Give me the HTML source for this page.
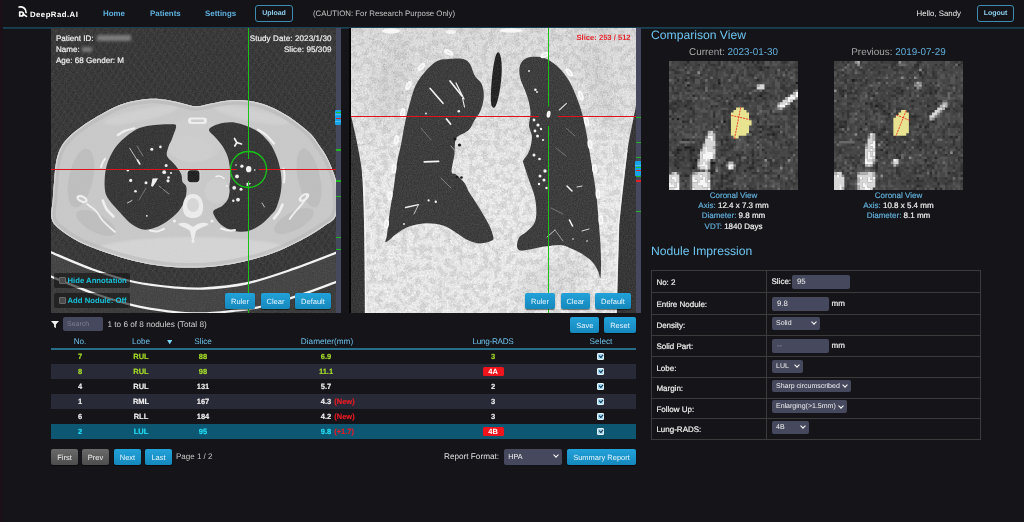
<!DOCTYPE html>
<html>
<head>
<meta charset="utf-8">
<title>DeepRad.AI</title>
<style>
*{box-sizing:border-box;margin:0;padding:0}
html,body{text-rendering:geometricPrecision;width:1024px;height:522px;overflow:hidden;background:#151419;font-family:"Liberation Sans",sans-serif;color:#e8e8e8}
.abs{position:absolute}
#nav{position:absolute;left:0;top:0;width:1024px;height:29px;border-bottom:2px solid #17394a;background:#151419}
#nav .lnk{position:absolute;top:8.5px;line-height:10px;font-size:7.9px;font-weight:bold;color:#5fb0dc;white-space:nowrap}
#nav .txt{position:absolute;top:8.5px;line-height:10px;font-size:7.85px;color:#c4c4c4;white-space:nowrap}
.obtn{position:absolute;border:1px solid #3f8db3;border-radius:3px;font-size:7px;font-weight:bold;color:#8fd0f0;text-align:center;line-height:15px;height:17px}
.leftstrip{position:absolute;left:0;top:0;width:3.3px;height:522px;background:#1c1019;z-index:5}
.view{position:absolute;top:28px;height:285px;width:285px;overflow:hidden;background:#2b2b2b}
.sbar{position:absolute;top:28px;width:5px;height:285px;background:#474a5e}
.ovl{position:absolute;font-size:8.05px;color:#f2f2f2;white-space:nowrap;line-height:11.45px;-webkit-text-stroke:.2px #f2f2f2}
.bbtn{position:absolute;height:16px;border-radius:2px;background:linear-gradient(#23a3da,#1689bd);color:#e6f6ff;font-size:7.5px;text-align:center;line-height:17px;box-shadow:0 1px 1px rgba(0,0,0,.5)}
.gbtn{position:absolute;height:16px;border-radius:2px;background:linear-gradient(#6a6a6a,#4e4e4e);color:#f0f0f0;font-size:7.5px;text-align:center;line-height:17px;box-shadow:0 1px 1px rgba(0,0,0,.5)}
.chk{position:absolute;left:54px;width:76px;height:15px;background:rgba(20,20,20,.62);border-radius:2px}
.chk i{position:absolute;left:5px;top:4px;width:7px;height:7px;background:#4b4b4b;border:1px solid #6a6a6a;border-radius:1px}
.chk span{position:absolute;left:13.5px;top:2.5px;line-height:10px;font-size:7.72px;font-weight:bold;color:#19c3dc;white-space:nowrap}
/* nodule table */
.th{position:absolute;top:337.1px;line-height:10px;font-size:8.2px;color:#6ec2ea;transform:translateX(-50%);white-space:nowrap}
.row{position:absolute;left:51px;width:585px;height:15px;font-size:7.5px;font-weight:bold;color:#f0f0f0}
.row span{position:absolute;top:3.3px;-webkit-text-stroke:.15px;transform:translateX(-50%);white-space:nowrap;line-height:10px}
.row em{font-style:normal;color:#ee1c25;position:absolute;left:100%;margin-left:3px;top:0}
.row b.badge{position:absolute;left:431.6px;top:3.4px;width:21px;height:8.4px;background:#f0141c;color:#fff;font-size:7.5px;line-height:9.5px;text-align:center;border-radius:1.5px}
.row i.cb{position:absolute;left:546.4px;top:3.9px;width:6.8px;height:6.8px;background:#9dd6f6;border:.6px solid #e8f6ff;border-radius:1px}
.row i.cb:after{content:"";position:absolute;left:.9px;top:.1px;width:3.4px;height:1.9px;border-left:1.3px solid #15324a;border-bottom:1.3px solid #15324a;transform:rotate(-48deg)}
.hpa:after{top:4.8px !important}
.g{color:#a9e02a !important}
.c{color:#24e0f8 !important}
.odd{background:#2a2b39}
.sel{background:#0f5873}
/* right panel */
.h2{position:absolute;left:651px;line-height:16px;font-size:12.15px;color:#6ec6f0;white-space:nowrap}
.cap{position:absolute;line-height:12px;font-size:9.9px;color:#a8a8a8;white-space:nowrap;transform:translateX(-50%)}
.cap b{font-weight:normal;color:#62aed8}
.info{position:absolute;font-size:8px;line-height:10.4px;-webkit-text-stroke:.2px;text-align:center;color:#f0f0f0;white-space:nowrap;transform:translateX(-50%)}
.info b{font-weight:normal;color:#62aed8}
.thumb{position:absolute;top:61px;width:129px;height:129px;background:#4a4a4a;overflow:hidden}
#imp{position:absolute;left:651px;top:270px;width:330px;height:170px;border:1px solid #3c3c3c}
#imp .hl{position:absolute;left:0;width:328px;height:1px;background:#3c3c3c}
#imp .vl{position:absolute;left:113.6px;top:0;width:1px;height:168px;background:#3c3c3c}
#imp .lb{position:absolute;left:4.4px;-webkit-text-stroke:.2px;line-height:10px;font-size:8px;color:#f0f0f0;white-space:nowrap}
.inp{position:absolute;height:14px;background:#474a5e;border-radius:2px;font-size:7.8px;color:#f2f2f2;line-height:14px;padding-left:5px}
.selx{position:absolute;height:12.6px;background:#474a5e;border-radius:2px;font-size:7px;color:#f2f2f2;line-height:13px;padding-left:4px;white-space:nowrap}
.selx:after{content:"";position:absolute;right:4px;top:3.2px;width:3px;height:3px;border-right:1.2px solid #fff;border-bottom:1.2px solid #fff;transform:rotate(45deg)}
</style>
</head>
<body>
<div id="root" style="position:absolute;left:0;top:0;width:1024px;height:522px;will-change:transform;opacity:.9999">
<div class="leftstrip"></div>
<!-- NAV -->
<div id="nav">
  <svg class="abs" style="left:18px;top:6px" width="10" height="12" viewBox="0 0 10 12"><path d="M1.1 1 C4.8 0.3 8.2 2.6 8.1 6.6" fill="none" stroke="#fff" stroke-width="1.7" stroke-linecap="round"/><path d="M1.7 6.0 H3.4 A2.0 2.0 0 0 1 3.4 10 H1.7Z" fill="none" stroke="#fff" stroke-width="1.7" stroke-linejoin="round"/><path d="M5.4 8.4 L8.5 10.4" stroke="#fff" stroke-width="1.7" stroke-linecap="round"/></svg>
  <div class="abs" style="left:30px;top:9.9px;line-height:10px;font-size:7.8px;letter-spacing:.45px;font-weight:bold;color:#fff;white-space:nowrap">DeepRad.AI</div>
  <div class="lnk" style="left:103px">Home</div>
  <div class="lnk" style="left:150px">Patients</div>
  <div class="lnk" style="left:205px">Settings</div>
  <div class="obtn" style="left:255px;top:5px;width:38px">Upload</div>
  <div class="txt" style="left:313px">(CAUTION: For Research Purpose Only)</div>
  <div class="abs" style="left:916.5px;top:8.5px;line-height:10px;font-size:7.85px;color:#f0f0f0;white-space:nowrap">Hello, Sandy</div>
  <div class="obtn" style="left:977px;top:5px;width:37px">Logout</div>
</div>

<!-- AXIAL VIEW -->
<div class="view" id="ax" style="left:51px">
<!--AXIAL-SVG-->
<svg class="abs" style="left:0;top:0" width="285" height="285" viewBox="0 0 285 285">
<defs>
<filter id="nz" x="0" y="0" width="100%" height="100%"><feTurbulence type="fractalNoise" baseFrequency="0.9" numOctaves="2" seed="3" result="n"/><feColorMatrix in="n" type="matrix" values="0 0 0 0 0.5  0 0 0 0 0.5  0 0 0 0 0.5  0.9 0.9 0.9 0 -0.95"/></filter>
<filter id="b1"><feGaussianBlur stdDeviation="0.6"/></filter>
<filter id="b2"><feGaussianBlur stdDeviation="1.2"/></filter>
<pattern id="diag" width="5" height="5" patternUnits="userSpaceOnUse" patternTransform="rotate(32)"><rect width="5" height="5" fill="#303030"/><rect width="1.3" height="5" fill="#383838"/></pattern>
<pattern id="diag2" width="7" height="7" patternUnits="userSpaceOnUse" patternTransform="rotate(-38)"><rect width="1.4" height="7" fill="#3c3c3c" opacity=".6"/></pattern>
</defs>
<rect width="285" height="285" fill="url(#diag)"/>
<rect width="285" height="285" fill="url(#diag2)"/>
<path d="M-5.0 222.0 C-4.2 222.4 -7.8 221.1 0.0 224.3 C7.8 227.6 27.8 236.6 41.7 241.5 C55.6 246.4 69.6 251.0 83.5 254.0 C97.4 257.0 113.4 258.5 125.0 259.6 C136.6 260.7 141.3 261.2 153.0 260.5 C164.7 259.8 181.1 258.4 195.0 255.5 C208.9 252.6 221.6 248.1 236.6 243.0 C251.6 237.9 276.1 228.3 285.0 224.8 C293.9 221.3 289.2 222.5 290.0 222.0 L290 290 L-5 290Z" fill="#434343" opacity=".85"/>
<path d="M-5.0 246.0 C-4.2 246.4 -7.8 245.3 0.0 248.5 C7.8 251.7 27.8 260.1 41.7 265.0 C55.6 269.9 71.0 274.6 83.5 277.7 C96.0 280.8 105.9 282.0 117.0 283.3 C128.1 284.6 139.3 285.6 150.0 285.5 C160.7 285.4 171.2 284.1 181.0 283.0 C190.8 281.9 197.1 281.7 208.7 279.0 C220.3 276.3 237.8 270.8 250.5 266.6 C263.2 262.4 278.4 256.4 285.0 254.0 C291.6 251.6 289.2 252.3 290.0 252.0 L290 290 L-5 290Z" fill="#363636" opacity=".9"/>
<path d="M-5.0 222.0 C-4.2 222.4 -7.8 221.1 0.0 224.3 C7.8 227.6 27.8 236.6 41.7 241.5 C55.6 246.4 69.6 251.0 83.5 254.0 C97.4 257.0 113.4 258.5 125.0 259.6 C136.6 260.7 141.3 261.2 153.0 260.5 C164.7 259.8 181.1 258.4 195.0 255.5 C208.9 252.6 221.6 248.1 236.6 243.0 C251.6 237.9 276.1 228.3 285.0 224.8 C293.9 221.3 289.2 222.5 290.0 222.0" fill="none" stroke="#f8f8f8" stroke-width="2.3"/>
<path d="M-5.0 246.0 C-4.2 246.4 -7.8 245.3 0.0 248.5 C7.8 251.7 27.8 260.1 41.7 265.0 C55.6 269.9 71.0 274.6 83.5 277.7 C96.0 280.8 105.9 282.0 117.0 283.3 C128.1 284.6 139.3 285.6 150.0 285.5 C160.7 285.4 171.2 284.1 181.0 283.0 C190.8 281.9 197.1 281.7 208.7 279.0 C220.3 276.3 237.8 270.8 250.5 266.6 C263.2 262.4 278.4 256.4 285.0 254.0 C291.6 251.6 289.2 252.3 290.0 252.0" fill="none" stroke="#f8f8f8" stroke-width="2.3"/>
<g filter="url(#b1)">
<path d="M145.3 78.3 C140.2 78.2 135.1 76.1 130.0 75.0 C125.0 73.9 120.0 72.5 115.0 71.8 C110.0 71.1 105.3 70.5 100.0 70.7 C94.7 70.9 88.3 71.8 83.0 72.9 C77.7 74.0 72.9 75.2 67.9 77.2 C62.9 79.2 57.5 82.2 52.9 84.7 C48.2 87.2 43.8 89.8 40.0 92.2 C36.2 94.6 33.4 96.5 30.0 99.0 C26.6 101.5 22.6 104.3 19.4 107.5 C16.1 110.7 12.8 114.2 10.5 118.3 C8.2 122.4 6.7 126.4 5.5 132.0 C4.3 137.6 3.8 145.2 3.2 151.7 C2.6 158.2 2.2 164.6 1.8 171.0 C1.4 177.4 -0.6 185.0 0.5 190.0 C1.6 195.0 3.8 197.1 8.3 201.0 C12.9 204.9 19.9 209.7 27.8 213.7 C35.7 217.7 46.4 221.6 55.7 224.8 C65.0 228.0 74.3 230.8 83.5 233.0 C92.7 235.2 101.8 236.9 111.0 238.0 C120.2 239.1 129.7 239.6 139.0 239.6 C148.3 239.6 157.7 239.1 167.0 238.0 C176.3 236.9 185.7 235.2 195.0 233.0 C204.3 230.8 213.4 228.3 222.7 224.8 C231.9 221.3 242.2 216.4 250.5 212.0 C258.8 207.6 266.9 202.6 272.7 198.4 C278.4 194.2 282.8 193.4 285.0 187.0 C287.2 180.6 286.3 166.8 286.0 160.0 C285.7 153.2 284.7 151.1 283.0 146.0 C281.3 140.9 278.5 134.2 276.0 129.4 C273.5 124.6 270.7 120.9 268.0 117.0 C265.3 113.1 263.7 110.0 260.0 106.2 C256.3 102.4 251.2 98.2 246.0 94.4 C240.8 90.6 234.7 86.6 229.0 83.6 C223.3 80.5 217.6 77.9 211.9 76.1 C206.2 74.2 200.4 73.1 194.7 72.5 C189.0 71.9 183.2 72.0 177.5 72.5 C171.8 73.0 165.7 74.5 160.3 75.5 C154.9 76.5 150.4 78.4 145.3 78.3Z" fill="#cbcbcb"/>
<clipPath id="bodyclip"><path d="M145.3 78.3 C140.2 78.2 135.1 76.1 130.0 75.0 C125.0 73.9 120.0 72.5 115.0 71.8 C110.0 71.1 105.3 70.5 100.0 70.7 C94.7 70.9 88.3 71.8 83.0 72.9 C77.7 74.0 72.9 75.2 67.9 77.2 C62.9 79.2 57.5 82.2 52.9 84.7 C48.2 87.2 43.8 89.8 40.0 92.2 C36.2 94.6 33.4 96.5 30.0 99.0 C26.6 101.5 22.6 104.3 19.4 107.5 C16.1 110.7 12.8 114.2 10.5 118.3 C8.2 122.4 6.7 126.4 5.5 132.0 C4.3 137.6 3.8 145.2 3.2 151.7 C2.6 158.2 2.2 164.6 1.8 171.0 C1.4 177.4 -0.6 185.0 0.5 190.0 C1.6 195.0 3.8 197.1 8.3 201.0 C12.9 204.9 19.9 209.7 27.8 213.7 C35.7 217.7 46.4 221.6 55.7 224.8 C65.0 228.0 74.3 230.8 83.5 233.0 C92.7 235.2 101.8 236.9 111.0 238.0 C120.2 239.1 129.7 239.6 139.0 239.6 C148.3 239.6 157.7 239.1 167.0 238.0 C176.3 236.9 185.7 235.2 195.0 233.0 C204.3 230.8 213.4 228.3 222.7 224.8 C231.9 221.3 242.2 216.4 250.5 212.0 C258.8 207.6 266.9 202.6 272.7 198.4 C278.4 194.2 282.8 193.4 285.0 187.0 C287.2 180.6 286.3 166.8 286.0 160.0 C285.7 153.2 284.7 151.1 283.0 146.0 C281.3 140.9 278.5 134.2 276.0 129.4 C273.5 124.6 270.7 120.9 268.0 117.0 C265.3 113.1 263.7 110.0 260.0 106.2 C256.3 102.4 251.2 98.2 246.0 94.4 C240.8 90.6 234.7 86.6 229.0 83.6 C223.3 80.5 217.6 77.9 211.9 76.1 C206.2 74.2 200.4 73.1 194.7 72.5 C189.0 71.9 183.2 72.0 177.5 72.5 C171.8 73.0 165.7 74.5 160.3 75.5 C154.9 76.5 150.4 78.4 145.3 78.3Z"/></clipPath>
<g clip-path="url(#bodyclip)" filter="url(#b2)"><ellipse cx="142" cy="224" rx="100" ry="15" fill="#d8d8d8" opacity=".9"/><ellipse cx="90" cy="87" rx="38" ry="6" fill="#d4d4d4" opacity=".8" transform="rotate(-12 90 87)"/><ellipse cx="200" cy="87" rx="38" ry="6" fill="#d4d4d4" opacity=".8" transform="rotate(12 200 87)"/><ellipse cx="142" cy="112" rx="30" ry="22" fill="#d0d0d0" opacity=".7"/></g>
<path d="M103.6 96.9 C109.0 96.3 117.3 96.1 120.9 96.3 C124.5 96.5 124.9 96.1 125.1 98.2 C125.2 100.3 123.1 105.0 121.8 108.7 C120.5 112.4 118.0 117.0 117.0 120.2 C116.0 123.4 115.2 125.5 116.0 127.9 C116.8 130.3 120.0 132.5 121.8 134.6 C123.6 136.7 125.1 138.2 126.6 140.3 C128.0 142.4 129.7 144.8 130.5 147.0 C131.3 149.2 130.6 151.9 131.4 153.8 C132.2 155.7 134.6 156.4 135.2 158.5 C135.8 160.6 135.7 163.3 135.2 166.2 C134.7 169.1 134.1 172.5 132.4 175.8 C130.7 179.1 128.6 182.6 125.0 186.0 C121.4 189.4 116.1 193.9 111.0 196.5 C105.9 199.1 99.5 201.8 94.4 201.7 C89.3 201.6 85.1 199.3 80.5 196.0 C75.9 192.7 70.7 186.3 66.7 182.0 C62.7 177.7 58.9 173.6 56.7 170.0 C54.6 166.4 54.2 164.7 53.8 160.5 C53.4 156.3 53.6 149.9 54.2 145.1 C54.9 140.3 55.9 136.2 57.7 131.7 C59.6 127.2 62.4 122.1 65.3 118.3 C68.2 114.5 71.1 111.7 74.9 108.7 C78.7 105.7 83.5 102.1 88.3 100.1 C93.1 98.1 98.2 97.5 103.6 96.9Z" fill="#333333"/>
<path d="M158.0 101.7 C158.5 99.4 163.4 97.2 167.8 96.0 C172.2 94.8 178.4 93.8 184.4 94.7 C190.4 95.7 198.4 98.5 204.0 101.7 C209.6 104.9 214.1 109.4 217.8 114.0 C221.5 118.6 224.0 124.1 226.0 129.4 C228.0 134.7 229.3 140.4 230.0 146.0 C230.7 151.6 230.8 157.2 230.0 162.8 C229.2 168.4 227.2 175.4 225.5 179.4 C223.8 183.4 222.6 184.1 220.0 187.0 C217.4 189.9 213.9 193.9 210.0 196.6 C206.1 199.3 201.4 202.3 196.6 203.3 C191.8 204.3 185.8 203.5 181.3 202.4 C176.8 201.3 172.9 199.2 169.8 196.6 C166.8 194.0 164.1 189.4 163.0 187.0 C161.9 184.6 161.6 183.9 163.0 182.3 C164.4 180.7 169.3 179.6 171.7 177.5 C174.1 175.4 176.4 173.0 177.5 169.8 C178.6 166.6 178.1 162.1 178.4 158.3 C178.7 154.5 179.6 151.3 179.4 146.8 C179.2 142.3 178.6 136.0 177.5 131.5 C176.4 127.0 174.8 123.6 172.7 120.0 C170.6 116.4 167.4 113.0 165.0 110.0 C162.6 107.0 157.5 104.0 158.0 101.7Z" fill="#333333"/>
</g>
<g filter="url(#b1)">
<g clip-path="url(#bodyclip)">
<path d="M145.3 78.3 C140.2 78.2 135.1 76.1 130.0 75.0 C125.0 73.9 120.0 72.5 115.0 71.8 C110.0 71.1 105.3 70.5 100.0 70.7 C94.7 70.9 88.3 71.8 83.0 72.9 C77.7 74.0 72.9 75.2 67.9 77.2 C62.9 79.2 57.5 82.2 52.9 84.7 C48.2 87.2 43.8 89.8 40.0 92.2 C36.2 94.6 33.4 96.5 30.0 99.0 C26.6 101.5 22.6 104.3 19.4 107.5 C16.1 110.7 12.8 114.2 10.5 118.3 C8.2 122.4 6.7 126.4 5.5 132.0 C4.3 137.6 3.8 145.2 3.2 151.7 C2.6 158.2 2.2 164.6 1.8 171.0 C1.4 177.4 -0.6 185.0 0.5 190.0 C1.6 195.0 3.8 197.1 8.3 201.0 C12.9 204.9 19.9 209.7 27.8 213.7 C35.7 217.7 46.4 221.6 55.7 224.8 C65.0 228.0 74.3 230.8 83.5 233.0 C92.7 235.2 101.8 236.9 111.0 238.0 C120.2 239.1 129.7 239.6 139.0 239.6 C148.3 239.6 157.7 239.1 167.0 238.0 C176.3 236.9 185.7 235.2 195.0 233.0 C204.3 230.8 213.4 228.3 222.7 224.8 C231.9 221.3 242.2 216.4 250.5 212.0 C258.8 207.6 266.9 202.6 272.7 198.4 C278.4 194.2 282.8 193.4 285.0 187.0 C287.2 180.6 286.3 166.8 286.0 160.0 C285.7 153.2 284.7 151.1 283.0 146.0 C281.3 140.9 278.5 134.2 276.0 129.4 C273.5 124.6 270.7 120.9 268.0 117.0 C265.3 113.1 263.7 110.0 260.0 106.2 C256.3 102.4 251.2 98.2 246.0 94.4 C240.8 90.6 234.7 86.6 229.0 83.6 C223.3 80.5 217.6 77.9 211.9 76.1 C206.2 74.2 200.4 73.1 194.7 72.5 C189.0 71.9 183.2 72.0 177.5 72.5 C171.8 73.0 165.7 74.5 160.3 75.5 C154.9 76.5 150.4 78.4 145.3 78.3Z" fill="none" stroke="#dadada" stroke-width="2.2" opacity=".9"/>
<path d="M145.3 78.3 C140.2 78.2 135.1 76.1 130.0 75.0 C125.0 73.9 120.0 72.5 115.0 71.8 C110.0 71.1 105.3 70.5 100.0 70.7 C94.7 70.9 88.3 71.8 83.0 72.9 C77.7 74.0 72.9 75.2 67.9 77.2 C62.9 79.2 57.5 82.2 52.9 84.7 C48.2 87.2 43.8 89.8 40.0 92.2 C36.2 94.6 33.4 96.5 30.0 99.0 C26.6 101.5 22.6 104.3 19.4 107.5 C16.1 110.7 12.8 114.2 10.5 118.3 C8.2 122.4 6.7 126.4 5.5 132.0 C4.3 137.6 3.8 145.2 3.2 151.7 C2.6 158.2 2.2 164.6 1.8 171.0 C1.4 177.4 -0.6 185.0 0.5 190.0 C1.6 195.0 3.8 197.1 8.3 201.0 C12.9 204.9 19.9 209.7 27.8 213.7 C35.7 217.7 46.4 221.6 55.7 224.8 C65.0 228.0 74.3 230.8 83.5 233.0 C92.7 235.2 101.8 236.9 111.0 238.0 C120.2 239.1 129.7 239.6 139.0 239.6 C148.3 239.6 157.7 239.1 167.0 238.0 C176.3 236.9 185.7 235.2 195.0 233.0 C204.3 230.8 213.4 228.3 222.7 224.8 C231.9 221.3 242.2 216.4 250.5 212.0 C258.8 207.6 266.9 202.6 272.7 198.4 C278.4 194.2 282.8 193.4 285.0 187.0 C287.2 180.6 286.3 166.8 286.0 160.0 C285.7 153.2 284.7 151.1 283.0 146.0 C281.3 140.9 278.5 134.2 276.0 129.4 C273.5 124.6 270.7 120.9 268.0 117.0 C265.3 113.1 263.7 110.0 260.0 106.2 C256.3 102.4 251.2 98.2 246.0 94.4 C240.8 90.6 234.7 86.6 229.0 83.6 C223.3 80.5 217.6 77.9 211.9 76.1 C206.2 74.2 200.4 73.1 194.7 72.5 C189.0 71.9 183.2 72.0 177.5 72.5 C171.8 73.0 165.7 74.5 160.3 75.5 C154.9 76.5 150.4 78.4 145.3 78.3Z" fill="none" stroke="#b6b6b6" stroke-width="9" opacity=".5"/>
<path d="M145.3 78.3 C140.2 78.2 135.1 76.1 130.0 75.0 C125.0 73.9 120.0 72.5 115.0 71.8 C110.0 71.1 105.3 70.5 100.0 70.7 C94.7 70.9 88.3 71.8 83.0 72.9 C77.7 74.0 72.9 75.2 67.9 77.2 C62.9 79.2 57.5 82.2 52.9 84.7 C48.2 87.2 43.8 89.8 40.0 92.2 C36.2 94.6 33.4 96.5 30.0 99.0 C26.6 101.5 22.6 104.3 19.4 107.5 C16.1 110.7 12.8 114.2 10.5 118.3 C8.2 122.4 6.7 126.4 5.5 132.0 C4.3 137.6 3.8 145.2 3.2 151.7 C2.6 158.2 2.2 164.6 1.8 171.0 C1.4 177.4 -0.6 185.0 0.5 190.0 C1.6 195.0 3.8 197.1 8.3 201.0 C12.9 204.9 19.9 209.7 27.8 213.7 C35.7 217.7 46.4 221.6 55.7 224.8 C65.0 228.0 74.3 230.8 83.5 233.0 C92.7 235.2 101.8 236.9 111.0 238.0 C120.2 239.1 129.7 239.6 139.0 239.6 C148.3 239.6 157.7 239.1 167.0 238.0 C176.3 236.9 185.7 235.2 195.0 233.0 C204.3 230.8 213.4 228.3 222.7 224.8 C231.9 221.3 242.2 216.4 250.5 212.0 C258.8 207.6 266.9 202.6 272.7 198.4 C278.4 194.2 282.8 193.4 285.0 187.0 C287.2 180.6 286.3 166.8 286.0 160.0 C285.7 153.2 284.7 151.1 283.0 146.0 C281.3 140.9 278.5 134.2 276.0 129.4 C273.5 124.6 270.7 120.9 268.0 117.0 C265.3 113.1 263.7 110.0 260.0 106.2 C256.3 102.4 251.2 98.2 246.0 94.4 C240.8 90.6 234.7 86.6 229.0 83.6 C223.3 80.5 217.6 77.9 211.9 76.1 C206.2 74.2 200.4 73.1 194.7 72.5 C189.0 71.9 183.2 72.0 177.5 72.5 C171.8 73.0 165.7 74.5 160.3 75.5 C154.9 76.5 150.4 78.4 145.3 78.3Z" fill="none" stroke="#dcdcdc" stroke-width="2" opacity=".9"/>
</g>
<ellipse cx="30" cy="150" rx="12" ry="30" fill="#b6b6b6" opacity=".55" transform="rotate(12 30 150)"/>
<ellipse cx="258" cy="150" rx="11" ry="30" fill="#b6b6b6" opacity=".55" transform="rotate(-12 258 150)"/>
<ellipse cx="45" cy="195" rx="22" ry="9" fill="#b6b6b6" opacity=".5" transform="rotate(28 45 195)"/>
<ellipse cx="243" cy="193" rx="22" ry="9" fill="#b6b6b6" opacity=".5" transform="rotate(-28 243 193)"/>
<ellipse cx="139.5" cy="121.5" rx="22" ry="12.5" fill="#d0d0d0" transform="rotate(8 139.5 121.5)"/>
<circle cx="166" cy="163" r="12.5" fill="#d0d0d0"/>
<path d="M165 148.5 C168 147.5 171 148.5 173 150.5" stroke="#f6f6f6" stroke-width="1.6" fill="none" stroke-linecap="round"/>
<rect x="135.3" y="140.8" width="14.4" height="14.8" rx="4.5" fill="#d6d6d6"/>
<rect x="136.6" y="142.2" width="11.8" height="12" rx="3.4" fill="#1c1c1c"/>
<rect x="137" y="89.5" width="19" height="6.5" rx="3.2" fill="#f2f2f2"/>
<rect x="140" y="91.6" width="13" height="2.3" rx="1.1" fill="#cfcfcf"/>
<path d="M142 166 C150 166 153 174 152 182 C151 188 147 190 142 190 C137 190 133 188 132 182 C131 174 134 166 142 166Z" fill="#efefef"/>
<ellipse cx="142" cy="177" rx="6" ry="7" fill="#d9d9d9"/>
<path d="M127 196 C133 193 138 196 142 199 C146 196 151 193 158 196 C154 199 148 200 145 203 L142 216 L139 203 C136 200 130 199 127 196Z" fill="#f1f1f1"/>
<circle cx="142.0" cy="213.0" r="1.5" fill="#f4f4f4"/>
<circle cx="123.5" cy="193.0" r="1.6" fill="#f4f4f4"/>
<circle cx="161.0" cy="193.0" r="1.6" fill="#f4f4f4"/>
<path d="M66.7 107.2 C67.9 106.5 71.2 104.0 74.0 102.8 C76.8 101.6 81.8 100.7 83.3 100.3" fill="none" stroke="#f4f4f4" stroke-width="2.2" stroke-linecap="round" opacity="1"/>
<path d="M50.0 139.0 C50.2 138.3 50.8 136.4 51.5 135.0 C52.2 133.6 53.6 131.5 54.0 130.8" fill="none" stroke="#f4f4f4" stroke-width="2.0" stroke-linecap="round" opacity="1"/>
<path d="M51.8 172.5 C52.4 173.9 53.7 178.3 55.5 181.0 C57.3 183.7 61.3 187.2 62.5 188.5" fill="none" stroke="#f4f4f4" stroke-width="2.6" stroke-linecap="round" opacity="1"/>
<path d="M99.0 202.5 C100.2 202.7 103.7 203.8 106.0 203.5 C108.3 203.2 111.8 201.4 113.0 201.0" fill="none" stroke="#f4f4f4" stroke-width="2.0" stroke-linecap="round" opacity="1"/>
<ellipse cx="31" cy="171" rx="6" ry="3.6" fill="#f3f3f3" transform="rotate(25 31 171)"/>
<ellipse cx="31" cy="171" rx="3.4" ry="1.5" fill="#c9c9c9" transform="rotate(25 31 171)"/>
<path d="M36.0 176.0 C37.5 177.2 42.3 180.2 45.0 183.0 C47.7 185.8 48.8 189.5 52.0 193.0 C55.2 196.5 62.0 202.2 64.0 204.0" fill="none" stroke="#f4f4f4" stroke-width="1.8" stroke-linecap="round" opacity="1"/>
<path d="M207.0 101.7 C208.3 102.6 212.3 104.7 215.0 107.0 C217.7 109.3 221.7 114.1 223.0 115.5" fill="none" stroke="#f4f4f4" stroke-width="2.2" stroke-linecap="round" opacity="1"/>
<path d="M232.5 140.5 C232.7 141.6 233.4 144.7 233.5 147.0 C233.6 149.3 233.1 153.2 233.0 154.4" fill="none" stroke="#f4f4f4" stroke-width="2.0" stroke-linecap="round" opacity="1"/>
<path d="M231.5 176.7 C230.9 177.9 229.4 181.7 228.0 184.0 C226.6 186.3 223.8 189.4 223.0 190.5" fill="none" stroke="#f4f4f4" stroke-width="2.6" stroke-linecap="round" opacity="1"/>
<path d="M170.0 200.5 C171.2 200.8 174.7 202.2 177.0 202.5 C179.3 202.8 182.8 202.1 184.0 202.0" fill="none" stroke="#f4f4f4" stroke-width="2.0" stroke-linecap="round" opacity="1"/>
<ellipse cx="253" cy="169.5" rx="6" ry="3.4" fill="#f3f3f3" transform="rotate(-35 253 169.5)"/>
<ellipse cx="253" cy="169.5" rx="3.2" ry="1.4" fill="#c9c9c9" transform="rotate(-35 253 169.5)"/>
<path d="M257.0 167.0 C256.0 168.5 253.2 173.2 251.0 176.0 C248.8 178.8 246.1 181.5 244.0 184.0 C241.9 186.5 239.5 189.8 238.6 191.0" fill="none" stroke="#f4f4f4" stroke-width="1.8" stroke-linecap="round" opacity="1"/>
<ellipse cx="173" cy="90" rx="5" ry="2.2" fill="#e9e9e9" opacity=".0"/>
</g>
<g>
<circle cx="109.4" cy="118.9" r="1.3" fill="#f4f4f4"/>
<circle cx="100.8" cy="121.2" r="1.5" fill="#f4f4f4"/>
<circle cx="76.8" cy="142.3" r="1.2" fill="#f4f4f4"/>
<circle cx="79.7" cy="152.4" r="1.6" fill="#f4f4f4"/>
<circle cx="95.0" cy="154.7" r="1.5" fill="#f4f4f4"/>
<circle cx="113.2" cy="144.2" r="1.9" fill="#f4f4f4"/>
<circle cx="115.1" cy="137.5" r="1.5" fill="#f4f4f4"/>
<circle cx="117.0" cy="152.8" r="1.6" fill="#f4f4f4"/>
<circle cx="117.5" cy="149.5" r="1.3" fill="#f4f4f4"/>
<circle cx="84.5" cy="163.3" r="1.3" fill="#f4f4f4"/>
<circle cx="95.8" cy="187.8" r="0.9" fill="#f4f4f4"/>
<circle cx="120.0" cy="145.0" r="1.0" fill="#f4f4f4"/>
<circle cx="190.9" cy="138.2" r="1.6" fill="#f4f4f4"/>
<circle cx="186.0" cy="148.4" r="1.9" fill="#f4f4f4"/>
<circle cx="203.7" cy="142.0" r="0.8" fill="#f4f4f4"/>
<circle cx="196.6" cy="156.0" r="1.2" fill="#f4f4f4"/>
<circle cx="183.2" cy="159.8" r="1.9" fill="#f4f4f4"/>
<circle cx="190.0" cy="161.2" r="1.5" fill="#f4f4f4"/>
<circle cx="187.0" cy="171.7" r="1.9" fill="#f4f4f4"/>
<circle cx="182.3" cy="172.7" r="1.2" fill="#f4f4f4"/>
<circle cx="185.0" cy="137.0" r="0.8" fill="#f4f4f4"/>
<circle cx="176.0" cy="158.0" r="1.0" fill="#f4f4f4"/>
<path d="M100 158 L101.5 150.5 L107 150.2 L105 154 L101.8 158.8Z" fill="#f4f4f4"/>
<circle cx="111.3" cy="160.5" r="1.5" fill="#151515"/>
<path d="M78.7 120.2L88.3 135.5" stroke="#d0d0d0" stroke-width="0.9" stroke-linecap="round" opacity="1"/>
<path d="M86.5 132.0L88.8 136.0" stroke="#f0f0f0" stroke-width="1.6" stroke-linecap="round" opacity="1"/>
<path d="M76.4 175.0L81.0 172.5" stroke="#d8d8d8" stroke-width="0.9" stroke-linecap="round" opacity="1"/>
<path d="M86.0 118.0L92.0 128.0" stroke="#9a9a9a" stroke-width="0.7" stroke-linecap="round" opacity="1"/>
<path d="M108.0 158.0L118.0 166.0" stroke="#a8a8a8" stroke-width="0.8" stroke-linecap="round" opacity="1"/>
<path d="M95.0 160.0L88.0 172.0" stroke="#8a8a8a" stroke-width="0.7" stroke-linecap="round" opacity="1"/>
<path d="M183.5 110.5 L185.8 114.5 L190.5 116 M185.8 114.5 L183.8 118" stroke="#f4f4f4" stroke-width="1.7" fill="none" stroke-linecap="round"/>
<path d="M211.0 175.0L213.5 179.0" stroke="#d0d0d0" stroke-width="0.9" stroke-linecap="round" opacity="1"/>
<ellipse cx="197.7" cy="141.2" rx="2.7" ry="3.1" fill="#f6f6f6"/>
<path d="M196.0 157.5L199.0 155.5" stroke="#eeeeee" stroke-width="1.2" stroke-linecap="round" opacity="1"/>
</g>
<rect width="285" height="285" filter="url(#nz)" opacity="0.15"/>
<path d="M0 141.5H186M208 141.5H285" stroke="#e0141c" stroke-width="1"/>
<path d="M197.5 0V131M197.5 153V285" stroke="#18c418" stroke-width="1"/>
<circle cx="197.5" cy="141.5" r="18" fill="none" stroke="#18c418" stroke-width="1.3"/>
</svg>
<!--/AXIAL-SVG-->
</div>
<div class="sbar" id="axsb" style="left:336px">
<i style="position:absolute;left:-1.5px;top:82.3px;width:6px;height:15px;background:#18a4e6;border-radius:1px"></i>
<i style="position:absolute;left:-1.5px;top:86px;width:6px;height:1px;background:#4fc0f4"></i>
<i style="position:absolute;left:-1.5px;top:92.5px;width:6px;height:1px;background:#4fc0f4"></i>
<i style="position:absolute;left:0;top:83.5px;width:5px;height:1.2px;background:#22c422"></i>
<i style="position:absolute;left:-.5px;top:89.7px;width:5.5px;height:1.6px;background:#e8202a"></i>
<i style="position:absolute;left:0;top:121.4px;width:5px;height:1.2px;background:#22b822"></i>
<i style="position:absolute;left:0;top:152.4px;width:5px;height:1.2px;background:#22b822"></i>
<i style="position:absolute;left:0;top:167.6px;width:5px;height:1.2px;background:#22b822"></i>
<i style="position:absolute;left:0;top:208.7px;width:5px;height:1.2px;background:#22b822"></i>
<i style="position:absolute;left:0;top:221.2px;width:5px;height:1.2px;background:#22b822"></i>
</div>

<!-- CORONAL VIEW -->
<div class="abs" style="left:349px;top:28px;width:2px;height:285px;background:#050507"></div>
<div class="view" id="co" style="left:351px;background:#dcdcdc">
<!--CORONAL-SVG-->
<svg class="abs" style="left:0;top:0" width="285" height="285" viewBox="0 0 285 285">
<defs>
<filter id="nz2" x="0" y="0" width="100%" height="100%"><feTurbulence type="fractalNoise" baseFrequency="0.55" numOctaves="2" seed="11" result="n"/><feColorMatrix in="n" type="matrix" values="0 0 0 0 0.35  0 0 0 0 0.35  0 0 0 0 0.35  1.4 1.4 1.4 0 -1.45"/></filter>
<filter id="nz3" x="0" y="0" width="100%" height="100%"><feTurbulence type="fractalNoise" baseFrequency="0.8" numOctaves="2" seed="5" result="n"/><feColorMatrix in="n" type="matrix" values="0 0 0 0 1  0 0 0 0 1  0 0 0 0 1  1.2 1.2 1.2 0 -1.3"/></filter>
<filter id="nz4" x="0" y="0" width="100%" height="100%" color-interpolation-filters="sRGB"><feTurbulence type="fractalNoise" baseFrequency="0.16" numOctaves="3" seed="8" result="n"/><feColorMatrix in="n" type="matrix" values="0 0 0 0 0.6  0 0 0 0 0.6  0 0 0 0 0.6  6 0 0 0 -2.7"/></filter>
<linearGradient id="topdark" x1="0" y1="0" x2="0" y2="1"><stop offset="0" stop-color="#bdbdbd" stop-opacity=".42"/><stop offset=".3" stop-color="#bdbdbd" stop-opacity=".22"/><stop offset=".55" stop-color="#bdbdbd" stop-opacity="0"/></linearGradient>
<filter id="c1"><feGaussianBlur stdDeviation="0.55"/></filter>
<filter id="c3"><feGaussianBlur stdDeviation="4"/></filter>
</defs>
<rect width="285" height="285" fill="#f5f5f5"/>
<g filter="url(#c3)">
<ellipse cx="40" cy="55" rx="16" ry="45" fill="#dcdcdc" opacity=".8" transform="rotate(14 40 55)"/>
<ellipse cx="250" cy="60" rx="14" ry="45" fill="#dcdcdc" opacity=".8" transform="rotate(-14 250 60)"/>
<ellipse cx="150" cy="150" rx="26" ry="45" fill="#f6f6f6" opacity=".9"/>
<ellipse cx="200" cy="255" rx="40" ry="20" fill="#dedede" opacity=".7" transform="rotate(-30 200 255)"/>
<ellipse cx="90" cy="245" rx="40" ry="30" fill="#f3f3f3" opacity=".8"/>
</g>
<rect width="285" height="285" fill="url(#topdark)"/>
<rect width="285" height="285" filter="url(#nz4)" opacity="0.33"/>
<rect width="285" height="285" filter="url(#nz2)" opacity="0.3"/>
<rect width="285" height="285" filter="url(#nz3)" opacity="0.35"/>
<g filter="url(#c1)">
<path d="M86.2 33.0 C90.0 31.0 93.4 31.3 97.7 31.0 C102.0 30.7 108.5 30.2 112.0 31.0 C115.5 31.8 117.1 33.3 119.0 36.0 C120.9 38.7 121.6 44.1 123.6 47.4 C125.5 50.7 129.2 52.4 130.7 56.0 C132.2 59.6 133.0 64.5 132.8 69.0 C132.6 73.5 130.8 79.5 129.3 83.3 C127.8 87.1 125.3 89.1 123.6 92.0 C121.9 94.9 120.7 98.4 119.0 100.6 C117.3 102.8 115.8 103.3 113.5 105.0 C111.2 106.7 106.7 107.0 105.0 110.6 C103.3 114.2 104.1 120.9 103.4 126.4 C102.7 131.9 100.3 140.3 100.6 143.7 C100.9 147.0 102.8 144.6 105.0 146.5 C107.2 148.4 111.4 152.1 113.5 155.0 C115.6 157.9 116.1 160.8 117.8 163.7 C119.5 166.6 121.4 169.0 123.6 172.4 C125.8 175.8 128.3 179.8 130.7 183.9 C133.1 188.0 136.1 192.7 138.0 196.8 C139.9 200.9 141.7 205.7 142.2 208.3 C142.7 210.9 143.0 211.4 140.8 212.6 C138.7 213.8 133.1 215.5 129.3 215.5 C125.5 215.5 121.6 214.3 117.8 212.6 C114.0 210.9 110.6 207.9 106.3 205.4 C102.0 202.9 97.3 199.3 92.0 197.6 C86.7 195.9 80.5 195.1 74.7 195.3 C69.0 195.5 62.3 197.1 57.5 198.8 C52.7 200.5 49.8 202.9 46.0 205.4 C42.2 207.9 36.7 213.8 35.0 214.0 C33.3 214.2 35.4 211.8 36.0 206.8 C36.6 201.8 37.6 192.0 38.8 183.9 C40.0 175.8 41.8 166.2 43.0 158.0 C44.2 149.8 44.8 142.2 46.0 135.0 C47.2 127.8 48.9 122.2 50.3 115.0 C51.7 107.8 53.1 98.7 54.6 92.0 C56.1 85.3 57.3 80.5 59.0 74.7 C60.7 69.0 62.0 62.8 64.6 57.5 C67.2 52.2 71.1 47.1 74.7 43.0 C78.3 38.9 82.4 35.0 86.2 33.0Z" fill="#363636"/>
<path d="M175.2 30.2 C178.1 28.8 183.1 28.5 186.7 28.7 C190.3 28.9 193.2 29.7 196.8 31.6 C200.4 33.5 204.7 36.6 208.3 40.2 C211.9 43.8 215.4 48.4 218.3 53.2 C221.2 58.0 223.3 63.5 225.5 69.0 C227.7 74.5 229.6 80.0 231.3 86.2 C233.0 92.4 234.3 99.6 235.6 106.3 C236.9 113.0 237.8 119.1 239.0 126.4 C240.2 133.7 241.7 142.8 242.8 150.0 C243.9 157.2 244.8 162.4 245.6 169.5 C246.4 176.6 247.0 184.8 247.6 192.5 C248.2 200.2 249.0 208.3 249.4 215.5 C249.8 222.7 250.0 229.8 250.0 235.6 C250.0 241.3 249.9 248.8 249.4 250.0 C248.9 251.2 248.3 245.5 247.0 242.8 C245.7 240.1 243.7 236.6 241.3 234.0 C238.9 231.4 236.0 229.2 232.7 227.0 C229.3 224.8 225.0 222.7 221.2 221.0 C217.4 219.3 214.0 217.4 209.7 217.0 C205.4 216.6 200.1 217.6 195.3 218.3 C190.5 219.0 185.3 220.3 181.0 221.0 C176.7 221.7 172.0 223.0 169.5 222.6 C167.0 222.2 166.2 220.5 166.0 218.3 C165.8 216.2 166.5 212.1 168.0 209.7 C169.5 207.3 172.8 206.2 175.2 204.0 C177.6 201.8 180.7 199.7 182.4 196.8 C184.1 193.9 185.1 191.2 185.3 186.7 C185.6 182.1 185.1 175.3 183.9 169.5 C182.7 163.7 179.9 157.8 178.0 152.0 C176.1 146.2 173.3 138.3 172.4 135.0 C171.5 131.7 171.5 134.1 172.4 132.2 C173.3 130.3 176.6 127.4 178.0 123.6 C179.4 119.8 181.0 113.5 181.0 109.2 C181.0 104.9 178.2 101.5 178.0 97.7 C177.8 93.9 179.5 90.0 179.5 86.2 C179.5 82.4 178.9 78.8 178.0 74.7 C177.1 70.6 175.3 66.1 173.8 61.8 C172.3 57.5 169.8 53.0 169.0 48.9 C168.2 44.8 168.0 40.5 169.0 37.4 C170.0 34.3 172.2 31.6 175.2 30.2Z" fill="#363636"/>
<path d="M147.6 24.3 C150.6 26.5 151.6 40 150.2 52 C148.8 65 146.2 77 143.6 79.6 C140.6 80.6 139.4 76 139.9 66 C140.4 52 142.4 34 145 27 C145.8 25 146.8 23.8 147.6 24.3Z" fill="#1d1d1d"/>
<path d="M0 88 C3 100 7.5 120 10.5 140 C12.5 160 13.6 200 13.8 285 L-2 285Z" fill="#2e2e2e"/>
<path d="M12.6 150 C14.4 190 14.8 240 14.8 285" stroke="#f6f6f6" stroke-width="1.5" fill="none" opacity=".85"/>
<path d="M286 72 C283 90 279 105 276.5 122 C273 150 270 175 268 197 L265.5 285 L290 285Z" fill="#2e2e2e"/>
<path d="M275.8 122 C272.5 150 269.5 175 267.5 197 L265 285" stroke="#f6f6f6" stroke-width="1.6" fill="none" opacity=".85"/>
</g>
<g filter="url(#c1)">
<ellipse cx="70.4" cy="38.8" rx="2.5" ry="5.0" fill="#fafafa" transform="rotate(40 70.4 38.8)"/>
<ellipse cx="70.4" cy="38.8" rx="0.8" ry="2.6" fill="#e6e6e6" transform="rotate(40 70.4 38.8)"/>
<ellipse cx="57.5" cy="57.5" rx="2.5" ry="5.0" fill="#fafafa" transform="rotate(25 57.5 57.5)"/>
<ellipse cx="57.5" cy="57.5" rx="0.8" ry="2.6" fill="#e6e6e6" transform="rotate(25 57.5 57.5)"/>
<ellipse cx="51.7" cy="84.8" rx="2.5" ry="5.0" fill="#fafafa" transform="rotate(12 51.7 84.8)"/>
<ellipse cx="51.7" cy="84.8" rx="0.8" ry="2.6" fill="#e6e6e6" transform="rotate(12 51.7 84.8)"/>
<ellipse cx="45.4" cy="112.0" rx="2.5" ry="5.0" fill="#fafafa" transform="rotate(8 45.4 112.0)"/>
<ellipse cx="45.4" cy="112.0" rx="0.8" ry="2.6" fill="#e6e6e6" transform="rotate(8 45.4 112.0)"/>
<ellipse cx="43.0" cy="140.8" rx="2.5" ry="5.0" fill="#fafafa" transform="rotate(5 43.0 140.8)"/>
<ellipse cx="43.0" cy="140.8" rx="0.8" ry="2.6" fill="#e6e6e6" transform="rotate(5 43.0 140.8)"/>
<ellipse cx="39.0" cy="168.0" rx="2.5" ry="5.0" fill="#fafafa" transform="rotate(8 39.0 168.0)"/>
<ellipse cx="39.0" cy="168.0" rx="0.8" ry="2.6" fill="#e6e6e6" transform="rotate(8 39.0 168.0)"/>
<ellipse cx="35.5" cy="196.0" rx="2.5" ry="5.0" fill="#fafafa" transform="rotate(6 35.5 196.0)"/>
<ellipse cx="35.5" cy="196.0" rx="0.8" ry="2.6" fill="#e6e6e6" transform="rotate(6 35.5 196.0)"/>
<ellipse cx="97.7" cy="24.4" rx="2.5" ry="5.0" fill="#fafafa" transform="rotate(-65 97.7 24.4)"/>
<ellipse cx="97.7" cy="24.4" rx="0.8" ry="2.6" fill="#e6e6e6" transform="rotate(-65 97.7 24.4)"/>
<ellipse cx="218.3" cy="44.5" rx="2.5" ry="5.0" fill="#fafafa" transform="rotate(-38 218.3 44.5)"/>
<ellipse cx="218.3" cy="44.5" rx="0.8" ry="2.6" fill="#e6e6e6" transform="rotate(-38 218.3 44.5)"/>
<ellipse cx="229.8" cy="67.5" rx="2.5" ry="5.0" fill="#fafafa" transform="rotate(-20 229.8 67.5)"/>
<ellipse cx="229.8" cy="67.5" rx="0.8" ry="2.6" fill="#e6e6e6" transform="rotate(-20 229.8 67.5)"/>
<ellipse cx="235.6" cy="93.4" rx="2.5" ry="5.0" fill="#fafafa" transform="rotate(-12 235.6 93.4)"/>
<ellipse cx="235.6" cy="93.4" rx="0.8" ry="2.6" fill="#e6e6e6" transform="rotate(-12 235.6 93.4)"/>
<ellipse cx="239.0" cy="116.4" rx="2.5" ry="5.0" fill="#fafafa" transform="rotate(-8 239.0 116.4)"/>
<ellipse cx="239.0" cy="116.4" rx="0.8" ry="2.6" fill="#e6e6e6" transform="rotate(-8 239.0 116.4)"/>
<ellipse cx="243.6" cy="140.8" rx="2.5" ry="5.0" fill="#fafafa" transform="rotate(-6 243.6 140.8)"/>
<ellipse cx="243.6" cy="140.8" rx="0.8" ry="2.6" fill="#e6e6e6" transform="rotate(-6 243.6 140.8)"/>
<ellipse cx="247.0" cy="166.0" rx="2.5" ry="5.0" fill="#fafafa" transform="rotate(-4 247.0 166.0)"/>
<ellipse cx="247.0" cy="166.0" rx="0.8" ry="2.6" fill="#e6e6e6" transform="rotate(-4 247.0 166.0)"/>
<ellipse cx="250.0" cy="192.0" rx="2.5" ry="5.0" fill="#fafafa" transform="rotate(-3 250.0 192.0)"/>
<ellipse cx="250.0" cy="192.0" rx="0.8" ry="2.6" fill="#e6e6e6" transform="rotate(-3 250.0 192.0)"/>
<ellipse cx="194.0" cy="27.0" rx="2.5" ry="5.0" fill="#fafafa" transform="rotate(65 194.0 27.0)"/>
<ellipse cx="194.0" cy="27.0" rx="0.8" ry="2.6" fill="#e6e6e6" transform="rotate(65 194.0 27.0)"/>
<ellipse cx="40.0" cy="3.0" rx="9.0" ry="2.4" fill="#f8f8f8" transform="rotate(0 40.0 3.0)"/>
<ellipse cx="160.0" cy="2.5" rx="12.0" ry="2.2" fill="#f8f8f8" transform="rotate(0 160.0 2.5)"/>
<ellipse cx="100.0" cy="4.0" rx="5.0" ry="2.0" fill="#f4f4f4" transform="rotate(0 100.0 4.0)"/>
</g>
<g>
<path d="M79.0 60.3L92.0 75.3" stroke="#f4f4f4" stroke-width="1.6" stroke-linecap="round"/>
<path d="M99.0 53.0L111.0 68.0" stroke="#f4f4f4" stroke-width="1.7" stroke-linecap="round"/>
<path d="M105.0 55.0L113.0 71.0" stroke="#f4f4f4" stroke-width="1.2" stroke-linecap="round"/>
<path d="M111.5 70.0L113.5 79.0" stroke="#f4f4f4" stroke-width="1.1" stroke-linecap="round"/>
<path d="M73.3 133.8L87.6 133.4" stroke="#f4f4f4" stroke-width="1.8" stroke-linecap="round"/>
<circle cx="107.8" cy="83.3" r="1.3" fill="#f4f4f4"/>
<path d="M95.5 91.0L99.5 96.0" stroke="#f4f4f4" stroke-width="1.8" stroke-linecap="round"/>
<circle cx="75.0" cy="85.5" r="0.9" fill="#f4f4f4"/>
<path d="M54.6 179.5L67.5 176.7" stroke="#f4f4f4" stroke-width="1.3" stroke-linecap="round"/>
<path d="M67.5 176.7L63.0 186.0" stroke="#cfcfcf" stroke-width="0.9" stroke-linecap="round"/>
<circle cx="77.6" cy="172.4" r="1.1" fill="#f4f4f4"/>
<circle cx="84.8" cy="173.8" r="1.2" fill="#f4f4f4"/>
<circle cx="53.0" cy="196.0" r="0.9" fill="#f4f4f4"/>
<circle cx="104.0" cy="111.0" r="1.6" fill="#111"/>
<circle cx="108.5" cy="117.0" r="1.6" fill="#111"/>
<circle cx="106.0" cy="149.0" r="1.3" fill="#111"/>
<circle cx="110.5" cy="149.5" r="1.3" fill="#111"/>
<path d="M100.0 118.0L105.0 124.0" stroke="#bdbdbd" stroke-width="0.8" stroke-linecap="round"/>
<path d="M90.0 150.0L100.0 160.0" stroke="#9a9a9a" stroke-width="0.7" stroke-linecap="round"/>
<path d="M70.0 100.0L80.0 112.0" stroke="#8a8a8a" stroke-width="0.7" stroke-linecap="round"/>
<ellipse cx="197.6" cy="86.2" rx="1.9" ry="3.6" fill="#f8f8f8" transform="rotate(10 197.6 86.2)"/>
<path d="M208.3 82.0L215.5 75.3" stroke="#dcdcdc" stroke-width="1.1" stroke-linecap="round"/>
<circle cx="184.4" cy="61.8" r="1.3" fill="#f4f4f4"/>
<circle cx="178.0" cy="43.0" r="0.9" fill="#f4f4f4"/>
<circle cx="186.0" cy="64.0" r="0.9" fill="#f4f4f4"/>
<circle cx="183.0" cy="92.0" r="1.4" fill="#f4f4f4"/>
<circle cx="187.0" cy="97.0" r="1.6" fill="#f4f4f4"/>
<circle cx="184.0" cy="103.0" r="1.4" fill="#f4f4f4"/>
<circle cx="190.0" cy="101.0" r="1.2" fill="#f4f4f4"/>
<circle cx="186.5" cy="108.0" r="1.5" fill="#f4f4f4"/>
<circle cx="192.0" cy="112.0" r="1.1" fill="#f4f4f4"/>
<circle cx="183.0" cy="127.0" r="1.5" fill="#f4f4f4"/>
<circle cx="188.5" cy="131.0" r="1.3" fill="#f4f4f4"/>
<circle cx="194.0" cy="143.0" r="1.7" fill="#f4f4f4"/>
<circle cx="189.0" cy="148.0" r="1.5" fill="#f4f4f4"/>
<circle cx="193.0" cy="152.0" r="1.5" fill="#f4f4f4"/>
<circle cx="188.0" cy="156.0" r="1.2" fill="#f4f4f4"/>
<circle cx="195.5" cy="160.0" r="1.2" fill="#f4f4f4"/>
<path d="M216.0 158.0L221.0 163.0" stroke="#f4f4f4" stroke-width="1.5" stroke-linecap="round"/>
<path d="M226.0 159.0L231.0 158.0" stroke="#d8d8d8" stroke-width="1.0" stroke-linecap="round"/>
<path d="M218.5 192.0L221.5 198.0" stroke="#f4f4f4" stroke-width="1.6" stroke-linecap="round"/>
<path d="M231.0 203.0L238.0 201.0" stroke="#d8d8d8" stroke-width="1.0" stroke-linecap="round"/>
<path d="M196.0 209.0L204.0 202.0" stroke="#c8c8c8" stroke-width="1.0" stroke-linecap="round"/>
<path d="M204.0 202.0L212.0 213.0" stroke="#b0b0b0" stroke-width="0.8" stroke-linecap="round"/>
<circle cx="222.0" cy="211.0" r="0.8" fill="#f4f4f4"/>
<circle cx="236.0" cy="213.0" r="0.8" fill="#f4f4f4"/>
<path d="M205.0 120.0L215.0 128.0" stroke="#8a8a8a" stroke-width="0.7" stroke-linecap="round"/>
<path d="M215.0 100.0L224.0 108.0" stroke="#8a8a8a" stroke-width="0.7" stroke-linecap="round"/>
<path d="M200.0 180.0L212.0 186.0" stroke="#8a8a8a" stroke-width="0.7" stroke-linecap="round"/>
</g>
<rect width="285" height="285" filter="url(#nz3)" opacity="0.10"/>
<path d="M0 88.5H188M207 88.5H285" stroke="#e0141c" stroke-width="1"/>
<path d="M197.5 0V78.5M197.5 98V285" stroke="#18c418" stroke-width="1"/>
</svg>
<!--/CORONAL-SVG-->
</div>
<div class="sbar" id="cosb" style="left:636px">
<i style="position:absolute;left:0;top:88.5px;width:5px;height:1.2px;background:#22b822"></i>
<i style="position:absolute;left:0;top:113.7px;width:5px;height:1.2px;background:#22b822"></i>
<i style="position:absolute;left:0;top:128.7px;width:5px;height:1.2px;background:#22b822"></i>
<i style="position:absolute;left:-1.5px;top:133.3px;width:6px;height:15px;background:#18a4e6;border-radius:1px"></i>
<i style="position:absolute;left:-1.5px;top:136.5px;width:6px;height:1px;background:#4fc0f4"></i>
<i style="position:absolute;left:0;top:139px;width:5px;height:1.2px;background:#22c422"></i>
<i style="position:absolute;left:-.5px;top:141.8px;width:5.5px;height:1.5px;background:#e8202a"></i>
<i style="position:absolute;left:0;top:148.2px;width:5px;height:1.2px;background:#22b822"></i>
<i style="position:absolute;left:-.5px;top:152px;width:5.5px;height:2px;background:#e8202a"></i>
<i style="position:absolute;left:0;top:182.7px;width:5px;height:1.2px;background:#22b822"></i>
</div>

<div class="abs" style="left:3.3px;top:27.2px;width:1021px;height:1.3px;background:#1a4254;z-index:3"></div>
<!-- overlays axial -->
<div class="ovl" style="left:56px;top:32.5px">Patient ID:<br>Name:<br>Age: 68 Gender: M</div>
<div class="abs" style="left:97px;top:35px;width:34px;height:5.5px;background:#8a8a8a;filter:blur(1.5px);opacity:.85"></div>
<div class="abs" style="left:82px;top:47px;width:9.5px;height:5px;background:#8a8a8a;filter:blur(1.5px);opacity:.8"></div>
<div class="ovl" style="left:231px;top:32.5px;width:100.5px;text-align:right;letter-spacing:.08px">Study Date: 2023/1/30<br>Slice: 95/309</div>
<div class="chk" style="top:273px"><i></i><span>Hide Annotation</span></div>
<div class="chk" style="top:293px"><i></i><span>Add Nodule: Off</span></div>
<div class="bbtn" style="left:225px;top:293px;width:30px">Ruler</div>
<div class="bbtn" style="left:260.7px;top:293px;width:29.6px">Clear</div>
<div class="bbtn" style="left:295px;top:293px;width:36px">Default</div>
<!-- overlays coronal -->
<div class="abs" style="left:558.6px;top:33.4px;width:72px;text-align:right;font-size:7.6px;font-weight:bold;color:#e8262c;white-space:nowrap">Slice: 253 / 512</div>
<div class="bbtn" style="left:525px;top:293px;width:30px">Ruler</div>
<div class="bbtn" style="left:560.6px;top:293px;width:29.6px">Clear</div>
<div class="bbtn" style="left:595px;top:293px;width:36px">Default</div>

<!-- TABLE TOOLBAR -->
<svg class="abs" style="left:51px;top:320.6px" width="8" height="7.2" viewBox="0 0 9 8"><path d="M0 0H9L5.5 3.8V8L3.5 6.6V3.8Z" fill="#f4f4f4"/></svg>
<div class="abs" style="left:63px;top:317px;width:40px;height:14px;background:#474a5e;border-radius:2px;font-size:7px;line-height:16px;color:#7d8096;padding-left:4px">Search</div>
<div class="abs" style="left:107.5px;top:320px;line-height:10px;font-size:8.2px;color:#d4d4d4;white-space:nowrap">1 to 6 of 8 nodules (Total 8)</div>
<div class="bbtn" style="left:570.4px;top:317px;width:29px">Save</div>
<div class="bbtn" style="left:604px;top:317px;width:32px">Reset</div>

<!-- TABLE -->
<div class="th" style="left:80px">No.</div>
<div class="th" style="left:141px">Lobe</div>
<svg class="abs" style="left:167px;top:339.6px" width="5.4" height="4.3" viewBox="0 0 6 5"><path d="M0 0H6L3 5Z" fill="#7fd6f6"/></svg>
<div class="th" style="left:203px">Slice</div>
<div class="th" style="left:327px">Diameter(mm)</div>
<div class="th" style="left:493px;letter-spacing:-.3px">Lung-RADS</div>
<div class="th" style="left:601px">Select</div>
<div class="abs" style="left:51px;top:348.3px;width:585px;height:1.5px;background:#296d88"></div>

<div class="row" style="top:349.1px"><span class="g" style="left:29px">7</span><span class="g" style="left:90px">RUL</span><span class="g" style="left:152px">88</span><span class="g" style="left:275px">6.9</span><span class="g" style="left:442px">3</span><i class="cb"></i></div>
<div class="row odd" style="top:364.1px"><span class="g" style="left:29px">8</span><span class="g" style="left:90px">RUL</span><span class="g" style="left:152px">98</span><span class="g" style="left:275px">11.1</span><b class="badge">4A</b><i class="cb"></i></div>
<div class="row" style="top:379.1px"><span style="left:29px">4</span><span style="left:90px">RUL</span><span style="left:152px">131</span><span style="left:275px">5.7</span><span style="left:442px">2</span><i class="cb"></i></div>
<div class="row odd" style="top:394.1px"><span style="left:29px">1</span><span style="left:90px">RML</span><span style="left:152px">167</span><span style="left:275px">4.3<em>(New)</em></span><span style="left:442px">3</span><i class="cb"></i></div>
<div class="row" style="top:409.1px"><span style="left:29px">6</span><span style="left:90px">RLL</span><span style="left:152px">184</span><span style="left:275px">4.2<em>(New)</em></span><span style="left:442px">3</span><i class="cb"></i></div>
<div class="row sel" style="top:424.1px"><span class="c" style="left:29px">2</span><span class="c" style="left:90px">LUL</span><span class="c" style="left:152px">95</span><span class="c" style="left:275px">9.8<em>(+1.7)</em></span><b class="badge">4B</b><i class="cb"></i></div>

<!-- PAGINATION -->
<div class="gbtn" style="left:51px;top:449px;width:27px">First</div>
<div class="gbtn" style="left:82px;top:449px;width:27px">Prev</div>
<div class="bbtn" style="left:114px;top:449px;width:27px">Next</div>
<div class="bbtn" style="left:145px;top:449px;width:27px">Last</div>
<div class="abs" style="left:176px;top:451.5px;line-height:10px;font-size:8px;color:#c8c8c8;white-space:nowrap">Page 1 / 2</div>
<div class="abs" style="left:444px;top:451.5px;line-height:10px;font-size:8.2px;color:#e0e0e0;white-space:nowrap">Report Format:</div>
<div class="selx hpa" style="left:504.3px;top:448.6px;width:57.5px;height:16px;line-height:16.6px;font-size:7.2px">HPA</div>
<div class="bbtn" style="left:567px;top:448.6px;width:69px;height:16.3px">Summary Report</div>

<!-- RIGHT PANEL -->
<div class="h2" style="top:27px">Comparison View</div>
<div class="cap" style="left:733.5px;top:46.5px">Current: <b>2023-01-30</b></div>
<div class="cap" style="left:898.5px;top:46.5px">Previous: <b>2019-07-29</b></div>
<div class="thumb" id="t1" style="left:669px">
<!--THUMB1-->
<svg class="abs" style="left:0;top:0" width="129" height="129" viewBox="0 0 129 129">
<defs><filter id="tb1" x="0" y="0" width="100%" height="100%"><feGaussianBlur stdDeviation="0.55"/></filter></defs>
<g filter="url(#tb1)">
<rect width="129" height="129" fill="#3f3f3f"/>
<path fill="#1e1e1e" d="M49.02 20.64h2.63v2.63h-2.63zM126.42 20.64h2.63v2.63h-2.63zM18.06 23.22h2.63v2.63h-2.63zM90.30 33.54h2.63v2.63h-2.63zM7.74 56.76h2.63v2.63h-2.63zM54.18 59.34h2.63v2.63h-2.63zM103.20 72.24h2.63v2.63h-2.63zM15.48 85.14h5.21v2.63h-5.21zM7.74 87.72h2.63v2.63h-2.63zM23.22 87.72h2.63v2.63h-2.63zM25.80 98.04h2.63v2.63h-2.63zM41.28 100.62h5.21v2.63h-5.21zM23.22 105.78h2.63v2.63h-2.63zM41.28 110.94h2.63v2.63h-2.63z"/>
<path fill="#2b2b2b" d="M18.06 0.00h2.63v2.63h-2.63zM69.66 0.00h2.63v2.63h-2.63zM82.56 0.00h2.63v2.63h-2.63zM87.72 0.00h2.63v2.63h-2.63zM90.30 5.16h2.63v2.63h-2.63zM98.04 5.16h2.63v2.63h-2.63zM90.30 7.74h2.63v2.63h-2.63zM7.74 18.06h2.63v2.63h-2.63zM15.48 18.06h2.63v2.63h-2.63zM49.02 18.06h2.63v2.63h-2.63zM87.72 18.06h2.63v2.63h-2.63zM23.22 33.54h2.63v2.63h-2.63zM64.50 33.54h2.63v2.63h-2.63zM79.98 36.12h2.63v2.63h-2.63zM5.16 41.28h2.63v2.63h-2.63zM59.34 41.28h2.63v2.63h-2.63zM15.48 43.86h2.63v2.63h-2.63zM20.64 46.44h2.63v2.63h-2.63zM123.84 46.44h2.63v2.63h-2.63zM43.86 54.18h2.63v2.63h-2.63zM67.08 54.18h2.63v2.63h-2.63zM2.58 56.76h2.63v2.63h-2.63zM12.90 59.34h2.63v2.63h-2.63zM87.72 59.34h2.63v2.63h-2.63zM90.30 64.50h2.63v2.63h-2.63zM100.62 64.50h2.63v2.63h-2.63zM108.36 64.50h2.63v2.63h-2.63zM90.30 69.66h2.63v2.63h-2.63zM98.04 72.24h2.63v2.63h-2.63zM12.90 77.40h2.63v2.63h-2.63zM18.06 77.40h2.63v2.63h-2.63zM56.76 77.40h2.63v2.63h-2.63zM51.60 79.98h2.63v2.63h-2.63zM20.64 85.14h2.63v2.63h-2.63zM10.32 87.72h2.63v2.63h-2.63zM20.64 87.72h2.63v2.63h-2.63zM92.88 87.72h2.63v2.63h-2.63zM7.74 90.30h2.63v2.63h-2.63zM20.64 90.30h2.63v2.63h-2.63zM5.16 92.88h2.63v2.63h-2.63zM67.08 92.88h2.63v2.63h-2.63zM82.56 92.88h2.63v2.63h-2.63zM20.64 98.04h2.63v2.63h-2.63zM56.76 98.04h2.63v2.63h-2.63zM82.56 100.62h2.63v2.63h-2.63zM5.16 103.20h2.63v2.63h-2.63zM23.22 103.20h2.63v2.63h-2.63zM41.28 103.20h2.63v2.63h-2.63zM51.60 103.20h2.63v2.63h-2.63zM7.74 105.78h2.63v2.63h-2.63zM79.98 105.78h5.21v2.63h-5.21zM41.28 108.36h5.21v2.63h-5.21zM74.82 108.36h2.63v2.63h-2.63zM59.34 110.94h2.63v2.63h-2.63zM15.48 113.52h5.21v2.63h-5.21zM51.60 113.52h2.63v2.63h-2.63zM56.76 113.52h2.63v2.63h-2.63zM108.36 113.52h2.63v2.63h-2.63zM51.60 116.10h2.63v2.63h-2.63zM61.92 118.68h2.63v2.63h-2.63zM51.60 123.84h2.63v2.63h-2.63zM56.76 126.42h2.63v2.63h-2.63z"/>
<path fill="#353535" d="M38.70 0.00h2.63v2.63h-2.63zM49.02 0.00h2.63v2.63h-2.63zM64.50 0.00h2.63v2.63h-2.63zM77.40 0.00h2.63v2.63h-2.63zM92.88 0.00h2.63v2.63h-2.63zM113.52 0.00h5.21v2.63h-5.21zM15.48 2.58h2.63v2.63h-2.63zM28.38 2.58h2.63v2.63h-2.63zM41.28 2.58h5.21v2.63h-5.21zM49.02 2.58h2.63v2.63h-2.63zM74.82 2.58h2.63v2.63h-2.63zM85.14 2.58h2.63v2.63h-2.63zM7.74 5.16h2.63v2.63h-2.63zM36.12 5.16h2.63v2.63h-2.63zM54.18 5.16h2.63v2.63h-2.63zM77.40 5.16h2.63v2.63h-2.63zM87.72 5.16h2.63v2.63h-2.63zM95.46 5.16h2.63v2.63h-2.63zM126.42 5.16h2.63v2.63h-2.63zM2.58 7.74h2.63v2.63h-2.63zM15.48 7.74h2.63v2.63h-2.63zM33.54 7.74h2.63v2.63h-2.63zM46.44 7.74h2.63v2.63h-2.63zM61.92 7.74h2.63v2.63h-2.63zM92.88 7.74h2.63v2.63h-2.63zM113.52 7.74h2.63v2.63h-2.63zM118.68 7.74h2.63v2.63h-2.63zM5.16 10.32h5.21v2.63h-5.21zM61.92 10.32h2.63v2.63h-2.63zM105.78 10.32h2.63v2.63h-2.63zM116.10 10.32h2.63v2.63h-2.63zM126.42 10.32h2.63v2.63h-2.63zM18.06 12.90h2.63v2.63h-2.63zM30.96 12.90h2.63v2.63h-2.63zM72.24 12.90h2.63v2.63h-2.63zM79.98 12.90h5.21v2.63h-5.21zM5.16 15.48h2.63v2.63h-2.63zM20.64 15.48h5.21v2.63h-5.21zM67.08 15.48h2.63v2.63h-2.63zM108.36 15.48h2.63v2.63h-2.63zM23.22 18.06h2.63v2.63h-2.63zM67.08 18.06h2.63v2.63h-2.63zM113.52 18.06h2.63v2.63h-2.63zM5.16 20.64h2.63v2.63h-2.63zM12.90 20.64h2.63v2.63h-2.63zM33.54 20.64h2.63v2.63h-2.63zM67.08 20.64h2.63v2.63h-2.63zM43.86 23.22h2.63v2.63h-2.63zM113.52 23.22h2.63v2.63h-2.63zM123.84 23.22h2.63v2.63h-2.63zM2.58 25.80h2.63v2.63h-2.63zM15.48 25.80h2.63v2.63h-2.63zM28.38 25.80h2.63v2.63h-2.63zM33.54 25.80h2.63v2.63h-2.63zM43.86 25.80h2.63v2.63h-2.63zM82.56 25.80h5.21v2.63h-5.21zM98.04 25.80h2.63v2.63h-2.63zM110.94 25.80h5.21v2.63h-5.21zM18.06 28.38h2.63v2.63h-2.63zM92.88 28.38h2.63v2.63h-2.63zM116.10 28.38h2.63v2.63h-2.63zM5.16 30.96h5.21v2.63h-5.21zM67.08 30.96h2.63v2.63h-2.63zM72.24 30.96h2.63v2.63h-2.63zM90.30 30.96h7.79v2.63h-7.79zM38.70 33.54h2.63v2.63h-2.63zM49.02 33.54h2.63v2.63h-2.63zM69.66 33.54h2.63v2.63h-2.63zM77.40 33.54h5.21v2.63h-5.21zM87.72 33.54h2.63v2.63h-2.63zM100.62 33.54h2.63v2.63h-2.63zM116.10 33.54h2.63v2.63h-2.63zM43.86 36.12h2.63v2.63h-2.63zM51.60 36.12h2.63v2.63h-2.63zM56.76 36.12h2.63v2.63h-2.63zM64.50 36.12h2.63v2.63h-2.63zM74.82 36.12h5.21v2.63h-5.21zM85.14 36.12h2.63v2.63h-2.63zM92.88 36.12h5.21v2.63h-5.21zM105.78 36.12h2.63v2.63h-2.63zM7.74 38.70h5.21v2.63h-5.21zM18.06 38.70h5.21v2.63h-5.21zM49.02 38.70h2.63v2.63h-2.63zM61.92 38.70h2.63v2.63h-2.63zM2.58 41.28h2.63v2.63h-2.63zM18.06 41.28h2.63v2.63h-2.63zM54.18 41.28h2.63v2.63h-2.63zM74.82 41.28h2.63v2.63h-2.63zM121.26 41.28h2.63v2.63h-2.63zM0.00 43.86h2.63v2.63h-2.63zM7.74 43.86h2.63v2.63h-2.63zM41.28 43.86h2.63v2.63h-2.63zM46.44 43.86h2.63v2.63h-2.63zM61.92 43.86h2.63v2.63h-2.63zM98.04 43.86h2.63v2.63h-2.63zM121.26 43.86h5.21v2.63h-5.21zM0.00 46.44h7.79v2.63h-7.79zM2.58 49.02h5.21v2.63h-5.21zM23.22 49.02h2.63v2.63h-2.63zM54.18 49.02h2.63v2.63h-2.63zM59.34 49.02h2.63v2.63h-2.63zM100.62 49.02h2.63v2.63h-2.63zM23.22 51.60h2.63v2.63h-2.63zM43.86 51.60h2.63v2.63h-2.63zM54.18 51.60h2.63v2.63h-2.63zM105.78 51.60h2.63v2.63h-2.63zM113.52 51.60h2.63v2.63h-2.63zM121.26 51.60h5.21v2.63h-5.21zM0.00 54.18h2.63v2.63h-2.63zM12.90 54.18h2.63v2.63h-2.63zM20.64 54.18h2.63v2.63h-2.63zM72.24 54.18h2.63v2.63h-2.63zM77.40 54.18h7.79v2.63h-7.79zM95.46 54.18h2.63v2.63h-2.63zM54.18 56.76h2.63v2.63h-2.63zM87.72 56.76h2.63v2.63h-2.63zM15.48 59.34h5.21v2.63h-5.21zM23.22 59.34h2.63v2.63h-2.63zM49.02 59.34h2.63v2.63h-2.63zM59.34 59.34h2.63v2.63h-2.63zM64.50 59.34h2.63v2.63h-2.63zM69.66 59.34h2.63v2.63h-2.63zM95.46 59.34h2.63v2.63h-2.63zM43.86 61.92h2.63v2.63h-2.63zM59.34 61.92h2.63v2.63h-2.63zM12.90 64.50h2.63v2.63h-2.63zM43.86 64.50h2.63v2.63h-2.63zM51.60 64.50h2.63v2.63h-2.63zM59.34 64.50h2.63v2.63h-2.63zM69.66 64.50h2.63v2.63h-2.63zM87.72 64.50h2.63v2.63h-2.63zM92.88 64.50h2.63v2.63h-2.63zM105.78 64.50h2.63v2.63h-2.63zM123.84 64.50h2.63v2.63h-2.63zM46.44 67.08h2.63v2.63h-2.63zM59.34 67.08h2.63v2.63h-2.63zM64.50 67.08h2.63v2.63h-2.63zM72.24 67.08h2.63v2.63h-2.63zM92.88 67.08h2.63v2.63h-2.63zM98.04 67.08h5.21v2.63h-5.21zM2.58 69.66h2.63v2.63h-2.63zM33.54 69.66h2.63v2.63h-2.63zM72.24 69.66h2.63v2.63h-2.63zM79.98 69.66h2.63v2.63h-2.63zM103.20 69.66h2.63v2.63h-2.63zM108.36 69.66h2.63v2.63h-2.63zM5.16 72.24h2.63v2.63h-2.63zM67.08 72.24h2.63v2.63h-2.63zM82.56 72.24h2.63v2.63h-2.63zM100.62 72.24h2.63v2.63h-2.63zM105.78 72.24h2.63v2.63h-2.63zM113.52 72.24h2.63v2.63h-2.63zM56.76 74.82h2.63v2.63h-2.63zM77.40 74.82h2.63v2.63h-2.63zM90.30 74.82h2.63v2.63h-2.63zM105.78 74.82h2.63v2.63h-2.63zM5.16 77.40h2.63v2.63h-2.63zM15.48 77.40h2.63v2.63h-2.63zM23.22 77.40h2.63v2.63h-2.63zM51.60 77.40h2.63v2.63h-2.63zM30.96 79.98h2.63v2.63h-2.63zM77.40 79.98h2.63v2.63h-2.63zM103.20 79.98h2.63v2.63h-2.63zM116.10 79.98h2.63v2.63h-2.63zM121.26 79.98h2.63v2.63h-2.63zM12.90 82.56h2.63v2.63h-2.63zM51.60 82.56h2.63v2.63h-2.63zM56.76 82.56h2.63v2.63h-2.63zM61.92 82.56h2.63v2.63h-2.63zM87.72 82.56h2.63v2.63h-2.63zM110.94 82.56h2.63v2.63h-2.63zM118.68 82.56h2.63v2.63h-2.63zM7.74 85.14h2.63v2.63h-2.63zM23.22 85.14h2.63v2.63h-2.63zM59.34 85.14h5.21v2.63h-5.21zM15.48 87.72h2.63v2.63h-2.63zM28.38 87.72h2.63v2.63h-2.63zM51.60 87.72h7.79v2.63h-7.79zM82.56 87.72h2.63v2.63h-2.63zM126.42 87.72h2.63v2.63h-2.63zM2.58 90.30h5.21v2.63h-5.21zM72.24 90.30h2.63v2.63h-2.63zM82.56 90.30h2.63v2.63h-2.63zM95.46 90.30h2.63v2.63h-2.63zM121.26 90.30h2.63v2.63h-2.63zM20.64 92.88h5.21v2.63h-5.21zM51.60 92.88h2.63v2.63h-2.63zM69.66 92.88h2.63v2.63h-2.63zM87.72 92.88h2.63v2.63h-2.63zM7.74 95.46h2.63v2.63h-2.63zM12.90 95.46h2.63v2.63h-2.63zM20.64 95.46h2.63v2.63h-2.63zM59.34 95.46h2.63v2.63h-2.63zM69.66 95.46h2.63v2.63h-2.63zM77.40 95.46h2.63v2.63h-2.63zM95.46 95.46h2.63v2.63h-2.63zM113.52 95.46h2.63v2.63h-2.63zM118.68 95.46h2.63v2.63h-2.63zM5.16 98.04h2.63v2.63h-2.63zM10.32 98.04h5.21v2.63h-5.21zM23.22 98.04h2.63v2.63h-2.63zM82.56 98.04h2.63v2.63h-2.63zM87.72 98.04h2.63v2.63h-2.63zM98.04 98.04h5.21v2.63h-5.21zM5.16 100.62h5.21v2.63h-5.21zM23.22 100.62h5.21v2.63h-5.21zM54.18 100.62h2.63v2.63h-2.63zM69.66 100.62h2.63v2.63h-2.63zM77.40 100.62h2.63v2.63h-2.63zM100.62 100.62h2.63v2.63h-2.63zM105.78 100.62h2.63v2.63h-2.63zM25.80 103.20h2.63v2.63h-2.63zM67.08 103.20h5.21v2.63h-5.21zM82.56 103.20h2.63v2.63h-2.63zM90.30 103.20h2.63v2.63h-2.63zM100.62 103.20h2.63v2.63h-2.63zM113.52 103.20h2.63v2.63h-2.63zM20.64 105.78h2.63v2.63h-2.63zM41.28 105.78h5.21v2.63h-5.21zM67.08 105.78h2.63v2.63h-2.63zM77.40 105.78h2.63v2.63h-2.63zM92.88 105.78h2.63v2.63h-2.63zM61.92 108.36h2.63v2.63h-2.63zM67.08 108.36h2.63v2.63h-2.63zM100.62 108.36h2.63v2.63h-2.63zM82.56 110.94h5.21v2.63h-5.21zM95.46 110.94h5.21v2.63h-5.21zM126.42 110.94h2.63v2.63h-2.63zM10.32 113.52h2.63v2.63h-2.63zM90.30 113.52h2.63v2.63h-2.63zM126.42 113.52h2.63v2.63h-2.63zM41.28 116.10h2.63v2.63h-2.63zM54.18 116.10h5.21v2.63h-5.21zM108.36 116.10h2.63v2.63h-2.63zM12.90 118.68h2.63v2.63h-2.63zM51.60 118.68h2.63v2.63h-2.63zM59.34 118.68h2.63v2.63h-2.63zM121.26 118.68h2.63v2.63h-2.63zM46.44 121.26h2.63v2.63h-2.63zM51.60 121.26h2.63v2.63h-2.63zM56.76 121.26h2.63v2.63h-2.63zM116.10 121.26h2.63v2.63h-2.63zM123.84 121.26h2.63v2.63h-2.63zM15.48 123.84h2.63v2.63h-2.63zM49.02 123.84h2.63v2.63h-2.63zM77.40 123.84h2.63v2.63h-2.63zM90.30 123.84h2.63v2.63h-2.63zM49.02 126.42h2.63v2.63h-2.63zM59.34 126.42h5.21v2.63h-5.21zM67.08 126.42h2.63v2.63h-2.63zM79.98 126.42h5.21v2.63h-5.21z"/>
<path fill="#494949" d="M5.16 0.00h5.21v2.63h-5.21zM20.64 0.00h5.21v2.63h-5.21zM28.38 0.00h10.37v2.63h-10.37zM41.28 0.00h7.79v2.63h-7.79zM54.18 0.00h2.63v2.63h-2.63zM67.08 0.00h2.63v2.63h-2.63zM74.82 0.00h2.63v2.63h-2.63zM79.98 0.00h2.63v2.63h-2.63zM85.14 0.00h2.63v2.63h-2.63zM105.78 0.00h2.63v2.63h-2.63zM118.68 0.00h2.63v2.63h-2.63zM123.84 0.00h2.63v2.63h-2.63zM2.58 2.58h7.79v2.63h-7.79zM18.06 2.58h2.63v2.63h-2.63zM23.22 2.58h2.63v2.63h-2.63zM30.96 2.58h2.63v2.63h-2.63zM56.76 2.58h2.63v2.63h-2.63zM64.50 2.58h5.21v2.63h-5.21zM72.24 2.58h2.63v2.63h-2.63zM77.40 2.58h7.79v2.63h-7.79zM100.62 2.58h2.63v2.63h-2.63zM108.36 2.58h5.21v2.63h-5.21zM116.10 2.58h2.63v2.63h-2.63zM121.26 2.58h2.63v2.63h-2.63zM2.58 5.16h5.21v2.63h-5.21zM10.32 5.16h2.63v2.63h-2.63zM28.38 5.16h2.63v2.63h-2.63zM33.54 5.16h2.63v2.63h-2.63zM38.70 5.16h5.21v2.63h-5.21zM56.76 5.16h5.21v2.63h-5.21zM67.08 5.16h5.21v2.63h-5.21zM74.82 5.16h2.63v2.63h-2.63zM100.62 5.16h2.63v2.63h-2.63zM105.78 5.16h2.63v2.63h-2.63zM7.74 7.74h2.63v2.63h-2.63zM18.06 7.74h2.63v2.63h-2.63zM23.22 7.74h2.63v2.63h-2.63zM28.38 7.74h2.63v2.63h-2.63zM36.12 7.74h2.63v2.63h-2.63zM43.86 7.74h2.63v2.63h-2.63zM54.18 7.74h2.63v2.63h-2.63zM59.34 7.74h2.63v2.63h-2.63zM64.50 7.74h2.63v2.63h-2.63zM69.66 7.74h2.63v2.63h-2.63zM79.98 7.74h2.63v2.63h-2.63zM85.14 7.74h2.63v2.63h-2.63zM95.46 7.74h2.63v2.63h-2.63zM100.62 7.74h5.21v2.63h-5.21zM121.26 7.74h2.63v2.63h-2.63zM126.42 7.74h2.63v2.63h-2.63zM2.58 10.32h2.63v2.63h-2.63zM12.90 10.32h5.21v2.63h-5.21zM30.96 10.32h2.63v2.63h-2.63zM36.12 10.32h2.63v2.63h-2.63zM43.86 10.32h2.63v2.63h-2.63zM49.02 10.32h5.21v2.63h-5.21zM64.50 10.32h2.63v2.63h-2.63zM72.24 10.32h2.63v2.63h-2.63zM82.56 10.32h2.63v2.63h-2.63zM87.72 10.32h2.63v2.63h-2.63zM92.88 10.32h2.63v2.63h-2.63zM100.62 10.32h5.21v2.63h-5.21zM110.94 10.32h2.63v2.63h-2.63zM123.84 10.32h2.63v2.63h-2.63zM0.00 12.90h15.53v2.63h-15.53zM23.22 12.90h2.63v2.63h-2.63zM33.54 12.90h2.63v2.63h-2.63zM43.86 12.90h2.63v2.63h-2.63zM49.02 12.90h5.21v2.63h-5.21zM69.66 12.90h2.63v2.63h-2.63zM85.14 12.90h2.63v2.63h-2.63zM90.30 12.90h2.63v2.63h-2.63zM103.20 12.90h5.21v2.63h-5.21zM116.10 12.90h2.63v2.63h-2.63zM0.00 15.48h5.21v2.63h-5.21zM7.74 15.48h2.63v2.63h-2.63zM33.54 15.48h2.63v2.63h-2.63zM49.02 15.48h2.63v2.63h-2.63zM54.18 15.48h2.63v2.63h-2.63zM64.50 15.48h2.63v2.63h-2.63zM74.82 15.48h7.79v2.63h-7.79zM87.72 15.48h2.63v2.63h-2.63zM98.04 15.48h5.21v2.63h-5.21zM118.68 15.48h2.63v2.63h-2.63zM5.16 18.06h2.63v2.63h-2.63zM10.32 18.06h2.63v2.63h-2.63zM33.54 18.06h2.63v2.63h-2.63zM43.86 18.06h2.63v2.63h-2.63zM56.76 18.06h2.63v2.63h-2.63zM61.92 18.06h2.63v2.63h-2.63zM72.24 18.06h2.63v2.63h-2.63zM79.98 18.06h5.21v2.63h-5.21zM92.88 18.06h5.21v2.63h-5.21zM100.62 18.06h5.21v2.63h-5.21zM110.94 18.06h2.63v2.63h-2.63zM116.10 18.06h2.63v2.63h-2.63zM121.26 18.06h2.63v2.63h-2.63zM126.42 18.06h2.63v2.63h-2.63zM0.00 20.64h2.63v2.63h-2.63zM7.74 20.64h5.21v2.63h-5.21zM20.64 20.64h2.63v2.63h-2.63zM36.12 20.64h5.21v2.63h-5.21zM46.44 20.64h2.63v2.63h-2.63zM51.60 20.64h2.63v2.63h-2.63zM56.76 20.64h2.63v2.63h-2.63zM64.50 20.64h2.63v2.63h-2.63zM69.66 20.64h2.63v2.63h-2.63zM74.82 20.64h2.63v2.63h-2.63zM82.56 20.64h10.37v2.63h-10.37zM100.62 20.64h2.63v2.63h-2.63zM113.52 20.64h2.63v2.63h-2.63zM118.68 20.64h7.79v2.63h-7.79zM5.16 23.22h2.63v2.63h-2.63zM12.90 23.22h2.63v2.63h-2.63zM23.22 23.22h7.79v2.63h-7.79zM38.70 23.22h2.63v2.63h-2.63zM54.18 23.22h7.79v2.63h-7.79zM72.24 23.22h2.63v2.63h-2.63zM82.56 23.22h2.63v2.63h-2.63zM95.46 23.22h7.79v2.63h-7.79zM116.10 23.22h2.63v2.63h-2.63zM126.42 23.22h2.63v2.63h-2.63zM7.74 25.80h2.63v2.63h-2.63zM12.90 25.80h2.63v2.63h-2.63zM18.06 25.80h2.63v2.63h-2.63zM23.22 25.80h2.63v2.63h-2.63zM61.92 25.80h2.63v2.63h-2.63zM72.24 25.80h2.63v2.63h-2.63zM77.40 25.80h2.63v2.63h-2.63zM105.78 25.80h2.63v2.63h-2.63zM5.16 28.38h2.63v2.63h-2.63zM12.90 28.38h5.21v2.63h-5.21zM23.22 28.38h2.63v2.63h-2.63zM28.38 28.38h5.21v2.63h-5.21zM38.70 28.38h2.63v2.63h-2.63zM43.86 28.38h2.63v2.63h-2.63zM49.02 28.38h5.21v2.63h-5.21zM56.76 28.38h2.63v2.63h-2.63zM67.08 28.38h2.63v2.63h-2.63zM87.72 28.38h2.63v2.63h-2.63zM95.46 28.38h2.63v2.63h-2.63zM100.62 28.38h5.21v2.63h-5.21zM108.36 28.38h2.63v2.63h-2.63zM0.00 30.96h2.63v2.63h-2.63zM20.64 30.96h2.63v2.63h-2.63zM25.80 30.96h2.63v2.63h-2.63zM30.96 30.96h2.63v2.63h-2.63zM38.70 30.96h2.63v2.63h-2.63zM43.86 30.96h10.37v2.63h-10.37zM64.50 30.96h2.63v2.63h-2.63zM69.66 30.96h2.63v2.63h-2.63zM82.56 30.96h2.63v2.63h-2.63zM87.72 30.96h2.63v2.63h-2.63zM100.62 30.96h5.21v2.63h-5.21zM113.52 30.96h2.63v2.63h-2.63zM0.00 33.54h2.63v2.63h-2.63zM5.16 33.54h5.21v2.63h-5.21zM12.90 33.54h5.21v2.63h-5.21zM33.54 33.54h5.21v2.63h-5.21zM41.28 33.54h5.21v2.63h-5.21zM54.18 33.54h10.37v2.63h-10.37zM74.82 33.54h2.63v2.63h-2.63zM82.56 33.54h5.21v2.63h-5.21zM95.46 33.54h5.21v2.63h-5.21zM105.78 33.54h2.63v2.63h-2.63zM113.52 33.54h2.63v2.63h-2.63zM0.00 36.12h2.63v2.63h-2.63zM12.90 36.12h5.21v2.63h-5.21zM20.64 36.12h2.63v2.63h-2.63zM46.44 36.12h2.63v2.63h-2.63zM54.18 36.12h2.63v2.63h-2.63zM59.34 36.12h2.63v2.63h-2.63zM82.56 36.12h2.63v2.63h-2.63zM87.72 36.12h5.21v2.63h-5.21zM98.04 36.12h2.63v2.63h-2.63zM103.20 36.12h2.63v2.63h-2.63zM113.52 36.12h2.63v2.63h-2.63zM28.38 38.70h7.79v2.63h-7.79zM38.70 38.70h2.63v2.63h-2.63zM43.86 38.70h2.63v2.63h-2.63zM51.60 38.70h2.63v2.63h-2.63zM67.08 38.70h7.79v2.63h-7.79zM77.40 38.70h2.63v2.63h-2.63zM92.88 38.70h2.63v2.63h-2.63zM98.04 38.70h2.63v2.63h-2.63zM103.20 38.70h2.63v2.63h-2.63zM108.36 38.70h5.21v2.63h-5.21zM126.42 38.70h2.63v2.63h-2.63zM25.80 41.28h5.21v2.63h-5.21zM33.54 41.28h5.21v2.63h-5.21zM49.02 41.28h2.63v2.63h-2.63zM56.76 41.28h2.63v2.63h-2.63zM64.50 41.28h2.63v2.63h-2.63zM69.66 41.28h2.63v2.63h-2.63zM79.98 41.28h7.79v2.63h-7.79zM90.30 41.28h2.63v2.63h-2.63zM98.04 41.28h2.63v2.63h-2.63zM105.78 41.28h2.63v2.63h-2.63zM123.84 41.28h2.63v2.63h-2.63zM5.16 43.86h2.63v2.63h-2.63zM23.22 43.86h2.63v2.63h-2.63zM28.38 43.86h2.63v2.63h-2.63zM33.54 43.86h5.21v2.63h-5.21zM49.02 43.86h2.63v2.63h-2.63zM64.50 43.86h5.21v2.63h-5.21zM72.24 43.86h2.63v2.63h-2.63zM82.56 43.86h5.21v2.63h-5.21zM103.20 43.86h2.63v2.63h-2.63zM10.32 46.44h7.79v2.63h-7.79zM30.96 46.44h2.63v2.63h-2.63zM38.70 46.44h2.63v2.63h-2.63zM43.86 46.44h7.79v2.63h-7.79zM69.66 46.44h15.53v2.63h-15.53zM98.04 46.44h5.21v2.63h-5.21zM116.10 46.44h5.21v2.63h-5.21zM7.74 49.02h2.63v2.63h-2.63zM18.06 49.02h5.21v2.63h-5.21zM25.80 49.02h5.21v2.63h-5.21zM38.70 49.02h2.63v2.63h-2.63zM46.44 49.02h2.63v2.63h-2.63zM61.92 49.02h5.21v2.63h-5.21zM69.66 49.02h2.63v2.63h-2.63zM79.98 49.02h2.63v2.63h-2.63zM87.72 49.02h2.63v2.63h-2.63zM118.68 49.02h2.63v2.63h-2.63zM7.74 51.60h5.21v2.63h-5.21zM20.64 51.60h2.63v2.63h-2.63zM28.38 51.60h5.21v2.63h-5.21zM38.70 51.60h2.63v2.63h-2.63zM56.76 51.60h2.63v2.63h-2.63zM61.92 51.60h2.63v2.63h-2.63zM67.08 51.60h7.79v2.63h-7.79zM82.56 51.60h2.63v2.63h-2.63zM92.88 51.60h2.63v2.63h-2.63zM110.94 51.60h2.63v2.63h-2.63zM118.68 51.60h2.63v2.63h-2.63zM2.58 54.18h2.63v2.63h-2.63zM15.48 54.18h2.63v2.63h-2.63zM25.80 54.18h2.63v2.63h-2.63zM38.70 54.18h2.63v2.63h-2.63zM49.02 54.18h2.63v2.63h-2.63zM59.34 54.18h2.63v2.63h-2.63zM64.50 54.18h2.63v2.63h-2.63zM90.30 54.18h5.21v2.63h-5.21zM98.04 54.18h2.63v2.63h-2.63zM105.78 54.18h5.21v2.63h-5.21zM5.16 56.76h2.63v2.63h-2.63zM10.32 56.76h7.79v2.63h-7.79zM28.38 56.76h10.37v2.63h-10.37zM41.28 56.76h10.37v2.63h-10.37zM56.76 56.76h2.63v2.63h-2.63zM64.50 56.76h2.63v2.63h-2.63zM69.66 56.76h10.37v2.63h-10.37zM85.14 56.76h2.63v2.63h-2.63zM90.30 56.76h2.63v2.63h-2.63zM100.62 56.76h2.63v2.63h-2.63zM105.78 56.76h2.63v2.63h-2.63zM118.68 56.76h2.63v2.63h-2.63zM126.42 56.76h2.63v2.63h-2.63zM0.00 59.34h10.37v2.63h-10.37zM25.80 59.34h7.79v2.63h-7.79zM36.12 59.34h7.79v2.63h-7.79zM46.44 59.34h2.63v2.63h-2.63zM61.92 59.34h2.63v2.63h-2.63zM74.82 59.34h2.63v2.63h-2.63zM79.98 59.34h2.63v2.63h-2.63zM92.88 59.34h2.63v2.63h-2.63zM103.20 59.34h5.21v2.63h-5.21zM110.94 59.34h2.63v2.63h-2.63zM116.10 59.34h2.63v2.63h-2.63zM126.42 59.34h2.63v2.63h-2.63zM2.58 61.92h2.63v2.63h-2.63zM7.74 61.92h10.37v2.63h-10.37zM20.64 61.92h2.63v2.63h-2.63zM28.38 61.92h5.21v2.63h-5.21zM41.28 61.92h2.63v2.63h-2.63zM49.02 61.92h5.21v2.63h-5.21zM61.92 61.92h2.63v2.63h-2.63zM67.08 61.92h5.21v2.63h-5.21zM87.72 61.92h2.63v2.63h-2.63zM92.88 61.92h2.63v2.63h-2.63zM105.78 61.92h5.21v2.63h-5.21zM2.58 64.50h5.21v2.63h-5.21zM18.06 64.50h2.63v2.63h-2.63zM23.22 64.50h2.63v2.63h-2.63zM30.96 64.50h2.63v2.63h-2.63zM38.70 64.50h2.63v2.63h-2.63zM56.76 64.50h2.63v2.63h-2.63zM64.50 64.50h2.63v2.63h-2.63zM82.56 64.50h5.21v2.63h-5.21zM98.04 64.50h2.63v2.63h-2.63zM0.00 67.08h2.63v2.63h-2.63zM7.74 67.08h2.63v2.63h-2.63zM12.90 67.08h7.79v2.63h-7.79zM23.22 67.08h5.21v2.63h-5.21zM30.96 67.08h2.63v2.63h-2.63zM36.12 67.08h5.21v2.63h-5.21zM49.02 67.08h2.63v2.63h-2.63zM54.18 67.08h5.21v2.63h-5.21zM87.72 67.08h2.63v2.63h-2.63zM103.20 67.08h12.95v2.63h-12.95zM118.68 67.08h5.21v2.63h-5.21zM0.00 69.66h2.63v2.63h-2.63zM5.16 69.66h5.21v2.63h-5.21zM20.64 69.66h2.63v2.63h-2.63zM25.80 69.66h2.63v2.63h-2.63zM30.96 69.66h2.63v2.63h-2.63zM49.02 69.66h2.63v2.63h-2.63zM54.18 69.66h2.63v2.63h-2.63zM61.92 69.66h2.63v2.63h-2.63zM67.08 69.66h2.63v2.63h-2.63zM74.82 69.66h2.63v2.63h-2.63zM92.88 69.66h7.79v2.63h-7.79zM123.84 69.66h2.63v2.63h-2.63zM2.58 72.24h2.63v2.63h-2.63zM28.38 72.24h2.63v2.63h-2.63zM36.12 72.24h2.63v2.63h-2.63zM46.44 72.24h2.63v2.63h-2.63zM51.60 72.24h7.79v2.63h-7.79zM72.24 72.24h5.21v2.63h-5.21zM87.72 72.24h2.63v2.63h-2.63zM92.88 72.24h2.63v2.63h-2.63zM108.36 72.24h5.21v2.63h-5.21zM116.10 72.24h2.63v2.63h-2.63zM121.26 72.24h5.21v2.63h-5.21zM2.58 74.82h12.95v2.63h-12.95zM33.54 74.82h2.63v2.63h-2.63zM46.44 74.82h5.21v2.63h-5.21zM59.34 74.82h2.63v2.63h-2.63zM64.50 74.82h7.79v2.63h-7.79zM74.82 74.82h2.63v2.63h-2.63zM82.56 74.82h2.63v2.63h-2.63zM87.72 74.82h2.63v2.63h-2.63zM108.36 74.82h5.21v2.63h-5.21zM126.42 74.82h2.63v2.63h-2.63zM0.00 77.40h2.63v2.63h-2.63zM7.74 77.40h5.21v2.63h-5.21zM20.64 77.40h2.63v2.63h-2.63zM25.80 77.40h2.63v2.63h-2.63zM30.96 77.40h2.63v2.63h-2.63zM46.44 77.40h2.63v2.63h-2.63zM61.92 77.40h2.63v2.63h-2.63zM74.82 77.40h2.63v2.63h-2.63zM79.98 77.40h5.21v2.63h-5.21zM92.88 77.40h2.63v2.63h-2.63zM110.94 77.40h2.63v2.63h-2.63zM116.10 77.40h2.63v2.63h-2.63zM123.84 77.40h2.63v2.63h-2.63zM2.58 79.98h2.63v2.63h-2.63zM7.74 79.98h2.63v2.63h-2.63zM25.80 79.98h5.21v2.63h-5.21zM61.92 79.98h5.21v2.63h-5.21zM85.14 79.98h2.63v2.63h-2.63zM90.30 79.98h7.79v2.63h-7.79zM108.36 79.98h7.79v2.63h-7.79zM118.68 79.98h2.63v2.63h-2.63zM123.84 79.98h5.21v2.63h-5.21zM0.00 82.56h7.79v2.63h-7.79zM18.06 82.56h2.63v2.63h-2.63zM28.38 82.56h2.63v2.63h-2.63zM72.24 82.56h2.63v2.63h-2.63zM79.98 82.56h5.21v2.63h-5.21zM98.04 82.56h2.63v2.63h-2.63zM108.36 82.56h2.63v2.63h-2.63zM113.52 82.56h2.63v2.63h-2.63zM126.42 82.56h2.63v2.63h-2.63zM5.16 85.14h2.63v2.63h-2.63zM28.38 85.14h2.63v2.63h-2.63zM46.44 85.14h7.79v2.63h-7.79zM56.76 85.14h2.63v2.63h-2.63zM72.24 85.14h2.63v2.63h-2.63zM77.40 85.14h2.63v2.63h-2.63zM82.56 85.14h5.21v2.63h-5.21zM100.62 85.14h5.21v2.63h-5.21zM121.26 85.14h5.21v2.63h-5.21zM2.58 87.72h2.63v2.63h-2.63zM61.92 87.72h2.63v2.63h-2.63zM69.66 87.72h2.63v2.63h-2.63zM77.40 87.72h5.21v2.63h-5.21zM87.72 87.72h2.63v2.63h-2.63zM95.46 87.72h7.79v2.63h-7.79zM105.78 87.72h7.79v2.63h-7.79zM116.10 87.72h2.63v2.63h-2.63zM121.26 87.72h2.63v2.63h-2.63zM15.48 90.30h2.63v2.63h-2.63zM25.80 90.30h2.63v2.63h-2.63zM46.44 90.30h5.21v2.63h-5.21zM56.76 90.30h7.79v2.63h-7.79zM69.66 90.30h2.63v2.63h-2.63zM77.40 90.30h2.63v2.63h-2.63zM85.14 90.30h2.63v2.63h-2.63zM92.88 90.30h2.63v2.63h-2.63zM98.04 90.30h2.63v2.63h-2.63zM110.94 90.30h7.79v2.63h-7.79zM126.42 90.30h2.63v2.63h-2.63zM15.48 92.88h2.63v2.63h-2.63zM49.02 92.88h2.63v2.63h-2.63zM56.76 92.88h2.63v2.63h-2.63zM64.50 92.88h2.63v2.63h-2.63zM77.40 92.88h5.21v2.63h-5.21zM85.14 92.88h2.63v2.63h-2.63zM92.88 92.88h12.95v2.63h-12.95zM108.36 92.88h12.95v2.63h-12.95zM0.00 95.46h7.79v2.63h-7.79zM10.32 95.46h2.63v2.63h-2.63zM23.22 95.46h2.63v2.63h-2.63zM28.38 95.46h2.63v2.63h-2.63zM67.08 95.46h2.63v2.63h-2.63zM79.98 95.46h2.63v2.63h-2.63zM85.14 95.46h2.63v2.63h-2.63zM90.30 95.46h5.21v2.63h-5.21zM98.04 95.46h2.63v2.63h-2.63zM105.78 95.46h5.21v2.63h-5.21zM116.10 95.46h2.63v2.63h-2.63zM126.42 95.46h2.63v2.63h-2.63zM2.58 98.04h2.63v2.63h-2.63zM15.48 98.04h2.63v2.63h-2.63zM41.28 98.04h2.63v2.63h-2.63zM46.44 98.04h2.63v2.63h-2.63zM79.98 98.04h2.63v2.63h-2.63zM92.88 98.04h2.63v2.63h-2.63zM110.94 98.04h2.63v2.63h-2.63zM0.00 100.62h2.63v2.63h-2.63zM10.32 100.62h5.21v2.63h-5.21zM18.06 100.62h2.63v2.63h-2.63zM46.44 100.62h2.63v2.63h-2.63zM64.50 100.62h5.21v2.63h-5.21zM87.72 100.62h7.79v2.63h-7.79zM110.94 100.62h2.63v2.63h-2.63zM121.26 100.62h7.79v2.63h-7.79zM0.00 103.20h5.21v2.63h-5.21zM12.90 103.20h5.21v2.63h-5.21zM49.02 103.20h2.63v2.63h-2.63zM72.24 103.20h7.79v2.63h-7.79zM85.14 103.20h2.63v2.63h-2.63zM98.04 103.20h2.63v2.63h-2.63zM116.10 103.20h2.63v2.63h-2.63zM121.26 103.20h5.21v2.63h-5.21zM2.58 105.78h5.21v2.63h-5.21zM10.32 105.78h2.63v2.63h-2.63zM69.66 105.78h7.79v2.63h-7.79zM90.30 105.78h2.63v2.63h-2.63zM95.46 105.78h2.63v2.63h-2.63zM100.62 105.78h5.21v2.63h-5.21zM108.36 105.78h2.63v2.63h-2.63zM113.52 105.78h2.63v2.63h-2.63zM123.84 105.78h5.21v2.63h-5.21zM2.58 108.36h18.11v2.63h-18.11zM25.80 108.36h5.21v2.63h-5.21zM38.70 108.36h2.63v2.63h-2.63zM51.60 108.36h2.63v2.63h-2.63zM69.66 108.36h5.21v2.63h-5.21zM77.40 108.36h2.63v2.63h-2.63zM82.56 108.36h2.63v2.63h-2.63zM90.30 108.36h5.21v2.63h-5.21zM98.04 108.36h2.63v2.63h-2.63zM116.10 108.36h5.21v2.63h-5.21zM123.84 108.36h2.63v2.63h-2.63zM18.06 110.94h5.21v2.63h-5.21zM46.44 110.94h2.63v2.63h-2.63zM64.50 110.94h2.63v2.63h-2.63zM74.82 110.94h7.79v2.63h-7.79zM90.30 110.94h2.63v2.63h-2.63zM105.78 110.94h2.63v2.63h-2.63zM110.94 110.94h2.63v2.63h-2.63zM116.10 110.94h2.63v2.63h-2.63zM123.84 110.94h2.63v2.63h-2.63zM49.02 113.52h2.63v2.63h-2.63zM61.92 113.52h5.21v2.63h-5.21zM69.66 113.52h5.21v2.63h-5.21zM77.40 113.52h2.63v2.63h-2.63zM87.72 113.52h2.63v2.63h-2.63zM92.88 113.52h2.63v2.63h-2.63zM98.04 113.52h5.21v2.63h-5.21zM116.10 113.52h2.63v2.63h-2.63zM121.26 113.52h2.63v2.63h-2.63zM10.32 116.10h10.37v2.63h-10.37zM43.86 116.10h2.63v2.63h-2.63zM49.02 116.10h2.63v2.63h-2.63zM59.34 116.10h2.63v2.63h-2.63zM77.40 116.10h2.63v2.63h-2.63zM85.14 116.10h2.63v2.63h-2.63zM110.94 116.10h2.63v2.63h-2.63zM123.84 116.10h2.63v2.63h-2.63zM10.32 118.68h2.63v2.63h-2.63zM18.06 118.68h2.63v2.63h-2.63zM49.02 118.68h2.63v2.63h-2.63zM56.76 118.68h2.63v2.63h-2.63zM64.50 118.68h2.63v2.63h-2.63zM69.66 118.68h10.37v2.63h-10.37zM85.14 118.68h5.21v2.63h-5.21zM98.04 118.68h2.63v2.63h-2.63zM108.36 118.68h2.63v2.63h-2.63zM113.52 118.68h5.21v2.63h-5.21zM126.42 118.68h2.63v2.63h-2.63zM18.06 121.26h2.63v2.63h-2.63zM69.66 121.26h2.63v2.63h-2.63zM77.40 121.26h2.63v2.63h-2.63zM85.14 121.26h2.63v2.63h-2.63zM90.30 121.26h7.79v2.63h-7.79zM100.62 121.26h2.63v2.63h-2.63zM113.52 121.26h2.63v2.63h-2.63zM118.68 121.26h2.63v2.63h-2.63zM12.90 123.84h2.63v2.63h-2.63zM41.28 123.84h5.21v2.63h-5.21zM54.18 123.84h15.53v2.63h-15.53zM72.24 123.84h2.63v2.63h-2.63zM82.56 123.84h2.63v2.63h-2.63zM98.04 123.84h2.63v2.63h-2.63zM105.78 123.84h2.63v2.63h-2.63zM110.94 123.84h5.21v2.63h-5.21zM121.26 123.84h2.63v2.63h-2.63zM126.42 123.84h2.63v2.63h-2.63zM10.32 126.42h2.63v2.63h-2.63zM15.48 126.42h5.21v2.63h-5.21zM41.28 126.42h2.63v2.63h-2.63zM46.44 126.42h2.63v2.63h-2.63zM51.60 126.42h5.21v2.63h-5.21zM72.24 126.42h5.21v2.63h-5.21zM90.30 126.42h2.63v2.63h-2.63zM95.46 126.42h2.63v2.63h-2.63zM103.20 126.42h5.21v2.63h-5.21zM113.52 126.42h2.63v2.63h-2.63zM123.84 126.42h5.21v2.63h-5.21z"/>
<path fill="#565656" d="M0.00 0.00h2.63v2.63h-2.63zM51.60 0.00h2.63v2.63h-2.63zM59.34 0.00h2.63v2.63h-2.63zM72.24 0.00h2.63v2.63h-2.63zM95.46 0.00h5.21v2.63h-5.21zM103.20 0.00h2.63v2.63h-2.63zM108.36 0.00h2.63v2.63h-2.63zM121.26 0.00h2.63v2.63h-2.63zM0.00 2.58h2.63v2.63h-2.63zM33.54 2.58h2.63v2.63h-2.63zM51.60 2.58h2.63v2.63h-2.63zM59.34 2.58h5.21v2.63h-5.21zM69.66 2.58h2.63v2.63h-2.63zM95.46 2.58h5.21v2.63h-5.21zM103.20 2.58h5.21v2.63h-5.21zM118.68 2.58h2.63v2.63h-2.63zM15.48 5.16h2.63v2.63h-2.63zM20.64 5.16h2.63v2.63h-2.63zM30.96 5.16h2.63v2.63h-2.63zM49.02 5.16h2.63v2.63h-2.63zM64.50 5.16h2.63v2.63h-2.63zM72.24 5.16h2.63v2.63h-2.63zM10.32 7.74h5.21v2.63h-5.21zM20.64 7.74h2.63v2.63h-2.63zM30.96 7.74h2.63v2.63h-2.63zM38.70 7.74h2.63v2.63h-2.63zM67.08 7.74h2.63v2.63h-2.63zM74.82 7.74h2.63v2.63h-2.63zM116.10 7.74h2.63v2.63h-2.63zM123.84 7.74h2.63v2.63h-2.63zM0.00 10.32h2.63v2.63h-2.63zM54.18 10.32h2.63v2.63h-2.63zM67.08 10.32h2.63v2.63h-2.63zM74.82 10.32h2.63v2.63h-2.63zM90.30 10.32h2.63v2.63h-2.63zM108.36 10.32h2.63v2.63h-2.63zM113.52 10.32h2.63v2.63h-2.63zM118.68 10.32h5.21v2.63h-5.21zM25.80 12.90h5.21v2.63h-5.21zM36.12 12.90h2.63v2.63h-2.63zM54.18 12.90h5.21v2.63h-5.21zM61.92 12.90h5.21v2.63h-5.21zM74.82 12.90h2.63v2.63h-2.63zM87.72 12.90h2.63v2.63h-2.63zM92.88 12.90h2.63v2.63h-2.63zM100.62 12.90h2.63v2.63h-2.63zM108.36 12.90h2.63v2.63h-2.63zM118.68 12.90h2.63v2.63h-2.63zM123.84 12.90h2.63v2.63h-2.63zM10.32 15.48h2.63v2.63h-2.63zM18.06 15.48h2.63v2.63h-2.63zM30.96 15.48h2.63v2.63h-2.63zM51.60 15.48h2.63v2.63h-2.63zM61.92 15.48h2.63v2.63h-2.63zM69.66 15.48h5.21v2.63h-5.21zM92.88 15.48h2.63v2.63h-2.63zM103.20 15.48h2.63v2.63h-2.63zM123.84 15.48h2.63v2.63h-2.63zM2.58 18.06h2.63v2.63h-2.63zM25.80 18.06h5.21v2.63h-5.21zM51.60 18.06h2.63v2.63h-2.63zM69.66 18.06h2.63v2.63h-2.63zM74.82 18.06h5.21v2.63h-5.21zM98.04 18.06h2.63v2.63h-2.63zM105.78 18.06h2.63v2.63h-2.63zM123.84 18.06h2.63v2.63h-2.63zM2.58 20.64h2.63v2.63h-2.63zM15.48 20.64h2.63v2.63h-2.63zM25.80 20.64h5.21v2.63h-5.21zM79.98 20.64h2.63v2.63h-2.63zM92.88 20.64h7.79v2.63h-7.79zM105.78 20.64h5.21v2.63h-5.21zM15.48 23.22h2.63v2.63h-2.63zM36.12 23.22h2.63v2.63h-2.63zM51.60 23.22h2.63v2.63h-2.63zM64.50 23.22h5.21v2.63h-5.21zM77.40 23.22h5.21v2.63h-5.21zM85.14 23.22h2.63v2.63h-2.63zM105.78 23.22h5.21v2.63h-5.21zM118.68 23.22h2.63v2.63h-2.63zM0.00 25.80h2.63v2.63h-2.63zM5.16 25.80h2.63v2.63h-2.63zM20.64 25.80h2.63v2.63h-2.63zM54.18 25.80h2.63v2.63h-2.63zM64.50 25.80h5.21v2.63h-5.21zM108.36 25.80h2.63v2.63h-2.63zM0.00 28.38h2.63v2.63h-2.63zM25.80 28.38h2.63v2.63h-2.63zM41.28 28.38h2.63v2.63h-2.63zM46.44 28.38h2.63v2.63h-2.63zM54.18 28.38h2.63v2.63h-2.63zM59.34 28.38h2.63v2.63h-2.63zM69.66 28.38h2.63v2.63h-2.63zM82.56 28.38h2.63v2.63h-2.63zM98.04 28.38h2.63v2.63h-2.63zM105.78 28.38h2.63v2.63h-2.63zM110.94 28.38h2.63v2.63h-2.63zM123.84 28.38h2.63v2.63h-2.63zM10.32 30.96h2.63v2.63h-2.63zM15.48 30.96h5.21v2.63h-5.21zM23.22 30.96h2.63v2.63h-2.63zM28.38 30.96h2.63v2.63h-2.63zM33.54 30.96h2.63v2.63h-2.63zM54.18 30.96h5.21v2.63h-5.21zM61.92 30.96h2.63v2.63h-2.63zM74.82 30.96h2.63v2.63h-2.63zM105.78 30.96h2.63v2.63h-2.63zM2.58 33.54h2.63v2.63h-2.63zM10.32 33.54h2.63v2.63h-2.63zM20.64 33.54h2.63v2.63h-2.63zM30.96 33.54h2.63v2.63h-2.63zM108.36 33.54h2.63v2.63h-2.63zM2.58 36.12h5.21v2.63h-5.21zM10.32 36.12h2.63v2.63h-2.63zM18.06 36.12h2.63v2.63h-2.63zM23.22 36.12h2.63v2.63h-2.63zM30.96 36.12h2.63v2.63h-2.63zM36.12 36.12h5.21v2.63h-5.21zM49.02 36.12h2.63v2.63h-2.63zM61.92 36.12h2.63v2.63h-2.63zM69.66 36.12h2.63v2.63h-2.63zM108.36 36.12h2.63v2.63h-2.63zM0.00 38.70h2.63v2.63h-2.63zM12.90 38.70h2.63v2.63h-2.63zM23.22 38.70h2.63v2.63h-2.63zM41.28 38.70h2.63v2.63h-2.63zM64.50 38.70h2.63v2.63h-2.63zM74.82 38.70h2.63v2.63h-2.63zM82.56 38.70h2.63v2.63h-2.63zM100.62 38.70h2.63v2.63h-2.63zM105.78 38.70h2.63v2.63h-2.63zM41.28 41.28h7.79v2.63h-7.79zM67.08 41.28h2.63v2.63h-2.63zM92.88 41.28h2.63v2.63h-2.63zM100.62 41.28h5.21v2.63h-5.21zM126.42 41.28h2.63v2.63h-2.63zM25.80 43.86h2.63v2.63h-2.63zM38.70 43.86h2.63v2.63h-2.63zM69.66 43.86h2.63v2.63h-2.63zM79.98 43.86h2.63v2.63h-2.63zM87.72 43.86h5.21v2.63h-5.21zM100.62 43.86h2.63v2.63h-2.63zM105.78 43.86h2.63v2.63h-2.63zM118.68 43.86h2.63v2.63h-2.63zM126.42 43.86h2.63v2.63h-2.63zM25.80 46.44h5.21v2.63h-5.21zM33.54 46.44h2.63v2.63h-2.63zM51.60 46.44h7.79v2.63h-7.79zM87.72 46.44h5.21v2.63h-5.21zM103.20 46.44h2.63v2.63h-2.63zM113.52 46.44h2.63v2.63h-2.63zM0.00 49.02h2.63v2.63h-2.63zM15.48 49.02h2.63v2.63h-2.63zM30.96 49.02h7.79v2.63h-7.79zM41.28 49.02h2.63v2.63h-2.63zM49.02 49.02h2.63v2.63h-2.63zM72.24 49.02h7.79v2.63h-7.79zM92.88 49.02h7.79v2.63h-7.79zM105.78 49.02h7.79v2.63h-7.79zM0.00 51.60h2.63v2.63h-2.63zM5.16 51.60h2.63v2.63h-2.63zM12.90 51.60h2.63v2.63h-2.63zM41.28 51.60h2.63v2.63h-2.63zM46.44 51.60h5.21v2.63h-5.21zM64.50 51.60h2.63v2.63h-2.63zM74.82 51.60h7.79v2.63h-7.79zM90.30 51.60h2.63v2.63h-2.63zM98.04 51.60h2.63v2.63h-2.63zM7.74 54.18h5.21v2.63h-5.21zM28.38 54.18h5.21v2.63h-5.21zM41.28 54.18h2.63v2.63h-2.63zM46.44 54.18h2.63v2.63h-2.63zM51.60 54.18h2.63v2.63h-2.63zM61.92 54.18h2.63v2.63h-2.63zM69.66 54.18h2.63v2.63h-2.63zM100.62 54.18h5.21v2.63h-5.21zM110.94 54.18h7.79v2.63h-7.79zM123.84 54.18h5.21v2.63h-5.21zM0.00 56.76h2.63v2.63h-2.63zM20.64 56.76h2.63v2.63h-2.63zM25.80 56.76h2.63v2.63h-2.63zM51.60 56.76h2.63v2.63h-2.63zM79.98 56.76h2.63v2.63h-2.63zM92.88 56.76h5.21v2.63h-5.21zM103.20 56.76h2.63v2.63h-2.63zM108.36 56.76h2.63v2.63h-2.63zM113.52 56.76h5.21v2.63h-5.21zM10.32 59.34h2.63v2.63h-2.63zM67.08 59.34h2.63v2.63h-2.63zM72.24 59.34h2.63v2.63h-2.63zM82.56 59.34h5.21v2.63h-5.21zM90.30 59.34h2.63v2.63h-2.63zM98.04 59.34h2.63v2.63h-2.63zM123.84 59.34h2.63v2.63h-2.63zM23.22 61.92h2.63v2.63h-2.63zM33.54 61.92h5.21v2.63h-5.21zM54.18 61.92h2.63v2.63h-2.63zM72.24 61.92h7.79v2.63h-7.79zM82.56 61.92h2.63v2.63h-2.63zM90.30 61.92h2.63v2.63h-2.63zM98.04 61.92h7.79v2.63h-7.79zM116.10 61.92h2.63v2.63h-2.63zM126.42 61.92h2.63v2.63h-2.63zM0.00 64.50h2.63v2.63h-2.63zM7.74 64.50h5.21v2.63h-5.21zM15.48 64.50h2.63v2.63h-2.63zM25.80 64.50h5.21v2.63h-5.21zM33.54 64.50h2.63v2.63h-2.63zM41.28 64.50h2.63v2.63h-2.63zM49.02 64.50h2.63v2.63h-2.63zM67.08 64.50h2.63v2.63h-2.63zM72.24 64.50h2.63v2.63h-2.63zM77.40 64.50h5.21v2.63h-5.21zM110.94 64.50h2.63v2.63h-2.63zM116.10 64.50h5.21v2.63h-5.21zM5.16 67.08h2.63v2.63h-2.63zM20.64 67.08h2.63v2.63h-2.63zM28.38 67.08h2.63v2.63h-2.63zM33.54 67.08h2.63v2.63h-2.63zM43.86 67.08h2.63v2.63h-2.63zM67.08 67.08h2.63v2.63h-2.63zM77.40 67.08h7.79v2.63h-7.79zM90.30 67.08h2.63v2.63h-2.63zM116.10 67.08h2.63v2.63h-2.63zM126.42 67.08h2.63v2.63h-2.63zM10.32 69.66h5.21v2.63h-5.21zM28.38 69.66h2.63v2.63h-2.63zM46.44 69.66h2.63v2.63h-2.63zM116.10 69.66h2.63v2.63h-2.63zM126.42 69.66h2.63v2.63h-2.63zM0.00 72.24h2.63v2.63h-2.63zM7.74 72.24h2.63v2.63h-2.63zM12.90 72.24h10.37v2.63h-10.37zM30.96 72.24h2.63v2.63h-2.63zM49.02 72.24h2.63v2.63h-2.63zM59.34 72.24h2.63v2.63h-2.63zM64.50 72.24h2.63v2.63h-2.63zM90.30 72.24h2.63v2.63h-2.63zM118.68 72.24h2.63v2.63h-2.63zM126.42 72.24h2.63v2.63h-2.63zM0.00 74.82h2.63v2.63h-2.63zM15.48 74.82h7.79v2.63h-7.79zM25.80 74.82h7.79v2.63h-7.79zM51.60 74.82h2.63v2.63h-2.63zM61.92 74.82h2.63v2.63h-2.63zM72.24 74.82h2.63v2.63h-2.63zM85.14 74.82h2.63v2.63h-2.63zM100.62 74.82h2.63v2.63h-2.63zM118.68 74.82h5.21v2.63h-5.21zM67.08 77.40h2.63v2.63h-2.63zM72.24 77.40h2.63v2.63h-2.63zM85.14 77.40h2.63v2.63h-2.63zM90.30 77.40h2.63v2.63h-2.63zM95.46 77.40h2.63v2.63h-2.63zM113.52 77.40h2.63v2.63h-2.63zM126.42 77.40h2.63v2.63h-2.63zM20.64 79.98h2.63v2.63h-2.63zM33.54 79.98h2.63v2.63h-2.63zM46.44 79.98h5.21v2.63h-5.21zM54.18 79.98h2.63v2.63h-2.63zM67.08 79.98h10.37v2.63h-10.37zM98.04 79.98h5.21v2.63h-5.21zM105.78 79.98h2.63v2.63h-2.63zM7.74 82.56h2.63v2.63h-2.63zM15.48 82.56h2.63v2.63h-2.63zM49.02 82.56h2.63v2.63h-2.63zM67.08 82.56h5.21v2.63h-5.21zM74.82 82.56h2.63v2.63h-2.63zM85.14 82.56h2.63v2.63h-2.63zM90.30 82.56h2.63v2.63h-2.63zM100.62 82.56h2.63v2.63h-2.63zM105.78 82.56h2.63v2.63h-2.63zM2.58 85.14h2.63v2.63h-2.63zM64.50 85.14h2.63v2.63h-2.63zM69.66 85.14h2.63v2.63h-2.63zM74.82 85.14h2.63v2.63h-2.63zM79.98 85.14h2.63v2.63h-2.63zM90.30 85.14h5.21v2.63h-5.21zM108.36 85.14h2.63v2.63h-2.63zM113.52 85.14h5.21v2.63h-5.21zM126.42 85.14h2.63v2.63h-2.63zM46.44 87.72h2.63v2.63h-2.63zM64.50 87.72h5.21v2.63h-5.21zM72.24 87.72h5.21v2.63h-5.21zM85.14 87.72h2.63v2.63h-2.63zM90.30 87.72h2.63v2.63h-2.63zM0.00 90.30h2.63v2.63h-2.63zM74.82 90.30h2.63v2.63h-2.63zM90.30 90.30h2.63v2.63h-2.63zM0.00 92.88h5.21v2.63h-5.21zM59.34 92.88h2.63v2.63h-2.63zM90.30 92.88h2.63v2.63h-2.63zM46.44 95.46h2.63v2.63h-2.63zM51.60 95.46h5.21v2.63h-5.21zM87.72 95.46h2.63v2.63h-2.63zM100.62 95.46h2.63v2.63h-2.63zM121.26 95.46h2.63v2.63h-2.63zM51.60 98.04h5.21v2.63h-5.21zM67.08 98.04h2.63v2.63h-2.63zM72.24 98.04h2.63v2.63h-2.63zM121.26 98.04h2.63v2.63h-2.63zM126.42 98.04h2.63v2.63h-2.63zM49.02 100.62h5.21v2.63h-5.21zM56.76 100.62h2.63v2.63h-2.63zM79.98 100.62h2.63v2.63h-2.63zM95.46 100.62h5.21v2.63h-5.21zM116.10 100.62h5.21v2.63h-5.21zM18.06 103.20h2.63v2.63h-2.63zM46.44 103.20h2.63v2.63h-2.63zM92.88 103.20h2.63v2.63h-2.63zM110.94 103.20h2.63v2.63h-2.63zM0.00 105.78h2.63v2.63h-2.63zM49.02 105.78h2.63v2.63h-2.63zM56.76 105.78h2.63v2.63h-2.63zM64.50 105.78h2.63v2.63h-2.63zM87.72 105.78h2.63v2.63h-2.63zM116.10 105.78h2.63v2.63h-2.63zM121.26 105.78h2.63v2.63h-2.63zM0.00 108.36h2.63v2.63h-2.63zM23.22 108.36h2.63v2.63h-2.63zM33.54 108.36h2.63v2.63h-2.63zM49.02 108.36h2.63v2.63h-2.63zM64.50 108.36h2.63v2.63h-2.63zM95.46 108.36h2.63v2.63h-2.63zM103.20 108.36h10.37v2.63h-10.37zM0.00 110.94h2.63v2.63h-2.63zM10.32 110.94h2.63v2.63h-2.63zM49.02 110.94h2.63v2.63h-2.63zM54.18 110.94h2.63v2.63h-2.63zM72.24 110.94h2.63v2.63h-2.63zM108.36 110.94h2.63v2.63h-2.63zM118.68 110.94h5.21v2.63h-5.21zM41.28 113.52h5.21v2.63h-5.21zM67.08 113.52h2.63v2.63h-2.63zM82.56 113.52h5.21v2.63h-5.21zM103.20 113.52h5.21v2.63h-5.21zM110.94 113.52h5.21v2.63h-5.21zM123.84 113.52h2.63v2.63h-2.63zM67.08 116.10h7.79v2.63h-7.79zM79.98 116.10h2.63v2.63h-2.63zM95.46 116.10h5.21v2.63h-5.21zM113.52 116.10h2.63v2.63h-2.63zM121.26 116.10h2.63v2.63h-2.63zM15.48 118.68h2.63v2.63h-2.63zM43.86 118.68h5.21v2.63h-5.21zM54.18 118.68h2.63v2.63h-2.63zM67.08 118.68h2.63v2.63h-2.63zM79.98 118.68h2.63v2.63h-2.63zM95.46 118.68h2.63v2.63h-2.63zM100.62 118.68h5.21v2.63h-5.21zM123.84 118.68h2.63v2.63h-2.63zM10.32 121.26h5.21v2.63h-5.21zM43.86 121.26h2.63v2.63h-2.63zM67.08 121.26h2.63v2.63h-2.63zM72.24 121.26h5.21v2.63h-5.21zM87.72 121.26h2.63v2.63h-2.63zM103.20 121.26h7.79v2.63h-7.79zM10.32 123.84h2.63v2.63h-2.63zM18.06 123.84h2.63v2.63h-2.63zM69.66 123.84h2.63v2.63h-2.63zM87.72 123.84h2.63v2.63h-2.63zM92.88 123.84h2.63v2.63h-2.63zM100.62 123.84h2.63v2.63h-2.63zM108.36 123.84h2.63v2.63h-2.63zM12.90 126.42h2.63v2.63h-2.63zM64.50 126.42h2.63v2.63h-2.63zM69.66 126.42h2.63v2.63h-2.63zM77.40 126.42h2.63v2.63h-2.63zM87.72 126.42h2.63v2.63h-2.63zM121.26 126.42h2.63v2.63h-2.63z"/>
<path fill="#6b6b6b" d="M108.36 7.74h2.63v2.63h-2.63zM18.06 10.32h2.63v2.63h-2.63zM113.52 12.90h2.63v2.63h-2.63zM41.28 15.48h2.63v2.63h-2.63zM85.14 15.48h2.63v2.63h-2.63zM121.26 15.48h2.63v2.63h-2.63zM0.00 18.06h2.63v2.63h-2.63zM36.12 18.06h2.63v2.63h-2.63zM59.34 18.06h2.63v2.63h-2.63zM18.06 20.64h2.63v2.63h-2.63zM36.12 25.80h2.63v2.63h-2.63zM36.12 28.38h2.63v2.63h-2.63zM85.14 28.38h2.63v2.63h-2.63zM90.30 28.38h2.63v2.63h-2.63zM79.98 30.96h2.63v2.63h-2.63zM118.68 33.54h2.63v2.63h-2.63zM25.80 36.12h2.63v2.63h-2.63zM33.54 36.12h2.63v2.63h-2.63zM56.76 38.70h2.63v2.63h-2.63zM116.10 43.86h2.63v2.63h-2.63zM105.78 46.44h2.63v2.63h-2.63zM90.30 49.02h2.63v2.63h-2.63zM103.20 49.02h2.63v2.63h-2.63zM87.72 51.60h2.63v2.63h-2.63zM20.64 59.34h2.63v2.63h-2.63zM51.60 59.34h2.63v2.63h-2.63zM77.40 59.34h2.63v2.63h-2.63zM64.50 61.92h2.63v2.63h-2.63zM46.44 64.50h2.63v2.63h-2.63zM74.82 64.50h2.63v2.63h-2.63zM126.42 64.50h2.63v2.63h-2.63zM69.66 67.08h2.63v2.63h-2.63zM43.86 69.66h2.63v2.63h-2.63zM110.94 69.66h2.63v2.63h-2.63zM25.80 72.24h2.63v2.63h-2.63zM77.40 72.24h5.21v2.63h-5.21zM23.22 74.82h2.63v2.63h-2.63zM123.84 74.82h2.63v2.63h-2.63zM69.66 77.40h2.63v2.63h-2.63zM10.32 79.98h10.37v2.63h-10.37zM23.22 79.98h2.63v2.63h-2.63zM87.72 79.98h2.63v2.63h-2.63zM46.44 82.56h2.63v2.63h-2.63zM77.40 82.56h2.63v2.63h-2.63zM67.08 85.14h2.63v2.63h-2.63zM87.72 85.14h2.63v2.63h-2.63zM28.38 92.88h2.63v2.63h-2.63zM123.84 92.88h2.63v2.63h-2.63zM72.24 95.46h5.21v2.63h-5.21zM43.86 98.04h2.63v2.63h-2.63zM49.02 98.04h2.63v2.63h-2.63zM103.20 98.04h2.63v2.63h-2.63zM95.46 103.20h2.63v2.63h-2.63zM46.44 105.78h2.63v2.63h-2.63zM30.96 108.36h2.63v2.63h-2.63zM87.72 108.36h2.63v2.63h-2.63zM121.26 108.36h2.63v2.63h-2.63zM7.74 110.94h2.63v2.63h-2.63zM20.64 113.52h2.63v2.63h-2.63zM74.82 113.52h2.63v2.63h-2.63zM95.46 113.52h2.63v2.63h-2.63zM20.64 116.10h2.63v2.63h-2.63zM116.10 116.10h2.63v2.63h-2.63zM20.64 118.68h2.63v2.63h-2.63zM20.64 121.26h2.63v2.63h-2.63zM64.50 121.26h2.63v2.63h-2.63zM20.64 123.84h2.63v2.63h-2.63zM74.82 123.84h2.63v2.63h-2.63zM95.46 123.84h2.63v2.63h-2.63zM103.20 123.84h2.63v2.63h-2.63zM20.64 126.42h2.63v2.63h-2.63zM108.36 126.42h2.63v2.63h-2.63z"/>
<path fill="#8c8c8c" d="M28.38 10.32h2.63v2.63h-2.63zM126.42 28.38h2.63v2.63h-2.63zM126.42 36.12h2.63v2.63h-2.63zM108.36 41.28h2.63v2.63h-2.63zM108.36 46.44h2.63v2.63h-2.63zM36.12 74.82h2.63v2.63h-2.63zM30.96 87.72h2.63v2.63h-2.63zM28.38 98.04h2.63v2.63h-2.63zM95.46 98.04h2.63v2.63h-2.63zM118.68 98.04h2.63v2.63h-2.63zM56.76 103.20h2.63v2.63h-2.63zM64.50 103.20h2.63v2.63h-2.63zM28.38 105.78h2.63v2.63h-2.63zM110.94 105.78h2.63v2.63h-2.63zM46.44 108.36h2.63v2.63h-2.63zM23.22 110.94h2.63v2.63h-2.63z"/>
<path fill="#b2b2b2" d="M87.72 23.22h2.63v2.63h-2.63zM123.84 30.96h2.63v2.63h-2.63zM116.10 36.12h2.63v2.63h-2.63zM118.68 41.28h2.63v2.63h-2.63zM110.94 46.44h2.63v2.63h-2.63zM38.70 69.66h2.63v2.63h-2.63zM43.86 72.24h2.63v2.63h-2.63zM43.86 74.82h2.63v2.63h-2.63zM43.86 77.40h2.63v2.63h-2.63zM33.54 82.56h2.63v2.63h-2.63zM43.86 85.14h2.63v2.63h-2.63zM43.86 92.88h2.63v2.63h-2.63zM43.86 95.46h2.63v2.63h-2.63zM28.38 100.62h2.63v2.63h-2.63zM38.70 100.62h2.63v2.63h-2.63zM59.34 100.62h5.21v2.63h-5.21zM38.70 103.20h2.63v2.63h-2.63zM38.70 105.78h2.63v2.63h-2.63zM36.12 108.36h2.63v2.63h-2.63zM2.58 110.94h2.63v2.63h-2.63zM25.80 110.94h2.63v2.63h-2.63zM38.70 110.94h2.63v2.63h-2.63zM38.70 113.52h2.63v2.63h-2.63zM38.70 116.10h2.63v2.63h-2.63z"/>
<path fill="#d8d8d8" d="M90.30 23.22h5.21v2.63h-5.21zM87.72 25.80h7.79v2.63h-7.79zM123.84 33.54h2.63v2.63h-2.63zM113.52 38.70h5.21v2.63h-5.21zM121.26 38.70h2.63v2.63h-2.63zM110.94 41.28h5.21v2.63h-5.21zM108.36 43.86h2.63v2.63h-2.63zM41.28 69.66h2.63v2.63h-2.63zM38.70 72.24h5.21v2.63h-5.21zM36.12 77.40h5.21v2.63h-5.21zM36.12 79.98h10.37v2.63h-10.37zM36.12 82.56h10.37v2.63h-10.37zM33.54 85.14h2.63v2.63h-2.63zM38.70 85.14h5.21v2.63h-5.21zM33.54 87.72h2.63v2.63h-2.63zM38.70 87.72h7.79v2.63h-7.79zM30.96 90.30h5.21v2.63h-5.21zM43.86 90.30h2.63v2.63h-2.63zM30.96 92.88h2.63v2.63h-2.63zM30.96 95.46h2.63v2.63h-2.63zM30.96 98.04h5.21v2.63h-5.21zM38.70 98.04h2.63v2.63h-2.63zM30.96 100.62h2.63v2.63h-2.63zM36.12 100.62h2.63v2.63h-2.63zM28.38 103.20h2.63v2.63h-2.63zM30.96 105.78h5.21v2.63h-5.21zM61.92 105.78h2.63v2.63h-2.63zM5.16 110.94h2.63v2.63h-2.63zM28.38 110.94h10.37v2.63h-10.37zM0.00 113.52h10.37v2.63h-10.37zM23.22 113.52h7.79v2.63h-7.79zM33.54 113.52h5.21v2.63h-5.21zM0.00 116.10h2.63v2.63h-2.63zM7.74 116.10h2.63v2.63h-2.63zM25.80 116.10h7.79v2.63h-7.79zM36.12 116.10h2.63v2.63h-2.63zM0.00 118.68h5.21v2.63h-5.21zM7.74 118.68h2.63v2.63h-2.63zM28.38 118.68h2.63v2.63h-2.63zM36.12 118.68h2.63v2.63h-2.63zM2.58 121.26h5.21v2.63h-5.21zM23.22 121.26h5.21v2.63h-5.21zM38.70 121.26h2.63v2.63h-2.63zM5.16 123.84h2.63v2.63h-2.63zM23.22 123.84h10.37v2.63h-10.37zM38.70 123.84h2.63v2.63h-2.63zM0.00 126.42h5.21v2.63h-5.21zM25.80 126.42h12.95v2.63h-12.95z"/>
<path fill="#f7f7f7" d="M126.42 30.96h2.63v2.63h-2.63zM121.26 33.54h2.63v2.63h-2.63zM126.42 33.54h2.63v2.63h-2.63zM118.68 36.12h7.79v2.63h-7.79zM118.68 38.70h2.63v2.63h-2.63zM116.10 41.28h2.63v2.63h-2.63zM110.94 43.86h5.21v2.63h-5.21zM38.70 74.82h5.21v2.63h-5.21zM41.28 77.40h2.63v2.63h-2.63zM36.12 85.14h2.63v2.63h-2.63zM36.12 87.72h2.63v2.63h-2.63zM36.12 90.30h7.79v2.63h-7.79zM33.54 92.88h10.37v2.63h-10.37zM33.54 95.46h10.37v2.63h-10.37zM36.12 98.04h2.63v2.63h-2.63zM33.54 100.62h2.63v2.63h-2.63zM30.96 103.20h7.79v2.63h-7.79zM59.34 103.20h5.21v2.63h-5.21zM36.12 105.78h2.63v2.63h-2.63zM59.34 105.78h2.63v2.63h-2.63zM30.96 113.52h2.63v2.63h-2.63zM2.58 116.10h5.21v2.63h-5.21zM23.22 116.10h2.63v2.63h-2.63zM33.54 116.10h2.63v2.63h-2.63zM5.16 118.68h2.63v2.63h-2.63zM23.22 118.68h5.21v2.63h-5.21zM30.96 118.68h5.21v2.63h-5.21zM38.70 118.68h2.63v2.63h-2.63zM0.00 121.26h2.63v2.63h-2.63zM7.74 121.26h2.63v2.63h-2.63zM28.38 121.26h10.37v2.63h-10.37zM0.00 123.84h5.21v2.63h-5.21zM7.74 123.84h2.63v2.63h-2.63zM33.54 123.84h5.21v2.63h-5.21zM5.16 126.42h5.21v2.63h-5.21zM23.22 126.42h2.63v2.63h-2.63zM38.70 126.42h2.63v2.63h-2.63z"/>
<path fill="#e9e491" d="M67.08 46.44h2.63v2.63h-2.63zM69.66 46.44h2.63v2.63h-2.63zM72.24 46.44h2.63v2.63h-2.63zM64.50 49.02h2.63v2.63h-2.63zM67.08 49.02h2.63v2.63h-2.63zM69.66 49.02h2.63v2.63h-2.63zM72.24 49.02h2.63v2.63h-2.63zM74.82 49.02h2.63v2.63h-2.63zM61.92 51.60h2.63v2.63h-2.63zM64.50 51.60h2.63v2.63h-2.63zM67.08 51.60h2.63v2.63h-2.63zM69.66 51.60h2.63v2.63h-2.63zM72.24 51.60h2.63v2.63h-2.63zM74.82 51.60h2.63v2.63h-2.63zM77.40 51.60h2.63v2.63h-2.63zM61.92 54.18h2.63v2.63h-2.63zM64.50 54.18h2.63v2.63h-2.63zM67.08 54.18h2.63v2.63h-2.63zM69.66 54.18h2.63v2.63h-2.63zM72.24 54.18h2.63v2.63h-2.63zM74.82 54.18h2.63v2.63h-2.63zM77.40 54.18h2.63v2.63h-2.63zM61.92 56.76h2.63v2.63h-2.63zM64.50 56.76h2.63v2.63h-2.63zM67.08 56.76h2.63v2.63h-2.63zM69.66 56.76h2.63v2.63h-2.63zM72.24 56.76h2.63v2.63h-2.63zM74.82 56.76h2.63v2.63h-2.63zM77.40 56.76h2.63v2.63h-2.63zM61.92 59.34h2.63v2.63h-2.63zM64.50 59.34h2.63v2.63h-2.63zM67.08 59.34h2.63v2.63h-2.63zM69.66 59.34h2.63v2.63h-2.63zM72.24 59.34h2.63v2.63h-2.63zM74.82 59.34h2.63v2.63h-2.63zM77.40 59.34h2.63v2.63h-2.63zM79.98 59.34h2.63v2.63h-2.63zM61.92 61.92h2.63v2.63h-2.63zM64.50 61.92h2.63v2.63h-2.63zM67.08 61.92h2.63v2.63h-2.63zM69.66 61.92h2.63v2.63h-2.63zM72.24 61.92h2.63v2.63h-2.63zM74.82 61.92h2.63v2.63h-2.63zM77.40 61.92h2.63v2.63h-2.63zM79.98 61.92h2.63v2.63h-2.63zM61.92 64.50h2.63v2.63h-2.63zM64.50 64.50h2.63v2.63h-2.63zM67.08 64.50h2.63v2.63h-2.63zM69.66 64.50h2.63v2.63h-2.63zM72.24 64.50h2.63v2.63h-2.63zM74.82 64.50h2.63v2.63h-2.63zM77.40 64.50h2.63v2.63h-2.63zM61.92 67.08h2.63v2.63h-2.63zM64.50 67.08h2.63v2.63h-2.63zM67.08 67.08h2.63v2.63h-2.63zM69.66 67.08h2.63v2.63h-2.63zM72.24 67.08h2.63v2.63h-2.63zM74.82 67.08h2.63v2.63h-2.63zM77.40 67.08h2.63v2.63h-2.63zM61.92 69.66h2.63v2.63h-2.63zM64.50 69.66h2.63v2.63h-2.63zM67.08 69.66h2.63v2.63h-2.63zM69.66 69.66h2.63v2.63h-2.63zM72.24 69.66h2.63v2.63h-2.63zM74.82 69.66h2.63v2.63h-2.63zM77.40 69.66h2.63v2.63h-2.63zM61.92 72.24h2.63v2.63h-2.63zM64.50 72.24h2.63v2.63h-2.63zM67.08 72.24h2.63v2.63h-2.63zM69.66 72.24h2.63v2.63h-2.63zM72.24 72.24h2.63v2.63h-2.63zM74.82 72.24h2.63v2.63h-2.63zM64.50 74.82h2.63v2.63h-2.63zM67.08 74.82h2.63v2.63h-2.63z"/>
</g>
<path d="M71.7 46.5L65.5 77.8" stroke="#e8231c" stroke-width="0.8" stroke-dasharray="2.2 0.8"/>
<path d="M62.3 54.4L80.8 58.6" stroke="#e8231c" stroke-width="0.8" stroke-dasharray="2.2 0.8"/>
</svg>
<!--/THUMB1-->
</div>
<div class="thumb" id="t2" style="left:834px">
<!--THUMB2-->
<svg class="abs" style="left:0;top:0" width="129" height="129" viewBox="0 0 129 129">
<defs><filter id="tb2" x="0" y="0" width="100%" height="100%"><feGaussianBlur stdDeviation="0.55"/></filter></defs>
<g filter="url(#tb2)">
<rect width="129" height="129" fill="#3f3f3f"/>
<path fill="#1e1e1e" d="M18.06 18.06h2.63v2.63h-2.63zM41.28 43.86h2.63v2.63h-2.63z"/>
<path fill="#2b2b2b" d="M82.56 2.58h2.63v2.63h-2.63zM123.84 2.58h2.63v2.63h-2.63zM85.14 10.32h2.63v2.63h-2.63zM85.14 12.90h2.63v2.63h-2.63zM7.74 28.38h2.63v2.63h-2.63zM67.08 28.38h2.63v2.63h-2.63zM100.62 28.38h2.63v2.63h-2.63zM95.46 30.96h2.63v2.63h-2.63zM7.74 33.54h2.63v2.63h-2.63zM38.70 33.54h2.63v2.63h-2.63zM77.40 38.70h2.63v2.63h-2.63zM30.96 41.28h2.63v2.63h-2.63zM36.12 41.28h2.63v2.63h-2.63zM100.62 41.28h2.63v2.63h-2.63zM92.88 43.86h2.63v2.63h-2.63zM126.42 43.86h2.63v2.63h-2.63zM49.02 49.02h2.63v2.63h-2.63zM54.18 51.60h2.63v2.63h-2.63zM64.50 51.60h2.63v2.63h-2.63zM77.40 54.18h5.21v2.63h-5.21zM10.32 59.34h2.63v2.63h-2.63zM98.04 59.34h2.63v2.63h-2.63zM0.00 61.92h2.63v2.63h-2.63zM30.96 61.92h2.63v2.63h-2.63zM67.08 61.92h2.63v2.63h-2.63zM113.52 61.92h2.63v2.63h-2.63zM5.16 64.50h5.21v2.63h-5.21zM85.14 64.50h2.63v2.63h-2.63zM90.30 64.50h2.63v2.63h-2.63zM25.80 67.08h2.63v2.63h-2.63zM49.02 67.08h2.63v2.63h-2.63zM0.00 69.66h2.63v2.63h-2.63zM43.86 72.24h2.63v2.63h-2.63zM116.10 74.82h2.63v2.63h-2.63zM121.26 74.82h2.63v2.63h-2.63zM51.60 77.40h2.63v2.63h-2.63zM85.14 79.98h2.63v2.63h-2.63zM51.60 82.56h2.63v2.63h-2.63zM46.44 87.72h2.63v2.63h-2.63zM85.14 87.72h2.63v2.63h-2.63zM51.60 90.30h2.63v2.63h-2.63zM61.92 92.88h2.63v2.63h-2.63zM41.28 95.46h2.63v2.63h-2.63zM64.50 95.46h2.63v2.63h-2.63zM100.62 95.46h2.63v2.63h-2.63zM90.30 98.04h2.63v2.63h-2.63zM41.28 103.20h2.63v2.63h-2.63zM92.88 103.20h2.63v2.63h-2.63zM41.28 105.78h2.63v2.63h-2.63zM95.46 110.94h2.63v2.63h-2.63zM113.52 110.94h2.63v2.63h-2.63zM126.42 113.52h2.63v2.63h-2.63zM82.56 116.10h2.63v2.63h-2.63zM100.62 116.10h2.63v2.63h-2.63zM72.24 118.68h2.63v2.63h-2.63zM103.20 121.26h2.63v2.63h-2.63zM82.56 123.84h2.63v2.63h-2.63zM100.62 126.42h2.63v2.63h-2.63zM105.78 126.42h2.63v2.63h-2.63z"/>
<path fill="#353535" d="M7.74 0.00h2.63v2.63h-2.63zM12.90 0.00h2.63v2.63h-2.63zM46.44 0.00h2.63v2.63h-2.63zM59.34 0.00h5.21v2.63h-5.21zM82.56 0.00h5.21v2.63h-5.21zM121.26 0.00h2.63v2.63h-2.63zM126.42 0.00h2.63v2.63h-2.63zM10.32 2.58h2.63v2.63h-2.63zM56.76 2.58h5.21v2.63h-5.21zM79.98 2.58h2.63v2.63h-2.63zM100.62 2.58h2.63v2.63h-2.63zM105.78 2.58h2.63v2.63h-2.63zM38.70 5.16h2.63v2.63h-2.63zM49.02 5.16h5.21v2.63h-5.21zM56.76 5.16h2.63v2.63h-2.63zM67.08 5.16h2.63v2.63h-2.63zM79.98 5.16h5.21v2.63h-5.21zM0.00 7.74h2.63v2.63h-2.63zM25.80 7.74h2.63v2.63h-2.63zM36.12 7.74h2.63v2.63h-2.63zM59.34 7.74h5.21v2.63h-5.21zM87.72 7.74h2.63v2.63h-2.63zM108.36 7.74h2.63v2.63h-2.63zM7.74 10.32h2.63v2.63h-2.63zM28.38 10.32h2.63v2.63h-2.63zM43.86 10.32h2.63v2.63h-2.63zM74.82 10.32h2.63v2.63h-2.63zM90.30 10.32h2.63v2.63h-2.63zM98.04 10.32h2.63v2.63h-2.63zM2.58 12.90h2.63v2.63h-2.63zM10.32 12.90h2.63v2.63h-2.63zM98.04 12.90h2.63v2.63h-2.63zM87.72 15.48h2.63v2.63h-2.63zM100.62 15.48h2.63v2.63h-2.63zM121.26 15.48h2.63v2.63h-2.63zM10.32 18.06h2.63v2.63h-2.63zM20.64 18.06h2.63v2.63h-2.63zM25.80 18.06h2.63v2.63h-2.63zM30.96 18.06h2.63v2.63h-2.63zM41.28 18.06h5.21v2.63h-5.21zM74.82 18.06h2.63v2.63h-2.63zM10.32 20.64h2.63v2.63h-2.63zM30.96 20.64h2.63v2.63h-2.63zM49.02 20.64h2.63v2.63h-2.63zM72.24 20.64h2.63v2.63h-2.63zM95.46 20.64h2.63v2.63h-2.63zM100.62 20.64h2.63v2.63h-2.63zM25.80 23.22h2.63v2.63h-2.63zM90.30 23.22h2.63v2.63h-2.63zM116.10 23.22h2.63v2.63h-2.63zM5.16 25.80h2.63v2.63h-2.63zM15.48 25.80h2.63v2.63h-2.63zM43.86 25.80h2.63v2.63h-2.63zM61.92 25.80h5.21v2.63h-5.21zM79.98 25.80h2.63v2.63h-2.63zM95.46 25.80h2.63v2.63h-2.63zM103.20 25.80h2.63v2.63h-2.63zM5.16 28.38h2.63v2.63h-2.63zM10.32 28.38h2.63v2.63h-2.63zM20.64 28.38h2.63v2.63h-2.63zM36.12 28.38h2.63v2.63h-2.63zM59.34 28.38h2.63v2.63h-2.63zM85.14 28.38h2.63v2.63h-2.63zM95.46 28.38h2.63v2.63h-2.63zM5.16 30.96h5.21v2.63h-5.21zM12.90 30.96h5.21v2.63h-5.21zM20.64 30.96h2.63v2.63h-2.63zM33.54 30.96h2.63v2.63h-2.63zM61.92 30.96h7.79v2.63h-7.79zM90.30 30.96h2.63v2.63h-2.63zM100.62 30.96h2.63v2.63h-2.63zM118.68 30.96h2.63v2.63h-2.63zM56.76 33.54h5.21v2.63h-5.21zM74.82 33.54h2.63v2.63h-2.63zM87.72 33.54h2.63v2.63h-2.63zM18.06 36.12h5.21v2.63h-5.21zM61.92 36.12h2.63v2.63h-2.63zM2.58 38.70h2.63v2.63h-2.63zM41.28 38.70h2.63v2.63h-2.63zM49.02 38.70h2.63v2.63h-2.63zM103.20 38.70h5.21v2.63h-5.21zM121.26 38.70h2.63v2.63h-2.63zM12.90 41.28h5.21v2.63h-5.21zM43.86 41.28h2.63v2.63h-2.63zM54.18 41.28h2.63v2.63h-2.63zM85.14 41.28h2.63v2.63h-2.63zM36.12 43.86h2.63v2.63h-2.63zM43.86 43.86h7.79v2.63h-7.79zM54.18 43.86h2.63v2.63h-2.63zM77.40 43.86h2.63v2.63h-2.63zM46.44 46.44h2.63v2.63h-2.63zM54.18 46.44h2.63v2.63h-2.63zM61.92 46.44h5.21v2.63h-5.21zM110.94 46.44h5.21v2.63h-5.21zM118.68 46.44h2.63v2.63h-2.63zM12.90 49.02h2.63v2.63h-2.63zM25.80 49.02h2.63v2.63h-2.63zM38.70 49.02h5.21v2.63h-5.21zM95.46 49.02h5.21v2.63h-5.21zM121.26 49.02h2.63v2.63h-2.63zM7.74 51.60h2.63v2.63h-2.63zM12.90 51.60h2.63v2.63h-2.63zM49.02 51.60h5.21v2.63h-5.21zM61.92 51.60h2.63v2.63h-2.63zM69.66 51.60h2.63v2.63h-2.63zM92.88 51.60h2.63v2.63h-2.63zM12.90 54.18h2.63v2.63h-2.63zM54.18 54.18h2.63v2.63h-2.63zM67.08 54.18h5.21v2.63h-5.21zM74.82 54.18h2.63v2.63h-2.63zM82.56 54.18h2.63v2.63h-2.63zM2.58 56.76h2.63v2.63h-2.63zM30.96 56.76h2.63v2.63h-2.63zM51.60 56.76h2.63v2.63h-2.63zM79.98 56.76h2.63v2.63h-2.63zM5.16 59.34h5.21v2.63h-5.21zM87.72 59.34h2.63v2.63h-2.63zM121.26 59.34h2.63v2.63h-2.63zM5.16 61.92h2.63v2.63h-2.63zM10.32 61.92h2.63v2.63h-2.63zM59.34 61.92h2.63v2.63h-2.63zM64.50 61.92h2.63v2.63h-2.63zM69.66 61.92h7.79v2.63h-7.79zM92.88 61.92h2.63v2.63h-2.63zM121.26 61.92h2.63v2.63h-2.63zM10.32 64.50h2.63v2.63h-2.63zM36.12 64.50h5.21v2.63h-5.21zM49.02 64.50h2.63v2.63h-2.63zM92.88 64.50h2.63v2.63h-2.63zM118.68 64.50h2.63v2.63h-2.63zM123.84 64.50h2.63v2.63h-2.63zM0.00 67.08h5.21v2.63h-5.21zM10.32 67.08h2.63v2.63h-2.63zM36.12 67.08h2.63v2.63h-2.63zM46.44 67.08h2.63v2.63h-2.63zM59.34 67.08h5.21v2.63h-5.21zM82.56 67.08h2.63v2.63h-2.63zM5.16 69.66h5.21v2.63h-5.21zM28.38 69.66h2.63v2.63h-2.63zM38.70 69.66h2.63v2.63h-2.63zM46.44 69.66h2.63v2.63h-2.63zM72.24 69.66h2.63v2.63h-2.63zM90.30 69.66h5.21v2.63h-5.21zM108.36 69.66h2.63v2.63h-2.63zM123.84 69.66h2.63v2.63h-2.63zM56.76 72.24h2.63v2.63h-2.63zM69.66 72.24h2.63v2.63h-2.63zM49.02 74.82h2.63v2.63h-2.63zM59.34 74.82h2.63v2.63h-2.63zM67.08 74.82h5.21v2.63h-5.21zM82.56 74.82h2.63v2.63h-2.63zM95.46 74.82h2.63v2.63h-2.63zM108.36 74.82h2.63v2.63h-2.63zM23.22 77.40h5.21v2.63h-5.21zM72.24 77.40h2.63v2.63h-2.63zM85.14 77.40h2.63v2.63h-2.63zM118.68 77.40h2.63v2.63h-2.63zM28.38 79.98h2.63v2.63h-2.63zM41.28 79.98h2.63v2.63h-2.63zM54.18 79.98h2.63v2.63h-2.63zM59.34 79.98h2.63v2.63h-2.63zM64.50 79.98h2.63v2.63h-2.63zM98.04 79.98h2.63v2.63h-2.63zM118.68 79.98h2.63v2.63h-2.63zM18.06 82.56h2.63v2.63h-2.63zM69.66 82.56h2.63v2.63h-2.63zM82.56 82.56h5.21v2.63h-5.21zM90.30 82.56h2.63v2.63h-2.63zM118.68 82.56h2.63v2.63h-2.63zM69.66 85.14h2.63v2.63h-2.63zM82.56 85.14h2.63v2.63h-2.63zM95.46 85.14h2.63v2.63h-2.63zM103.20 85.14h5.21v2.63h-5.21zM121.26 85.14h2.63v2.63h-2.63zM126.42 85.14h2.63v2.63h-2.63zM5.16 87.72h2.63v2.63h-2.63zM59.34 87.72h2.63v2.63h-2.63zM108.36 87.72h2.63v2.63h-2.63zM123.84 87.72h2.63v2.63h-2.63zM5.16 90.30h2.63v2.63h-2.63zM64.50 90.30h2.63v2.63h-2.63zM74.82 90.30h2.63v2.63h-2.63zM98.04 90.30h2.63v2.63h-2.63zM118.68 90.30h2.63v2.63h-2.63zM25.80 92.88h2.63v2.63h-2.63zM110.94 92.88h2.63v2.63h-2.63zM10.32 95.46h2.63v2.63h-2.63zM15.48 95.46h5.21v2.63h-5.21zM92.88 95.46h2.63v2.63h-2.63zM123.84 95.46h5.21v2.63h-5.21zM123.84 98.04h2.63v2.63h-2.63zM0.00 100.62h2.63v2.63h-2.63zM18.06 100.62h2.63v2.63h-2.63zM23.22 100.62h2.63v2.63h-2.63zM41.28 100.62h2.63v2.63h-2.63zM98.04 100.62h2.63v2.63h-2.63zM0.00 103.20h2.63v2.63h-2.63zM20.64 103.20h2.63v2.63h-2.63zM28.38 103.20h2.63v2.63h-2.63zM85.14 103.20h2.63v2.63h-2.63zM95.46 103.20h2.63v2.63h-2.63zM126.42 103.20h2.63v2.63h-2.63zM0.00 105.78h2.63v2.63h-2.63zM5.16 105.78h2.63v2.63h-2.63zM12.90 105.78h2.63v2.63h-2.63zM61.92 105.78h2.63v2.63h-2.63zM72.24 105.78h2.63v2.63h-2.63zM79.98 105.78h2.63v2.63h-2.63zM98.04 105.78h2.63v2.63h-2.63zM118.68 105.78h2.63v2.63h-2.63zM126.42 105.78h2.63v2.63h-2.63zM7.74 108.36h2.63v2.63h-2.63zM18.06 108.36h2.63v2.63h-2.63zM41.28 108.36h2.63v2.63h-2.63zM61.92 108.36h2.63v2.63h-2.63zM79.98 108.36h2.63v2.63h-2.63zM87.72 108.36h2.63v2.63h-2.63zM126.42 108.36h2.63v2.63h-2.63zM12.90 110.94h2.63v2.63h-2.63zM61.92 110.94h5.21v2.63h-5.21zM79.98 110.94h2.63v2.63h-2.63zM85.14 110.94h2.63v2.63h-2.63zM100.62 110.94h2.63v2.63h-2.63zM118.68 110.94h2.63v2.63h-2.63zM64.50 113.52h2.63v2.63h-2.63zM95.46 113.52h2.63v2.63h-2.63zM121.26 113.52h2.63v2.63h-2.63zM15.48 116.10h2.63v2.63h-2.63zM110.94 116.10h2.63v2.63h-2.63zM43.86 118.68h2.63v2.63h-2.63zM74.82 118.68h2.63v2.63h-2.63zM79.98 118.68h10.37v2.63h-10.37zM100.62 118.68h2.63v2.63h-2.63zM113.52 118.68h5.21v2.63h-5.21zM126.42 118.68h2.63v2.63h-2.63zM67.08 121.26h2.63v2.63h-2.63zM110.94 121.26h2.63v2.63h-2.63zM12.90 123.84h2.63v2.63h-2.63zM85.14 123.84h2.63v2.63h-2.63zM10.32 126.42h2.63v2.63h-2.63zM79.98 126.42h2.63v2.63h-2.63z"/>
<path fill="#494949" d="M5.16 0.00h2.63v2.63h-2.63zM10.32 0.00h2.63v2.63h-2.63zM15.48 0.00h5.21v2.63h-5.21zM36.12 0.00h2.63v2.63h-2.63zM43.86 0.00h2.63v2.63h-2.63zM72.24 0.00h2.63v2.63h-2.63zM87.72 0.00h2.63v2.63h-2.63zM92.88 0.00h15.53v2.63h-15.53zM123.84 0.00h2.63v2.63h-2.63zM2.58 2.58h7.79v2.63h-7.79zM15.48 2.58h2.63v2.63h-2.63zM20.64 2.58h2.63v2.63h-2.63zM25.80 2.58h5.21v2.63h-5.21zM38.70 2.58h2.63v2.63h-2.63zM46.44 2.58h10.37v2.63h-10.37zM61.92 2.58h2.63v2.63h-2.63zM74.82 2.58h2.63v2.63h-2.63zM85.14 2.58h2.63v2.63h-2.63zM90.30 2.58h2.63v2.63h-2.63zM95.46 2.58h5.21v2.63h-5.21zM103.20 2.58h2.63v2.63h-2.63zM113.52 2.58h5.21v2.63h-5.21zM0.00 5.16h2.63v2.63h-2.63zM7.74 5.16h2.63v2.63h-2.63zM28.38 5.16h2.63v2.63h-2.63zM36.12 5.16h2.63v2.63h-2.63zM59.34 5.16h2.63v2.63h-2.63zM69.66 5.16h5.21v2.63h-5.21zM87.72 5.16h2.63v2.63h-2.63zM95.46 5.16h2.63v2.63h-2.63zM100.62 5.16h2.63v2.63h-2.63zM105.78 5.16h2.63v2.63h-2.63zM110.94 5.16h5.21v2.63h-5.21zM123.84 5.16h2.63v2.63h-2.63zM2.58 7.74h2.63v2.63h-2.63zM46.44 7.74h12.95v2.63h-12.95zM64.50 7.74h2.63v2.63h-2.63zM72.24 7.74h5.21v2.63h-5.21zM82.56 7.74h2.63v2.63h-2.63zM92.88 7.74h5.21v2.63h-5.21zM100.62 7.74h5.21v2.63h-5.21zM113.52 7.74h15.53v2.63h-15.53zM10.32 10.32h2.63v2.63h-2.63zM15.48 10.32h2.63v2.63h-2.63zM25.80 10.32h2.63v2.63h-2.63zM30.96 10.32h5.21v2.63h-5.21zM38.70 10.32h5.21v2.63h-5.21zM51.60 10.32h7.79v2.63h-7.79zM69.66 10.32h5.21v2.63h-5.21zM95.46 10.32h2.63v2.63h-2.63zM105.78 10.32h10.37v2.63h-10.37zM118.68 10.32h2.63v2.63h-2.63zM123.84 10.32h2.63v2.63h-2.63zM5.16 12.90h2.63v2.63h-2.63zM15.48 12.90h2.63v2.63h-2.63zM20.64 12.90h2.63v2.63h-2.63zM33.54 12.90h5.21v2.63h-5.21zM46.44 12.90h2.63v2.63h-2.63zM67.08 12.90h5.21v2.63h-5.21zM74.82 12.90h7.79v2.63h-7.79zM92.88 12.90h2.63v2.63h-2.63zM103.20 12.90h2.63v2.63h-2.63zM116.10 12.90h2.63v2.63h-2.63zM121.26 12.90h7.79v2.63h-7.79zM5.16 15.48h2.63v2.63h-2.63zM15.48 15.48h5.21v2.63h-5.21zM23.22 15.48h5.21v2.63h-5.21zM33.54 15.48h2.63v2.63h-2.63zM38.70 15.48h5.21v2.63h-5.21zM46.44 15.48h2.63v2.63h-2.63zM54.18 15.48h5.21v2.63h-5.21zM61.92 15.48h2.63v2.63h-2.63zM85.14 15.48h2.63v2.63h-2.63zM90.30 15.48h2.63v2.63h-2.63zM103.20 15.48h2.63v2.63h-2.63zM110.94 15.48h5.21v2.63h-5.21zM123.84 15.48h2.63v2.63h-2.63zM36.12 18.06h5.21v2.63h-5.21zM49.02 18.06h2.63v2.63h-2.63zM54.18 18.06h2.63v2.63h-2.63zM61.92 18.06h12.95v2.63h-12.95zM77.40 18.06h2.63v2.63h-2.63zM82.56 18.06h5.21v2.63h-5.21zM90.30 18.06h2.63v2.63h-2.63zM95.46 18.06h7.79v2.63h-7.79zM105.78 18.06h7.79v2.63h-7.79zM121.26 18.06h5.21v2.63h-5.21zM2.58 20.64h2.63v2.63h-2.63zM12.90 20.64h5.21v2.63h-5.21zM23.22 20.64h5.21v2.63h-5.21zM33.54 20.64h2.63v2.63h-2.63zM41.28 20.64h2.63v2.63h-2.63zM46.44 20.64h2.63v2.63h-2.63zM54.18 20.64h2.63v2.63h-2.63zM87.72 20.64h7.79v2.63h-7.79zM110.94 20.64h5.21v2.63h-5.21zM121.26 20.64h5.21v2.63h-5.21zM0.00 23.22h7.79v2.63h-7.79zM20.64 23.22h5.21v2.63h-5.21zM49.02 23.22h2.63v2.63h-2.63zM56.76 23.22h2.63v2.63h-2.63zM61.92 23.22h5.21v2.63h-5.21zM69.66 23.22h2.63v2.63h-2.63zM74.82 23.22h5.21v2.63h-5.21zM87.72 23.22h2.63v2.63h-2.63zM95.46 23.22h2.63v2.63h-2.63zM105.78 23.22h2.63v2.63h-2.63zM110.94 23.22h2.63v2.63h-2.63zM118.68 23.22h2.63v2.63h-2.63zM123.84 23.22h2.63v2.63h-2.63zM7.74 25.80h2.63v2.63h-2.63zM25.80 25.80h5.21v2.63h-5.21zM38.70 25.80h2.63v2.63h-2.63zM46.44 25.80h5.21v2.63h-5.21zM59.34 25.80h2.63v2.63h-2.63zM67.08 25.80h5.21v2.63h-5.21zM74.82 25.80h2.63v2.63h-2.63zM87.72 25.80h5.21v2.63h-5.21zM100.62 25.80h2.63v2.63h-2.63zM108.36 25.80h5.21v2.63h-5.21zM116.10 25.80h2.63v2.63h-2.63zM123.84 25.80h5.21v2.63h-5.21zM12.90 28.38h2.63v2.63h-2.63zM28.38 28.38h7.79v2.63h-7.79zM51.60 28.38h5.21v2.63h-5.21zM72.24 28.38h2.63v2.63h-2.63zM77.40 28.38h2.63v2.63h-2.63zM87.72 28.38h2.63v2.63h-2.63zM103.20 28.38h2.63v2.63h-2.63zM116.10 28.38h2.63v2.63h-2.63zM0.00 30.96h5.21v2.63h-5.21zM10.32 30.96h2.63v2.63h-2.63zM25.80 30.96h2.63v2.63h-2.63zM36.12 30.96h5.21v2.63h-5.21zM43.86 30.96h5.21v2.63h-5.21zM56.76 30.96h5.21v2.63h-5.21zM69.66 30.96h5.21v2.63h-5.21zM82.56 30.96h5.21v2.63h-5.21zM121.26 30.96h5.21v2.63h-5.21zM0.00 33.54h5.21v2.63h-5.21zM15.48 33.54h5.21v2.63h-5.21zM28.38 33.54h2.63v2.63h-2.63zM41.28 33.54h5.21v2.63h-5.21zM49.02 33.54h2.63v2.63h-2.63zM61.92 33.54h5.21v2.63h-5.21zM72.24 33.54h2.63v2.63h-2.63zM79.98 33.54h2.63v2.63h-2.63zM90.30 33.54h2.63v2.63h-2.63zM108.36 33.54h2.63v2.63h-2.63zM118.68 33.54h5.21v2.63h-5.21zM0.00 36.12h10.37v2.63h-10.37zM23.22 36.12h2.63v2.63h-2.63zM38.70 36.12h2.63v2.63h-2.63zM43.86 36.12h2.63v2.63h-2.63zM51.60 36.12h2.63v2.63h-2.63zM56.76 36.12h5.21v2.63h-5.21zM72.24 36.12h2.63v2.63h-2.63zM77.40 36.12h5.21v2.63h-5.21zM85.14 36.12h7.79v2.63h-7.79zM95.46 36.12h2.63v2.63h-2.63zM121.26 36.12h5.21v2.63h-5.21zM7.74 38.70h10.37v2.63h-10.37zM20.64 38.70h2.63v2.63h-2.63zM28.38 38.70h10.37v2.63h-10.37zM43.86 38.70h5.21v2.63h-5.21zM54.18 38.70h5.21v2.63h-5.21zM61.92 38.70h2.63v2.63h-2.63zM72.24 38.70h2.63v2.63h-2.63zM82.56 38.70h5.21v2.63h-5.21zM90.30 38.70h2.63v2.63h-2.63zM100.62 38.70h2.63v2.63h-2.63zM113.52 38.70h5.21v2.63h-5.21zM126.42 38.70h2.63v2.63h-2.63zM5.16 41.28h2.63v2.63h-2.63zM18.06 41.28h10.37v2.63h-10.37zM38.70 41.28h2.63v2.63h-2.63zM49.02 41.28h5.21v2.63h-5.21zM56.76 41.28h2.63v2.63h-2.63zM64.50 41.28h2.63v2.63h-2.63zM74.82 41.28h10.37v2.63h-10.37zM87.72 41.28h2.63v2.63h-2.63zM95.46 41.28h2.63v2.63h-2.63zM121.26 41.28h2.63v2.63h-2.63zM0.00 43.86h2.63v2.63h-2.63zM7.74 43.86h5.21v2.63h-5.21zM15.48 43.86h2.63v2.63h-2.63zM20.64 43.86h2.63v2.63h-2.63zM25.80 43.86h10.37v2.63h-10.37zM56.76 43.86h15.53v2.63h-15.53zM79.98 43.86h10.37v2.63h-10.37zM98.04 43.86h2.63v2.63h-2.63zM103.20 43.86h2.63v2.63h-2.63zM113.52 43.86h2.63v2.63h-2.63zM123.84 43.86h2.63v2.63h-2.63zM0.00 46.44h2.63v2.63h-2.63zM5.16 46.44h2.63v2.63h-2.63zM10.32 46.44h5.21v2.63h-5.21zM20.64 46.44h2.63v2.63h-2.63zM30.96 46.44h2.63v2.63h-2.63zM49.02 46.44h5.21v2.63h-5.21zM56.76 46.44h2.63v2.63h-2.63zM69.66 46.44h5.21v2.63h-5.21zM85.14 46.44h2.63v2.63h-2.63zM92.88 46.44h7.79v2.63h-7.79zM116.10 46.44h2.63v2.63h-2.63zM126.42 46.44h2.63v2.63h-2.63zM2.58 49.02h2.63v2.63h-2.63zM20.64 49.02h2.63v2.63h-2.63zM33.54 49.02h2.63v2.63h-2.63zM43.86 49.02h2.63v2.63h-2.63zM54.18 49.02h2.63v2.63h-2.63zM64.50 49.02h7.79v2.63h-7.79zM77.40 49.02h10.37v2.63h-10.37zM90.30 49.02h2.63v2.63h-2.63zM108.36 49.02h2.63v2.63h-2.63zM116.10 49.02h2.63v2.63h-2.63zM5.16 51.60h2.63v2.63h-2.63zM10.32 51.60h2.63v2.63h-2.63zM23.22 51.60h7.79v2.63h-7.79zM33.54 51.60h2.63v2.63h-2.63zM67.08 51.60h2.63v2.63h-2.63zM82.56 51.60h7.79v2.63h-7.79zM95.46 51.60h2.63v2.63h-2.63zM116.10 51.60h2.63v2.63h-2.63zM121.26 51.60h2.63v2.63h-2.63zM126.42 51.60h2.63v2.63h-2.63zM5.16 54.18h2.63v2.63h-2.63zM10.32 54.18h2.63v2.63h-2.63zM23.22 54.18h2.63v2.63h-2.63zM36.12 54.18h2.63v2.63h-2.63zM51.60 54.18h2.63v2.63h-2.63zM56.76 54.18h2.63v2.63h-2.63zM87.72 54.18h2.63v2.63h-2.63zM92.88 54.18h2.63v2.63h-2.63zM108.36 54.18h2.63v2.63h-2.63zM116.10 54.18h2.63v2.63h-2.63zM121.26 54.18h2.63v2.63h-2.63zM126.42 54.18h2.63v2.63h-2.63zM5.16 56.76h7.79v2.63h-7.79zM23.22 56.76h2.63v2.63h-2.63zM33.54 56.76h2.63v2.63h-2.63zM46.44 56.76h5.21v2.63h-5.21zM56.76 56.76h7.79v2.63h-7.79zM67.08 56.76h5.21v2.63h-5.21zM82.56 56.76h2.63v2.63h-2.63zM90.30 56.76h2.63v2.63h-2.63zM105.78 56.76h7.79v2.63h-7.79zM116.10 56.76h10.37v2.63h-10.37zM12.90 59.34h2.63v2.63h-2.63zM28.38 59.34h7.79v2.63h-7.79zM38.70 59.34h2.63v2.63h-2.63zM54.18 59.34h2.63v2.63h-2.63zM59.34 59.34h2.63v2.63h-2.63zM72.24 59.34h2.63v2.63h-2.63zM90.30 59.34h5.21v2.63h-5.21zM108.36 59.34h5.21v2.63h-5.21zM116.10 59.34h2.63v2.63h-2.63zM123.84 59.34h2.63v2.63h-2.63zM2.58 61.92h2.63v2.63h-2.63zM12.90 61.92h7.79v2.63h-7.79zM23.22 61.92h7.79v2.63h-7.79zM36.12 61.92h7.79v2.63h-7.79zM46.44 61.92h7.79v2.63h-7.79zM56.76 61.92h2.63v2.63h-2.63zM61.92 61.92h2.63v2.63h-2.63zM87.72 61.92h5.21v2.63h-5.21zM95.46 61.92h5.21v2.63h-5.21zM116.10 61.92h2.63v2.63h-2.63zM18.06 64.50h2.63v2.63h-2.63zM23.22 64.50h2.63v2.63h-2.63zM28.38 64.50h2.63v2.63h-2.63zM33.54 64.50h2.63v2.63h-2.63zM46.44 64.50h2.63v2.63h-2.63zM51.60 64.50h15.53v2.63h-15.53zM72.24 64.50h7.79v2.63h-7.79zM98.04 64.50h2.63v2.63h-2.63zM5.16 67.08h2.63v2.63h-2.63zM18.06 67.08h2.63v2.63h-2.63zM33.54 67.08h2.63v2.63h-2.63zM38.70 67.08h2.63v2.63h-2.63zM43.86 67.08h2.63v2.63h-2.63zM56.76 67.08h2.63v2.63h-2.63zM64.50 67.08h7.79v2.63h-7.79zM74.82 67.08h5.21v2.63h-5.21zM85.14 67.08h5.21v2.63h-5.21zM92.88 67.08h7.79v2.63h-7.79zM105.78 67.08h2.63v2.63h-2.63zM116.10 67.08h10.37v2.63h-10.37zM18.06 69.66h5.21v2.63h-5.21zM30.96 69.66h5.21v2.63h-5.21zM54.18 69.66h2.63v2.63h-2.63zM69.66 69.66h2.63v2.63h-2.63zM82.56 69.66h2.63v2.63h-2.63zM95.46 69.66h2.63v2.63h-2.63zM100.62 69.66h7.79v2.63h-7.79zM110.94 69.66h2.63v2.63h-2.63zM116.10 69.66h5.21v2.63h-5.21zM15.48 72.24h2.63v2.63h-2.63zM25.80 72.24h5.21v2.63h-5.21zM51.60 72.24h2.63v2.63h-2.63zM72.24 72.24h2.63v2.63h-2.63zM79.98 72.24h2.63v2.63h-2.63zM100.62 72.24h2.63v2.63h-2.63zM105.78 72.24h2.63v2.63h-2.63zM110.94 72.24h2.63v2.63h-2.63zM121.26 72.24h7.79v2.63h-7.79zM0.00 74.82h5.21v2.63h-5.21zM10.32 74.82h15.53v2.63h-15.53zM28.38 74.82h2.63v2.63h-2.63zM41.28 74.82h2.63v2.63h-2.63zM56.76 74.82h2.63v2.63h-2.63zM61.92 74.82h2.63v2.63h-2.63zM74.82 74.82h5.21v2.63h-5.21zM100.62 74.82h2.63v2.63h-2.63zM105.78 74.82h2.63v2.63h-2.63zM110.94 74.82h2.63v2.63h-2.63zM126.42 74.82h2.63v2.63h-2.63zM0.00 77.40h2.63v2.63h-2.63zM12.90 77.40h2.63v2.63h-2.63zM18.06 77.40h2.63v2.63h-2.63zM30.96 77.40h2.63v2.63h-2.63zM41.28 77.40h5.21v2.63h-5.21zM49.02 77.40h2.63v2.63h-2.63zM56.76 77.40h2.63v2.63h-2.63zM67.08 77.40h2.63v2.63h-2.63zM79.98 77.40h2.63v2.63h-2.63zM87.72 77.40h10.37v2.63h-10.37zM108.36 77.40h2.63v2.63h-2.63zM113.52 77.40h5.21v2.63h-5.21zM20.64 79.98h7.79v2.63h-7.79zM30.96 79.98h2.63v2.63h-2.63zM51.60 79.98h2.63v2.63h-2.63zM67.08 79.98h2.63v2.63h-2.63zM72.24 79.98h5.21v2.63h-5.21zM79.98 79.98h5.21v2.63h-5.21zM95.46 79.98h2.63v2.63h-2.63zM103.20 79.98h7.79v2.63h-7.79zM113.52 79.98h2.63v2.63h-2.63zM121.26 79.98h5.21v2.63h-5.21zM7.74 82.56h5.21v2.63h-5.21zM20.64 82.56h7.79v2.63h-7.79zM46.44 82.56h2.63v2.63h-2.63zM59.34 82.56h2.63v2.63h-2.63zM64.50 82.56h2.63v2.63h-2.63zM72.24 82.56h5.21v2.63h-5.21zM92.88 82.56h2.63v2.63h-2.63zM103.20 82.56h7.79v2.63h-7.79zM113.52 82.56h2.63v2.63h-2.63zM121.26 82.56h5.21v2.63h-5.21zM12.90 85.14h5.21v2.63h-5.21zM20.64 85.14h2.63v2.63h-2.63zM41.28 85.14h2.63v2.63h-2.63zM54.18 85.14h2.63v2.63h-2.63zM61.92 85.14h5.21v2.63h-5.21zM85.14 85.14h2.63v2.63h-2.63zM92.88 85.14h2.63v2.63h-2.63zM108.36 85.14h2.63v2.63h-2.63zM118.68 85.14h2.63v2.63h-2.63zM123.84 85.14h2.63v2.63h-2.63zM18.06 87.72h12.95v2.63h-12.95zM56.76 87.72h2.63v2.63h-2.63zM61.92 87.72h2.63v2.63h-2.63zM69.66 87.72h2.63v2.63h-2.63zM77.40 87.72h7.79v2.63h-7.79zM95.46 87.72h5.21v2.63h-5.21zM103.20 87.72h2.63v2.63h-2.63zM110.94 87.72h5.21v2.63h-5.21zM126.42 87.72h2.63v2.63h-2.63zM0.00 90.30h2.63v2.63h-2.63zM10.32 90.30h12.95v2.63h-12.95zM28.38 90.30h2.63v2.63h-2.63zM41.28 90.30h7.79v2.63h-7.79zM54.18 90.30h5.21v2.63h-5.21zM61.92 90.30h2.63v2.63h-2.63zM67.08 90.30h2.63v2.63h-2.63zM72.24 90.30h2.63v2.63h-2.63zM77.40 90.30h10.37v2.63h-10.37zM95.46 90.30h2.63v2.63h-2.63zM108.36 90.30h2.63v2.63h-2.63zM0.00 92.88h2.63v2.63h-2.63zM7.74 92.88h5.21v2.63h-5.21zM18.06 92.88h2.63v2.63h-2.63zM43.86 92.88h2.63v2.63h-2.63zM59.34 92.88h2.63v2.63h-2.63zM64.50 92.88h2.63v2.63h-2.63zM72.24 92.88h7.79v2.63h-7.79zM87.72 92.88h2.63v2.63h-2.63zM92.88 92.88h12.95v2.63h-12.95zM113.52 92.88h2.63v2.63h-2.63zM123.84 92.88h2.63v2.63h-2.63zM0.00 95.46h2.63v2.63h-2.63zM7.74 95.46h2.63v2.63h-2.63zM49.02 95.46h2.63v2.63h-2.63zM56.76 95.46h5.21v2.63h-5.21zM79.98 95.46h5.21v2.63h-5.21zM98.04 95.46h2.63v2.63h-2.63zM103.20 95.46h2.63v2.63h-2.63zM113.52 95.46h10.37v2.63h-10.37zM2.58 98.04h2.63v2.63h-2.63zM7.74 98.04h2.63v2.63h-2.63zM12.90 98.04h2.63v2.63h-2.63zM43.86 98.04h2.63v2.63h-2.63zM49.02 98.04h5.21v2.63h-5.21zM67.08 98.04h2.63v2.63h-2.63zM74.82 98.04h2.63v2.63h-2.63zM79.98 98.04h2.63v2.63h-2.63zM87.72 98.04h2.63v2.63h-2.63zM100.62 98.04h2.63v2.63h-2.63zM105.78 98.04h2.63v2.63h-2.63zM110.94 98.04h7.79v2.63h-7.79zM126.42 98.04h2.63v2.63h-2.63zM2.58 100.62h5.21v2.63h-5.21zM15.48 100.62h2.63v2.63h-2.63zM20.64 100.62h2.63v2.63h-2.63zM25.80 100.62h2.63v2.63h-2.63zM43.86 100.62h2.63v2.63h-2.63zM54.18 100.62h2.63v2.63h-2.63zM69.66 100.62h2.63v2.63h-2.63zM74.82 100.62h2.63v2.63h-2.63zM82.56 100.62h2.63v2.63h-2.63zM95.46 100.62h2.63v2.63h-2.63zM105.78 100.62h2.63v2.63h-2.63zM123.84 100.62h2.63v2.63h-2.63zM5.16 103.20h2.63v2.63h-2.63zM10.32 103.20h2.63v2.63h-2.63zM25.80 103.20h2.63v2.63h-2.63zM38.70 103.20h2.63v2.63h-2.63zM46.44 103.20h7.79v2.63h-7.79zM56.76 103.20h2.63v2.63h-2.63zM64.50 103.20h2.63v2.63h-2.63zM74.82 103.20h2.63v2.63h-2.63zM79.98 103.20h2.63v2.63h-2.63zM87.72 103.20h5.21v2.63h-5.21zM105.78 103.20h2.63v2.63h-2.63zM121.26 103.20h5.21v2.63h-5.21zM2.58 105.78h2.63v2.63h-2.63zM36.12 105.78h2.63v2.63h-2.63zM43.86 105.78h2.63v2.63h-2.63zM49.02 105.78h5.21v2.63h-5.21zM59.34 105.78h2.63v2.63h-2.63zM67.08 105.78h2.63v2.63h-2.63zM74.82 105.78h5.21v2.63h-5.21zM103.20 105.78h5.21v2.63h-5.21zM113.52 105.78h5.21v2.63h-5.21zM121.26 105.78h2.63v2.63h-2.63zM2.58 108.36h2.63v2.63h-2.63zM15.48 108.36h2.63v2.63h-2.63zM20.64 108.36h2.63v2.63h-2.63zM43.86 108.36h7.79v2.63h-7.79zM56.76 108.36h2.63v2.63h-2.63zM69.66 108.36h5.21v2.63h-5.21zM103.20 108.36h2.63v2.63h-2.63zM113.52 108.36h5.21v2.63h-5.21zM10.32 110.94h2.63v2.63h-2.63zM20.64 110.94h2.63v2.63h-2.63zM41.28 110.94h7.79v2.63h-7.79zM59.34 110.94h2.63v2.63h-2.63zM67.08 110.94h2.63v2.63h-2.63zM72.24 110.94h2.63v2.63h-2.63zM87.72 110.94h5.21v2.63h-5.21zM105.78 110.94h5.21v2.63h-5.21zM123.84 110.94h5.21v2.63h-5.21zM18.06 113.52h5.21v2.63h-5.21zM43.86 113.52h2.63v2.63h-2.63zM49.02 113.52h5.21v2.63h-5.21zM61.92 113.52h2.63v2.63h-2.63zM67.08 113.52h5.21v2.63h-5.21zM77.40 113.52h5.21v2.63h-5.21zM92.88 113.52h2.63v2.63h-2.63zM98.04 113.52h5.21v2.63h-5.21zM105.78 113.52h5.21v2.63h-5.21zM113.52 113.52h2.63v2.63h-2.63zM123.84 113.52h2.63v2.63h-2.63zM10.32 116.10h2.63v2.63h-2.63zM43.86 116.10h2.63v2.63h-2.63zM54.18 116.10h2.63v2.63h-2.63zM64.50 116.10h2.63v2.63h-2.63zM72.24 116.10h2.63v2.63h-2.63zM79.98 116.10h2.63v2.63h-2.63zM85.14 116.10h2.63v2.63h-2.63zM90.30 116.10h2.63v2.63h-2.63zM103.20 116.10h2.63v2.63h-2.63zM113.52 116.10h2.63v2.63h-2.63zM10.32 118.68h2.63v2.63h-2.63zM15.48 118.68h5.21v2.63h-5.21zM41.28 118.68h2.63v2.63h-2.63zM46.44 118.68h2.63v2.63h-2.63zM56.76 118.68h7.79v2.63h-7.79zM67.08 118.68h5.21v2.63h-5.21zM77.40 118.68h2.63v2.63h-2.63zM90.30 118.68h2.63v2.63h-2.63zM95.46 118.68h2.63v2.63h-2.63zM103.20 118.68h2.63v2.63h-2.63zM110.94 118.68h2.63v2.63h-2.63zM118.68 118.68h2.63v2.63h-2.63zM123.84 118.68h2.63v2.63h-2.63zM10.32 121.26h2.63v2.63h-2.63zM46.44 121.26h5.21v2.63h-5.21zM61.92 121.26h5.21v2.63h-5.21zM92.88 121.26h2.63v2.63h-2.63zM98.04 121.26h5.21v2.63h-5.21zM105.78 121.26h2.63v2.63h-2.63zM121.26 121.26h5.21v2.63h-5.21zM10.32 123.84h2.63v2.63h-2.63zM18.06 123.84h2.63v2.63h-2.63zM41.28 123.84h2.63v2.63h-2.63zM51.60 123.84h2.63v2.63h-2.63zM59.34 123.84h10.37v2.63h-10.37zM90.30 123.84h2.63v2.63h-2.63zM95.46 123.84h2.63v2.63h-2.63zM113.52 123.84h7.79v2.63h-7.79zM15.48 126.42h2.63v2.63h-2.63zM43.86 126.42h5.21v2.63h-5.21zM54.18 126.42h5.21v2.63h-5.21zM64.50 126.42h12.95v2.63h-12.95zM85.14 126.42h2.63v2.63h-2.63zM103.20 126.42h2.63v2.63h-2.63zM113.52 126.42h2.63v2.63h-2.63zM121.26 126.42h2.63v2.63h-2.63zM126.42 126.42h2.63v2.63h-2.63z"/>
<path fill="#565656" d="M28.38 0.00h5.21v2.63h-5.21zM67.08 0.00h5.21v2.63h-5.21zM74.82 0.00h7.79v2.63h-7.79zM90.30 0.00h2.63v2.63h-2.63zM110.94 0.00h5.21v2.63h-5.21zM18.06 2.58h2.63v2.63h-2.63zM72.24 2.58h2.63v2.63h-2.63zM77.40 2.58h2.63v2.63h-2.63zM87.72 2.58h2.63v2.63h-2.63zM92.88 2.58h2.63v2.63h-2.63zM110.94 2.58h2.63v2.63h-2.63zM12.90 5.16h2.63v2.63h-2.63zM18.06 5.16h2.63v2.63h-2.63zM54.18 5.16h2.63v2.63h-2.63zM74.82 5.16h2.63v2.63h-2.63zM85.14 5.16h2.63v2.63h-2.63zM92.88 5.16h2.63v2.63h-2.63zM118.68 5.16h2.63v2.63h-2.63zM5.16 7.74h2.63v2.63h-2.63zM12.90 7.74h5.21v2.63h-5.21zM20.64 7.74h2.63v2.63h-2.63zM33.54 7.74h2.63v2.63h-2.63zM105.78 7.74h2.63v2.63h-2.63zM0.00 10.32h2.63v2.63h-2.63zM12.90 10.32h2.63v2.63h-2.63zM23.22 10.32h2.63v2.63h-2.63zM36.12 10.32h2.63v2.63h-2.63zM59.34 10.32h2.63v2.63h-2.63zM64.50 10.32h5.21v2.63h-5.21zM79.98 10.32h2.63v2.63h-2.63zM87.72 10.32h2.63v2.63h-2.63zM92.88 10.32h2.63v2.63h-2.63zM103.20 10.32h2.63v2.63h-2.63zM121.26 10.32h2.63v2.63h-2.63zM126.42 10.32h2.63v2.63h-2.63zM0.00 12.90h2.63v2.63h-2.63zM7.74 12.90h2.63v2.63h-2.63zM51.60 12.90h2.63v2.63h-2.63zM56.76 12.90h2.63v2.63h-2.63zM82.56 12.90h2.63v2.63h-2.63zM95.46 12.90h2.63v2.63h-2.63zM105.78 12.90h5.21v2.63h-5.21zM113.52 12.90h2.63v2.63h-2.63zM118.68 12.90h2.63v2.63h-2.63zM30.96 15.48h2.63v2.63h-2.63zM43.86 15.48h2.63v2.63h-2.63zM49.02 15.48h2.63v2.63h-2.63zM64.50 15.48h2.63v2.63h-2.63zM69.66 15.48h2.63v2.63h-2.63zM74.82 15.48h2.63v2.63h-2.63zM82.56 15.48h2.63v2.63h-2.63zM105.78 15.48h5.21v2.63h-5.21zM116.10 15.48h5.21v2.63h-5.21zM126.42 15.48h2.63v2.63h-2.63zM2.58 18.06h2.63v2.63h-2.63zM12.90 18.06h2.63v2.63h-2.63zM28.38 18.06h2.63v2.63h-2.63zM59.34 18.06h2.63v2.63h-2.63zM92.88 18.06h2.63v2.63h-2.63zM103.20 18.06h2.63v2.63h-2.63zM116.10 18.06h5.21v2.63h-5.21zM126.42 18.06h2.63v2.63h-2.63zM0.00 20.64h2.63v2.63h-2.63zM5.16 20.64h5.21v2.63h-5.21zM20.64 20.64h2.63v2.63h-2.63zM38.70 20.64h2.63v2.63h-2.63zM56.76 20.64h5.21v2.63h-5.21zM67.08 20.64h2.63v2.63h-2.63zM98.04 20.64h2.63v2.63h-2.63zM103.20 20.64h5.21v2.63h-5.21zM116.10 20.64h5.21v2.63h-5.21zM10.32 23.22h2.63v2.63h-2.63zM33.54 23.22h2.63v2.63h-2.63zM38.70 23.22h7.79v2.63h-7.79zM54.18 23.22h2.63v2.63h-2.63zM67.08 23.22h2.63v2.63h-2.63zM100.62 23.22h2.63v2.63h-2.63zM108.36 23.22h2.63v2.63h-2.63zM126.42 23.22h2.63v2.63h-2.63zM10.32 25.80h2.63v2.63h-2.63zM20.64 25.80h2.63v2.63h-2.63zM30.96 25.80h2.63v2.63h-2.63zM41.28 25.80h2.63v2.63h-2.63zM77.40 25.80h2.63v2.63h-2.63zM105.78 25.80h2.63v2.63h-2.63zM113.52 25.80h2.63v2.63h-2.63zM18.06 28.38h2.63v2.63h-2.63zM38.70 28.38h2.63v2.63h-2.63zM79.98 28.38h5.21v2.63h-5.21zM105.78 28.38h2.63v2.63h-2.63zM118.68 28.38h2.63v2.63h-2.63zM123.84 28.38h2.63v2.63h-2.63zM28.38 30.96h5.21v2.63h-5.21zM51.60 30.96h2.63v2.63h-2.63zM77.40 30.96h2.63v2.63h-2.63zM103.20 30.96h2.63v2.63h-2.63zM116.10 30.96h2.63v2.63h-2.63zM20.64 33.54h2.63v2.63h-2.63zM25.80 33.54h2.63v2.63h-2.63zM69.66 33.54h2.63v2.63h-2.63zM77.40 33.54h2.63v2.63h-2.63zM92.88 33.54h2.63v2.63h-2.63zM100.62 33.54h7.79v2.63h-7.79zM123.84 33.54h5.21v2.63h-5.21zM10.32 36.12h2.63v2.63h-2.63zM25.80 36.12h7.79v2.63h-7.79zM64.50 36.12h5.21v2.63h-5.21zM74.82 36.12h2.63v2.63h-2.63zM103.20 36.12h10.37v2.63h-10.37zM116.10 36.12h5.21v2.63h-5.21zM126.42 36.12h2.63v2.63h-2.63zM25.80 38.70h2.63v2.63h-2.63zM59.34 38.70h2.63v2.63h-2.63zM64.50 38.70h2.63v2.63h-2.63zM69.66 38.70h2.63v2.63h-2.63zM87.72 38.70h2.63v2.63h-2.63zM7.74 41.28h5.21v2.63h-5.21zM28.38 41.28h2.63v2.63h-2.63zM59.34 41.28h2.63v2.63h-2.63zM67.08 41.28h5.21v2.63h-5.21zM103.20 41.28h5.21v2.63h-5.21zM113.52 41.28h2.63v2.63h-2.63zM118.68 41.28h2.63v2.63h-2.63zM18.06 43.86h2.63v2.63h-2.63zM23.22 43.86h2.63v2.63h-2.63zM51.60 43.86h2.63v2.63h-2.63zM72.24 43.86h2.63v2.63h-2.63zM90.30 43.86h2.63v2.63h-2.63zM118.68 43.86h2.63v2.63h-2.63zM2.58 46.44h2.63v2.63h-2.63zM28.38 46.44h2.63v2.63h-2.63zM33.54 46.44h2.63v2.63h-2.63zM41.28 46.44h2.63v2.63h-2.63zM59.34 46.44h2.63v2.63h-2.63zM74.82 46.44h2.63v2.63h-2.63zM79.98 46.44h5.21v2.63h-5.21zM23.22 49.02h2.63v2.63h-2.63zM36.12 49.02h2.63v2.63h-2.63zM0.00 51.60h2.63v2.63h-2.63zM15.48 51.60h5.21v2.63h-5.21zM36.12 51.60h2.63v2.63h-2.63zM41.28 51.60h5.21v2.63h-5.21zM77.40 51.60h2.63v2.63h-2.63zM90.30 51.60h2.63v2.63h-2.63zM105.78 51.60h2.63v2.63h-2.63zM110.94 51.60h5.21v2.63h-5.21zM123.84 51.60h2.63v2.63h-2.63zM2.58 54.18h2.63v2.63h-2.63zM18.06 54.18h2.63v2.63h-2.63zM25.80 54.18h5.21v2.63h-5.21zM38.70 54.18h2.63v2.63h-2.63zM43.86 54.18h7.79v2.63h-7.79zM59.34 54.18h5.21v2.63h-5.21zM90.30 54.18h2.63v2.63h-2.63zM105.78 54.18h2.63v2.63h-2.63zM110.94 54.18h5.21v2.63h-5.21zM118.68 54.18h2.63v2.63h-2.63zM123.84 54.18h2.63v2.63h-2.63zM15.48 56.76h5.21v2.63h-5.21zM28.38 56.76h2.63v2.63h-2.63zM36.12 56.76h5.21v2.63h-5.21zM43.86 56.76h2.63v2.63h-2.63zM85.14 56.76h2.63v2.63h-2.63zM103.20 56.76h2.63v2.63h-2.63zM113.52 56.76h2.63v2.63h-2.63zM126.42 56.76h2.63v2.63h-2.63zM15.48 59.34h5.21v2.63h-5.21zM25.80 59.34h2.63v2.63h-2.63zM41.28 59.34h5.21v2.63h-5.21zM49.02 59.34h2.63v2.63h-2.63zM61.92 59.34h5.21v2.63h-5.21zM103.20 59.34h5.21v2.63h-5.21zM113.52 59.34h2.63v2.63h-2.63zM118.68 59.34h2.63v2.63h-2.63zM126.42 59.34h2.63v2.63h-2.63zM33.54 61.92h2.63v2.63h-2.63zM43.86 61.92h2.63v2.63h-2.63zM82.56 61.92h2.63v2.63h-2.63zM103.20 61.92h5.21v2.63h-5.21zM110.94 61.92h2.63v2.63h-2.63zM12.90 64.50h2.63v2.63h-2.63zM20.64 64.50h2.63v2.63h-2.63zM30.96 64.50h2.63v2.63h-2.63zM43.86 64.50h2.63v2.63h-2.63zM69.66 64.50h2.63v2.63h-2.63zM79.98 64.50h5.21v2.63h-5.21zM87.72 64.50h2.63v2.63h-2.63zM95.46 64.50h2.63v2.63h-2.63zM100.62 64.50h5.21v2.63h-5.21zM108.36 64.50h2.63v2.63h-2.63zM20.64 67.08h2.63v2.63h-2.63zM28.38 67.08h2.63v2.63h-2.63zM100.62 67.08h2.63v2.63h-2.63zM113.52 67.08h2.63v2.63h-2.63zM10.32 69.66h2.63v2.63h-2.63zM25.80 69.66h2.63v2.63h-2.63zM36.12 69.66h2.63v2.63h-2.63zM61.92 69.66h7.79v2.63h-7.79zM77.40 69.66h5.21v2.63h-5.21zM85.14 69.66h2.63v2.63h-2.63zM113.52 69.66h2.63v2.63h-2.63zM121.26 69.66h2.63v2.63h-2.63zM5.16 72.24h2.63v2.63h-2.63zM12.90 72.24h2.63v2.63h-2.63zM18.06 72.24h2.63v2.63h-2.63zM49.02 72.24h2.63v2.63h-2.63zM61.92 72.24h2.63v2.63h-2.63zM77.40 72.24h2.63v2.63h-2.63zM82.56 72.24h2.63v2.63h-2.63zM87.72 72.24h5.21v2.63h-5.21zM98.04 72.24h2.63v2.63h-2.63zM103.20 72.24h2.63v2.63h-2.63zM113.52 72.24h7.79v2.63h-7.79zM5.16 74.82h2.63v2.63h-2.63zM87.72 74.82h2.63v2.63h-2.63zM98.04 74.82h2.63v2.63h-2.63zM123.84 74.82h2.63v2.63h-2.63zM28.38 77.40h2.63v2.63h-2.63zM121.26 77.40h5.21v2.63h-5.21zM0.00 79.98h2.63v2.63h-2.63zM61.92 79.98h2.63v2.63h-2.63zM90.30 79.98h5.21v2.63h-5.21zM100.62 79.98h2.63v2.63h-2.63zM110.94 79.98h2.63v2.63h-2.63zM116.10 79.98h2.63v2.63h-2.63zM5.16 82.56h2.63v2.63h-2.63zM28.38 82.56h2.63v2.63h-2.63zM49.02 82.56h2.63v2.63h-2.63zM18.06 85.14h2.63v2.63h-2.63zM43.86 85.14h5.21v2.63h-5.21zM51.60 85.14h2.63v2.63h-2.63zM56.76 85.14h2.63v2.63h-2.63zM72.24 85.14h2.63v2.63h-2.63zM98.04 85.14h2.63v2.63h-2.63zM110.94 85.14h2.63v2.63h-2.63zM7.74 87.72h2.63v2.63h-2.63zM49.02 87.72h2.63v2.63h-2.63zM74.82 87.72h2.63v2.63h-2.63zM87.72 87.72h2.63v2.63h-2.63zM100.62 87.72h2.63v2.63h-2.63zM105.78 87.72h2.63v2.63h-2.63zM116.10 87.72h5.21v2.63h-5.21zM25.80 90.30h2.63v2.63h-2.63zM69.66 90.30h2.63v2.63h-2.63zM87.72 90.30h2.63v2.63h-2.63zM92.88 90.30h2.63v2.63h-2.63zM110.94 90.30h2.63v2.63h-2.63zM123.84 90.30h2.63v2.63h-2.63zM5.16 92.88h2.63v2.63h-2.63zM12.90 92.88h2.63v2.63h-2.63zM23.22 92.88h2.63v2.63h-2.63zM54.18 92.88h5.21v2.63h-5.21zM69.66 92.88h2.63v2.63h-2.63zM79.98 92.88h5.21v2.63h-5.21zM126.42 92.88h2.63v2.63h-2.63zM2.58 95.46h5.21v2.63h-5.21zM28.38 95.46h2.63v2.63h-2.63zM46.44 95.46h2.63v2.63h-2.63zM54.18 95.46h2.63v2.63h-2.63zM77.40 95.46h2.63v2.63h-2.63zM87.72 95.46h5.21v2.63h-5.21zM105.78 95.46h7.79v2.63h-7.79zM0.00 98.04h2.63v2.63h-2.63zM5.16 98.04h2.63v2.63h-2.63zM10.32 98.04h2.63v2.63h-2.63zM18.06 98.04h2.63v2.63h-2.63zM25.80 98.04h5.21v2.63h-5.21zM56.76 98.04h2.63v2.63h-2.63zM64.50 98.04h2.63v2.63h-2.63zM77.40 98.04h2.63v2.63h-2.63zM82.56 98.04h5.21v2.63h-5.21zM98.04 98.04h2.63v2.63h-2.63zM103.20 98.04h2.63v2.63h-2.63zM108.36 98.04h2.63v2.63h-2.63zM121.26 98.04h2.63v2.63h-2.63zM46.44 100.62h2.63v2.63h-2.63zM64.50 100.62h5.21v2.63h-5.21zM72.24 100.62h2.63v2.63h-2.63zM77.40 100.62h2.63v2.63h-2.63zM85.14 100.62h5.21v2.63h-5.21zM92.88 100.62h2.63v2.63h-2.63zM103.20 100.62h2.63v2.63h-2.63zM110.94 100.62h2.63v2.63h-2.63zM116.10 100.62h2.63v2.63h-2.63zM2.58 103.20h2.63v2.63h-2.63zM12.90 103.20h5.21v2.63h-5.21zM23.22 103.20h2.63v2.63h-2.63zM43.86 103.20h2.63v2.63h-2.63zM54.18 103.20h2.63v2.63h-2.63zM72.24 103.20h2.63v2.63h-2.63zM100.62 103.20h2.63v2.63h-2.63zM110.94 103.20h2.63v2.63h-2.63zM7.74 105.78h5.21v2.63h-5.21zM18.06 105.78h2.63v2.63h-2.63zM23.22 105.78h5.21v2.63h-5.21zM30.96 105.78h5.21v2.63h-5.21zM46.44 105.78h2.63v2.63h-2.63zM87.72 105.78h2.63v2.63h-2.63zM100.62 105.78h2.63v2.63h-2.63zM108.36 105.78h5.21v2.63h-5.21zM0.00 108.36h2.63v2.63h-2.63zM5.16 108.36h2.63v2.63h-2.63zM10.32 108.36h5.21v2.63h-5.21zM23.22 108.36h7.79v2.63h-7.79zM36.12 108.36h5.21v2.63h-5.21zM51.60 108.36h5.21v2.63h-5.21zM59.34 108.36h2.63v2.63h-2.63zM74.82 108.36h2.63v2.63h-2.63zM82.56 108.36h2.63v2.63h-2.63zM92.88 108.36h2.63v2.63h-2.63zM98.04 108.36h2.63v2.63h-2.63zM108.36 108.36h5.21v2.63h-5.21zM118.68 108.36h2.63v2.63h-2.63zM18.06 110.94h2.63v2.63h-2.63zM54.18 110.94h2.63v2.63h-2.63zM98.04 110.94h2.63v2.63h-2.63zM103.20 110.94h2.63v2.63h-2.63zM110.94 110.94h2.63v2.63h-2.63zM59.34 113.52h2.63v2.63h-2.63zM82.56 113.52h7.79v2.63h-7.79zM103.20 113.52h2.63v2.63h-2.63zM110.94 113.52h2.63v2.63h-2.63zM12.90 116.10h2.63v2.63h-2.63zM41.28 116.10h2.63v2.63h-2.63zM46.44 116.10h2.63v2.63h-2.63zM61.92 116.10h2.63v2.63h-2.63zM123.84 116.10h5.21v2.63h-5.21zM20.64 118.68h2.63v2.63h-2.63zM54.18 118.68h2.63v2.63h-2.63zM15.48 121.26h5.21v2.63h-5.21zM54.18 121.26h2.63v2.63h-2.63zM118.68 121.26h2.63v2.63h-2.63zM20.64 123.84h2.63v2.63h-2.63zM46.44 123.84h5.21v2.63h-5.21zM54.18 123.84h5.21v2.63h-5.21zM72.24 123.84h2.63v2.63h-2.63zM77.40 123.84h2.63v2.63h-2.63zM92.88 123.84h2.63v2.63h-2.63zM105.78 123.84h5.21v2.63h-5.21zM121.26 123.84h5.21v2.63h-5.21zM20.64 126.42h2.63v2.63h-2.63zM41.28 126.42h2.63v2.63h-2.63zM49.02 126.42h2.63v2.63h-2.63zM59.34 126.42h5.21v2.63h-5.21zM82.56 126.42h2.63v2.63h-2.63zM90.30 126.42h2.63v2.63h-2.63zM95.46 126.42h5.21v2.63h-5.21zM108.36 126.42h2.63v2.63h-2.63zM118.68 126.42h2.63v2.63h-2.63zM123.84 126.42h2.63v2.63h-2.63z"/>
<path fill="#6b6b6b" d="M12.90 2.58h2.63v2.63h-2.63zM64.50 2.58h7.79v2.63h-7.79zM121.26 2.58h2.63v2.63h-2.63zM10.32 5.16h2.63v2.63h-2.63zM25.80 5.16h2.63v2.63h-2.63zM7.74 7.74h2.63v2.63h-2.63zM20.64 10.32h2.63v2.63h-2.63zM51.60 15.48h2.63v2.63h-2.63zM43.86 20.64h2.63v2.63h-2.63zM51.60 20.64h2.63v2.63h-2.63zM79.98 20.64h2.63v2.63h-2.63zM36.12 23.22h2.63v2.63h-2.63zM103.20 23.22h2.63v2.63h-2.63zM72.24 25.80h2.63v2.63h-2.63zM85.14 25.80h2.63v2.63h-2.63zM118.68 25.80h2.63v2.63h-2.63zM41.28 30.96h2.63v2.63h-2.63zM113.52 30.96h2.63v2.63h-2.63zM10.32 33.54h2.63v2.63h-2.63zM30.96 33.54h2.63v2.63h-2.63zM82.56 33.54h2.63v2.63h-2.63zM113.52 33.54h2.63v2.63h-2.63zM36.12 36.12h2.63v2.63h-2.63zM113.52 36.12h2.63v2.63h-2.63zM0.00 38.70h2.63v2.63h-2.63zM108.36 38.70h5.21v2.63h-5.21zM59.34 49.02h2.63v2.63h-2.63zM20.64 51.60h2.63v2.63h-2.63zM56.76 51.60h2.63v2.63h-2.63zM103.20 54.18h2.63v2.63h-2.63zM20.64 56.76h2.63v2.63h-2.63zM46.44 59.34h2.63v2.63h-2.63zM7.74 67.08h2.63v2.63h-2.63zM12.90 67.08h2.63v2.63h-2.63zM30.96 67.08h2.63v2.63h-2.63zM51.60 69.66h2.63v2.63h-2.63zM33.54 72.24h2.63v2.63h-2.63zM15.48 77.40h2.63v2.63h-2.63zM77.40 77.40h2.63v2.63h-2.63zM103.20 77.40h5.21v2.63h-5.21zM5.16 79.98h15.53v2.63h-15.53zM46.44 79.98h2.63v2.63h-2.63zM69.66 79.98h2.63v2.63h-2.63zM2.58 82.56h2.63v2.63h-2.63zM23.22 85.14h2.63v2.63h-2.63zM77.40 85.14h2.63v2.63h-2.63zM100.62 90.30h2.63v2.63h-2.63zM67.08 92.88h2.63v2.63h-2.63zM85.14 92.88h2.63v2.63h-2.63zM67.08 95.46h2.63v2.63h-2.63zM41.28 98.04h2.63v2.63h-2.63zM10.32 100.62h2.63v2.63h-2.63zM28.38 100.62h2.63v2.63h-2.63zM49.02 100.62h2.63v2.63h-2.63zM108.36 100.62h2.63v2.63h-2.63zM61.92 103.20h2.63v2.63h-2.63zM15.48 105.78h2.63v2.63h-2.63zM30.96 108.36h5.21v2.63h-5.21zM15.48 110.94h2.63v2.63h-2.63zM92.88 110.94h2.63v2.63h-2.63zM41.28 113.52h2.63v2.63h-2.63zM118.68 116.10h2.63v2.63h-2.63zM20.64 121.26h2.63v2.63h-2.63z"/>
<path fill="#8c8c8c" d="M20.64 0.00h2.63v2.63h-2.63zM64.50 0.00h2.63v2.63h-2.63zM23.22 2.58h2.63v2.63h-2.63zM85.14 7.74h2.63v2.63h-2.63zM67.08 15.48h2.63v2.63h-2.63zM79.98 15.48h2.63v2.63h-2.63zM85.14 20.64h2.63v2.63h-2.63zM79.98 23.22h5.21v2.63h-5.21zM82.56 25.80h2.63v2.63h-2.63zM0.00 28.38h2.63v2.63h-2.63zM105.78 49.02h2.63v2.63h-2.63zM103.20 51.60h2.63v2.63h-2.63zM100.62 54.18h2.63v2.63h-2.63zM98.04 56.76h2.63v2.63h-2.63zM20.64 72.24h2.63v2.63h-2.63zM33.54 74.82h2.63v2.63h-2.63zM30.96 82.56h2.63v2.63h-2.63zM43.86 82.56h2.63v2.63h-2.63zM116.10 90.30h2.63v2.63h-2.63zM74.82 95.46h2.63v2.63h-2.63zM38.70 100.62h2.63v2.63h-2.63zM56.76 100.62h2.63v2.63h-2.63zM23.22 110.94h2.63v2.63h-2.63zM7.74 113.52h2.63v2.63h-2.63zM46.44 113.52h2.63v2.63h-2.63z"/>
<path fill="#b2b2b2" d="M23.22 0.00h2.63v2.63h-2.63zM82.56 20.64h2.63v2.63h-2.63zM85.14 23.22h2.63v2.63h-2.63zM108.36 41.28h5.21v2.63h-5.21zM105.78 43.86h2.63v2.63h-2.63zM110.94 43.86h2.63v2.63h-2.63zM108.36 46.44h2.63v2.63h-2.63zM95.46 56.76h2.63v2.63h-2.63zM38.70 72.24h2.63v2.63h-2.63zM38.70 74.82h2.63v2.63h-2.63zM38.70 77.40h2.63v2.63h-2.63zM30.96 85.14h2.63v2.63h-2.63zM38.70 98.04h2.63v2.63h-2.63zM30.96 103.20h2.63v2.63h-2.63zM36.12 103.20h2.63v2.63h-2.63zM59.34 103.20h2.63v2.63h-2.63zM0.00 110.94h2.63v2.63h-2.63zM25.80 110.94h7.79v2.63h-7.79zM38.70 110.94h2.63v2.63h-2.63zM38.70 113.52h2.63v2.63h-2.63zM23.22 116.10h2.63v2.63h-2.63zM23.22 118.68h2.63v2.63h-2.63zM23.22 123.84h2.63v2.63h-2.63zM7.74 126.42h2.63v2.63h-2.63zM23.22 126.42h2.63v2.63h-2.63z"/>
<path fill="#d8d8d8" d="M108.36 43.86h2.63v2.63h-2.63zM103.20 46.44h5.21v2.63h-5.21zM100.62 49.02h5.21v2.63h-5.21zM98.04 51.60h5.21v2.63h-5.21zM95.46 54.18h5.21v2.63h-5.21zM36.12 74.82h2.63v2.63h-2.63zM33.54 77.40h5.21v2.63h-5.21zM33.54 79.98h5.21v2.63h-5.21zM33.54 82.56h2.63v2.63h-2.63zM33.54 85.14h5.21v2.63h-5.21zM30.96 87.72h5.21v2.63h-5.21zM38.70 87.72h2.63v2.63h-2.63zM30.96 90.30h2.63v2.63h-2.63zM36.12 90.30h2.63v2.63h-2.63zM30.96 92.88h2.63v2.63h-2.63zM36.12 92.88h2.63v2.63h-2.63zM30.96 95.46h2.63v2.63h-2.63zM38.70 95.46h2.63v2.63h-2.63zM33.54 98.04h5.21v2.63h-5.21zM61.92 98.04h2.63v2.63h-2.63zM59.34 100.62h5.21v2.63h-5.21zM33.54 103.20h2.63v2.63h-2.63zM2.58 110.94h5.21v2.63h-5.21zM33.54 110.94h5.21v2.63h-5.21zM0.00 113.52h2.63v2.63h-2.63zM5.16 113.52h2.63v2.63h-2.63zM23.22 113.52h15.53v2.63h-15.53zM0.00 116.10h10.37v2.63h-10.37zM28.38 116.10h5.21v2.63h-5.21zM36.12 116.10h2.63v2.63h-2.63zM0.00 118.68h10.37v2.63h-10.37zM25.80 118.68h7.79v2.63h-7.79zM38.70 118.68h2.63v2.63h-2.63zM0.00 121.26h10.37v2.63h-10.37zM23.22 121.26h5.21v2.63h-5.21zM30.96 121.26h10.37v2.63h-10.37zM0.00 123.84h5.21v2.63h-5.21zM7.74 123.84h2.63v2.63h-2.63zM25.80 123.84h2.63v2.63h-2.63zM33.54 123.84h7.79v2.63h-7.79zM0.00 126.42h5.21v2.63h-5.21zM25.80 126.42h5.21v2.63h-5.21zM36.12 126.42h2.63v2.63h-2.63z"/>
<path fill="#f7f7f7" d="M36.12 72.24h2.63v2.63h-2.63zM38.70 79.98h2.63v2.63h-2.63zM36.12 82.56h5.21v2.63h-5.21zM38.70 85.14h2.63v2.63h-2.63zM36.12 87.72h2.63v2.63h-2.63zM33.54 90.30h2.63v2.63h-2.63zM38.70 90.30h2.63v2.63h-2.63zM33.54 92.88h2.63v2.63h-2.63zM38.70 92.88h2.63v2.63h-2.63zM33.54 95.46h5.21v2.63h-5.21zM30.96 98.04h2.63v2.63h-2.63zM59.34 98.04h2.63v2.63h-2.63zM30.96 100.62h7.79v2.63h-7.79zM2.58 113.52h2.63v2.63h-2.63zM25.80 116.10h2.63v2.63h-2.63zM33.54 116.10h2.63v2.63h-2.63zM38.70 116.10h2.63v2.63h-2.63zM33.54 118.68h5.21v2.63h-5.21zM28.38 121.26h2.63v2.63h-2.63zM5.16 123.84h2.63v2.63h-2.63zM28.38 123.84h5.21v2.63h-5.21zM5.16 126.42h2.63v2.63h-2.63zM30.96 126.42h5.21v2.63h-5.21z"/>
<path fill="#e9e491" d="M67.08 49.02h2.63v2.63h-2.63zM69.66 49.02h2.63v2.63h-2.63zM64.50 51.60h2.63v2.63h-2.63zM67.08 51.60h2.63v2.63h-2.63zM69.66 51.60h2.63v2.63h-2.63zM72.24 51.60h2.63v2.63h-2.63zM61.92 54.18h2.63v2.63h-2.63zM64.50 54.18h2.63v2.63h-2.63zM67.08 54.18h2.63v2.63h-2.63zM69.66 54.18h2.63v2.63h-2.63zM72.24 54.18h2.63v2.63h-2.63zM59.34 56.76h2.63v2.63h-2.63zM61.92 56.76h2.63v2.63h-2.63zM64.50 56.76h2.63v2.63h-2.63zM67.08 56.76h2.63v2.63h-2.63zM69.66 56.76h2.63v2.63h-2.63zM72.24 56.76h2.63v2.63h-2.63zM59.34 59.34h2.63v2.63h-2.63zM61.92 59.34h2.63v2.63h-2.63zM64.50 59.34h2.63v2.63h-2.63zM67.08 59.34h2.63v2.63h-2.63zM69.66 59.34h2.63v2.63h-2.63zM72.24 59.34h2.63v2.63h-2.63zM59.34 61.92h2.63v2.63h-2.63zM61.92 61.92h2.63v2.63h-2.63zM64.50 61.92h2.63v2.63h-2.63zM67.08 61.92h2.63v2.63h-2.63zM69.66 61.92h2.63v2.63h-2.63zM72.24 61.92h2.63v2.63h-2.63zM59.34 64.50h2.63v2.63h-2.63zM61.92 64.50h2.63v2.63h-2.63zM64.50 64.50h2.63v2.63h-2.63zM67.08 64.50h2.63v2.63h-2.63zM69.66 64.50h2.63v2.63h-2.63zM72.24 64.50h2.63v2.63h-2.63zM59.34 67.08h2.63v2.63h-2.63zM61.92 67.08h2.63v2.63h-2.63zM64.50 67.08h2.63v2.63h-2.63zM67.08 67.08h2.63v2.63h-2.63zM69.66 67.08h2.63v2.63h-2.63zM72.24 67.08h2.63v2.63h-2.63zM59.34 69.66h2.63v2.63h-2.63zM61.92 69.66h2.63v2.63h-2.63zM64.50 69.66h2.63v2.63h-2.63zM67.08 69.66h2.63v2.63h-2.63zM69.66 69.66h2.63v2.63h-2.63zM72.24 69.66h2.63v2.63h-2.63zM59.34 72.24h2.63v2.63h-2.63zM61.92 72.24h2.63v2.63h-2.63zM64.50 72.24h2.63v2.63h-2.63zM67.08 72.24h2.63v2.63h-2.63zM69.66 72.24h2.63v2.63h-2.63z"/>
</g>
<path d="M72.2 49.4L61.8 75.4" stroke="#e8231c" stroke-width="0.8" stroke-dasharray="2.2 0.8"/>
<path d="M62.3 53.9L75.4 59.3" stroke="#e8231c" stroke-width="0.8" stroke-dasharray="2.2 0.8"/>
</svg>
<!--/THUMB2-->
</div>
<div class="info" style="left:733.5px;top:190.5px"><b>Coronal View</b><br><b>Axis:</b> 12.4 x 7.3 mm<br><b>Diameter:</b> 9.8 mm<br><b>VDT:</b> 1840 Days</div>
<div class="info" style="left:898.5px;top:190.5px"><b>Coronal View</b><br><b>Axis:</b> 10.8 x 5.4 mm<br><b>Diameter:</b> 8.1 mm</div>

<div class="h2" style="top:243px">Nodule Impression</div>
<div id="imp">
  <div class="vl"></div>
  <div class="hl" style="top:20.8px"></div>
  <div class="hl" style="top:42.8px"></div>
  <div class="hl" style="top:63.8px"></div>
  <div class="hl" style="top:85.3px"></div>
  <div class="hl" style="top:105.8px"></div>
  <div class="hl" style="top:126.8px"></div>
  <div class="hl" style="top:147.3px"></div>
  <div class="lb" style="top:6.8px">No: 2</div>
  <div class="lb" style="top:28.8px">Entire Nodule:</div>
  <div class="lb" style="top:49.8px">Density:</div>
  <div class="lb" style="top:70.8px">Solid Part:</div>
  <div class="lb" style="top:92.8px">Lobe:</div>
  <div class="lb" style="top:112.8px">Margin:</div>
  <div class="lb" style="top:133.8px">Follow Up:</div>
  <div class="lb" style="top:153.8px">Lung-RADS:</div>
  <div class="lb" style="left:119.5px;top:5.5px">Slice:</div>
  <div class="inp" style="left:140px;top:3.5px;width:58px">95</div>
  <div class="inp" style="left:120px;top:25.5px;width:57px">9.8</div>
  <div class="lb" style="left:179.5px;top:28px">mm</div>
  <div class="selx" style="left:120px;top:46.2px;width:48px">Solid</div>
  <div class="inp" style="left:120px;top:67.5px;width:57px;color:#9a9db0">--</div>
  <div class="lb" style="left:179.5px;top:70px">mm</div>
  <div class="selx" style="left:120px;top:89px;width:31px">LUL</div>
  <div class="selx" style="left:120px;top:108.6px;width:79px">Sharp circumscribed</div>
  <div class="selx" style="left:120px;top:129.4px;width:75px">Enlarging(&gt;1.5mm)</div>
  <div class="selx" style="left:120px;top:150.3px;width:37px">4B</div>
</div>
</div>
</body>
</html>
